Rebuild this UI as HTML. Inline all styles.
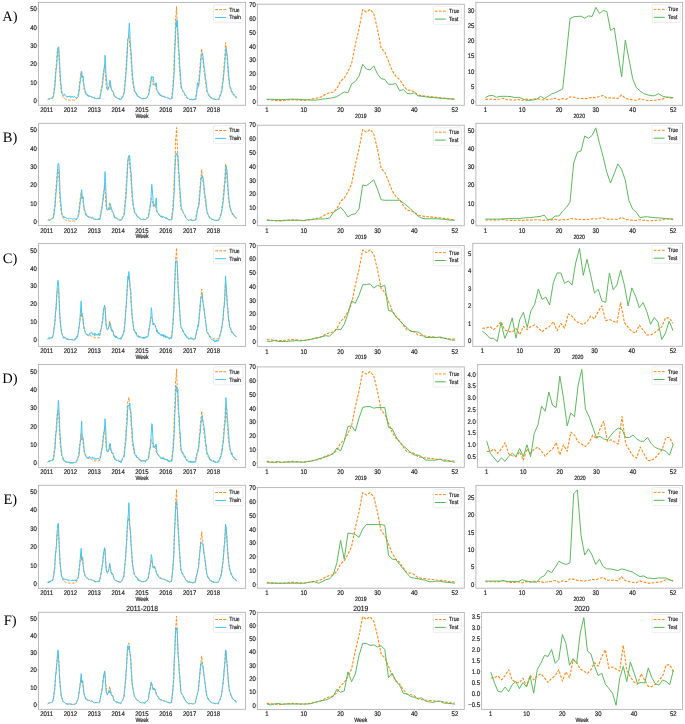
<!DOCTYPE html>
<html><head><meta charset="utf-8"><style>
html,body{margin:0;padding:0;background:#fff;}
svg{display:block;will-change:transform;}
text{text-rendering:geometricPrecision;font-family:"Liberation Sans",sans-serif;fill:#1a1a1a;stroke:#1a1a1a;stroke-width:0.18px;}
text.ser{font-family:"Liberation Serif",serif;fill:#000;stroke:none;}
</style></head><body>
<svg width="685" height="724" viewBox="0 0 685 724">
<rect width="685" height="724" fill="#fff"/>
<clipPath id="c0"><rect x="38.5" y="2.4" width="207.1" height="102.9"/></clipPath>
<polyline clip-path="url(#c0)" points="47.79,99.52 48.25,99.27 48.71,99.07 49.17,98.92 49.62,98.72 50.08,98.59 50.54,98.43 51,98.28 51.46,98.23 51.91,98.03 52.37,97.69 52.83,96.67 53.29,94.89 53.75,92.24 54.2,87.79 54.66,85.34 55.12,77.7 55.58,70.95 56.04,67.88 56.5,60.58 56.95,54.47 57.41,50.64 57.87,48.22 58.33,48.22 58.79,54.51 59.24,62.74 59.7,72.65 60.16,81.12 60.62,85.33 61.08,89.66 61.53,93.07 61.99,94.28 62.45,95.5 62.91,96.66 63.37,97.76 63.82,98.12 64.28,98.32 64.74,98.68 65.2,99 65.66,99.36 66.12,99.64 66.57,99.71 67.03,99.8 67.49,99.84 67.95,99.88 68.41,99.93 68.86,99.98 69.32,100.05 69.78,100.09 70.24,100.15 70.7,100.21 71.15,100.22 71.61,100.2 72.07,100.18 72.53,100.17 72.99,100.15 73.44,100.15 73.9,100.12 74.36,100.09 74.82,100.08 75.28,100.07 75.74,99.92 76.19,98.93 76.65,97.96 77.11,97.05 77.57,96.08 78.03,95.1 78.48,92.62 78.94,88.44 79.4,84.26 79.86,81.12 80.32,77.67 80.77,74.56 81.23,71.19 81.69,77.62 82.15,76.77 82.61,75.79 83.06,80.76 83.52,84.72 83.98,88.75 84.44,90.37 84.9,91.75 85.35,92.85 85.81,94.35 86.27,94.75 86.73,94.88 87.19,95.29 87.65,95.61 88.1,95.95 88.56,96.03 89.02,95.99 89.48,96.32 89.94,96.18 90.39,96.25 90.85,96.37 91.31,96.66 91.77,96.89 92.23,97.21 92.68,97.45 93.14,97.72 93.6,98.03 94.06,98.16 94.52,98.45 94.97,98.61 95.43,98.55 95.89,98.54 96.35,98.53 96.81,98.52 97.27,98.48 97.72,98.45 98.18,98.43 98.64,98.43 99.1,98.47 99.56,98.16 100.01,95.81 100.47,93.27 100.93,90.7 101.39,88.29 101.85,85.84 102.3,81.78 102.76,78.34 103.22,73.03 103.68,70.67 104.14,69.19 104.59,64.94 105.05,69.5 105.51,76.15 105.97,82.79 106.43,88.13 106.89,88.59 107.34,89.63 107.8,89.2 108.26,88.45 108.72,86.85 109.18,84.72 109.63,81.3 110.09,83.06 110.55,85.97 111.01,88.71 111.47,89.9 111.92,90.68 112.38,90.96 112.84,91.45 113.3,93.23 113.76,94.94 114.21,96.41 114.67,96.9 115.13,97.16 115.59,97.27 116.05,97.43 116.51,97.76 116.96,97.95 117.42,98.15 117.88,98.29 118.34,98.58 118.8,98.73 119.25,98.96 119.71,99.2 120.17,99.44 120.63,99.61 121.09,98.92 121.54,98.05 122,97.21 122.46,96.22 122.92,95.39 123.38,94.43 123.83,93.42 124.29,88.3 124.75,83.9 125.21,78.77 125.67,73.03 126.13,65.55 126.58,59.3 127.04,50.24 127.5,41.78 127.96,38.6 128.42,37.09 128.87,34.98 129.33,39.4 129.79,45.85 130.25,48.75 130.71,52.81 131.16,62.63 131.62,67.52 132.08,76.75 132.54,81.3 133,84.17 133.45,86.57 133.91,89.25 134.37,91.51 134.83,92.23 135.29,92.89 135.75,93.6 136.2,94.06 136.66,94.8 137.12,95.53 137.58,96.08 138.04,96.31 138.49,96.78 138.95,97.12 139.41,97.53 139.87,97.82 140.33,98.2 140.78,98.48 141.24,98.49 141.7,98.51 142.16,98.47 142.62,98.53 143.07,98.62 143.53,98.68 143.99,98.66 144.45,98.68 144.91,98.71 145.36,98.45 145.82,97.94 146.28,97.53 146.74,97.13 147.2,96.58 147.66,96.33 148.11,95.76 148.57,93.1 149.03,90.19 149.49,86.72 149.95,85.16 150.4,81.94 150.86,79.93 151.32,77.26 151.78,78.5 152.24,80.38 152.69,82.07 153.15,85.16 153.61,84.83 154.07,84.06 154.53,84.06 154.98,85.24 155.44,85.73 155.9,87.69 156.36,89.41 156.82,91.05 157.28,91.48 157.73,92.13 158.19,92.72 158.65,93.54 159.11,94.02 159.57,94.56 160.02,95.3 160.48,95.39 160.94,95.65 161.4,95.84 161.86,95.93 162.31,95.9 162.77,96.14 163.23,96.2 163.69,96.47 164.15,96.66 164.6,96.69 165.06,96.89 165.52,97.27 165.98,97.34 166.44,97.65 166.9,97.85 167.35,97.93 167.81,98.26 168.27,98.43 168.73,98.54 169.19,98.76 169.64,98.76 170.1,98.72 170.56,98.68 171.02,98.58 171.48,98.57 171.93,94.3 172.39,90.46 172.85,85.92 173.31,77.66 173.77,72.48 174.22,55.2 174.68,45.9 175.14,36.27 175.6,17.34 176.06,15.24 176.52,6.49 176.97,18.81 177.43,27.15 177.89,40.68 178.35,49.86 178.81,55.2 179.26,65.31 179.72,71.71 180.18,78.36 180.64,85.06 181.1,88.12 181.55,89.15 182.01,89.97 182.47,90.57 182.93,91.63 183.39,92.37 183.84,93.2 184.3,94.18 184.76,94.89 185.22,95.77 185.68,96.59 186.14,97.31 186.59,97.69 187.05,98 187.51,98.51 187.97,98.91 188.43,99.3 188.88,99.28 189.34,99.32 189.8,99.33 190.26,99.33 190.72,99.33 191.17,99.36 191.63,99.43 192.09,99.55 192.55,99.63 193.01,99.65 193.46,99.51 193.92,99.36 194.38,99.25 194.84,99.13 195.3,98.97 195.75,96.59 196.21,93.99 196.67,91.77 197.13,90.05 197.59,88 198.05,86.62 198.5,85.16 198.96,78.64 199.42,72.74 199.88,68.62 200.34,62.24 200.79,56.67 201.25,53.97 201.71,48.77 202.17,54.26 202.63,57.43 203.08,61.27 203.54,65.69 204,70.45 204.46,73.03 204.92,77.3 205.37,80.32 205.83,84.52 206.29,87.51 206.75,91.45 207.21,92.02 207.67,93.4 208.12,94.24 208.58,95.01 209.04,96.03 209.5,96.99 209.96,97.39 210.41,97.61 210.87,97.82 211.33,98.1 211.79,98.27 212.25,98.5 212.7,98.64 213.16,98.85 213.62,99.09 214.08,99.3 214.54,99.44 214.99,99.48 215.45,99.49 215.91,99.49 216.37,99.47 216.83,99.5 217.29,99.5 217.74,99.51 218.2,99.46 218.66,98.49 219.12,97.39 219.58,96.43 220.03,95.19 220.49,93.92 220.95,92.34 221.41,90.45 221.87,87.12 222.32,83.64 222.78,80.57 223.24,75.34 223.7,70.77 224.16,63.84 224.61,60.15 225.07,52.75 225.53,42.52 225.99,45.96 226.45,50.24 226.91,56.4 227.36,62.88 227.82,68.62 228.28,75.05 228.74,79.48 229.2,83.69 229.65,85.98 230.11,87.61 230.57,89.31 231.03,90.93 231.49,91.69 231.94,92.72 232.4,93.26 232.86,94.21 233.32,94.89 233.78,95.25 234.23,95.61 234.69,96.27 235.15,96.58 235.61,97.02 236.07,97.6 236.53,98" fill="none" stroke="#fa8a1c" stroke-width="0.95" stroke-dasharray="2.7,1.4" stroke-linejoin="round"/>
<polyline clip-path="url(#c0)" points="47.79,99.59 48.25,99.44 48.71,98.68 49.17,99.12 49.62,98.91 50.08,98.59 50.54,99.04 51,98.41 51.46,98.09 51.91,97.8 52.37,98.64 52.83,97.99 53.29,97.33 53.75,94.35 54.2,91.86 54.66,88.84 55.12,84.14 55.58,76.25 56.04,70.39 56.5,67.43 56.95,62.02 57.41,56.31 57.87,48.49 58.33,47.22 58.79,46.74 59.24,54.38 59.7,64.45 60.16,72.74 60.62,81.28 61.08,84.48 61.53,89.62 61.99,92.8 62.45,93.78 62.91,94.08 63.37,94.96 63.82,95.73 64.28,94.21 64.74,94.15 65.2,94.8 65.66,95.34 66.12,96.36 66.57,96.77 67.03,96.75 67.49,97.19 67.95,96.11 68.41,96.73 68.86,96.07 69.32,96.85 69.78,96.01 70.24,96.23 70.7,97.63 71.15,97.36 71.61,96.26 72.07,96.94 72.53,96.11 72.99,97.02 73.44,97.52 73.9,96.63 74.36,96.37 74.82,97.15 75.28,97.54 75.74,97.77 76.19,97.3 76.65,97.25 77.11,97.9 77.57,97.44 78.03,96.74 78.48,95.86 78.94,92.05 79.4,89.17 79.86,84.1 80.32,81.21 80.77,78.38 81.23,73.1 81.69,71.65 82.15,76.7 82.61,77.82 83.06,76.01 83.52,81.59 83.98,85.31 84.44,87.69 84.9,89.74 85.35,92.14 85.81,92.11 86.27,94.87 86.73,94.93 87.19,94.27 87.65,95.05 88.1,96.29 88.56,95.14 89.02,96.51 89.48,96.39 89.94,95.87 90.39,96.46 90.85,96.58 91.31,97.06 91.77,97.31 92.23,96.76 92.68,97.61 93.14,97.29 93.6,97.92 94.06,98.1 94.52,97.48 94.97,98.47 95.43,98.5 95.89,98.02 96.35,99 96.81,99.04 97.27,97.92 97.72,98.01 98.18,98.81 98.64,98.88 99.1,98.08 99.56,97.83 100.01,98.61 100.47,95.06 100.93,92.56 101.39,90.48 101.85,88.47 102.3,86.82 102.76,83.06 103.22,76.9 103.68,73.72 104.14,68.51 104.59,65.82 105.05,55.2 105.51,62.65 105.97,74.19 106.43,78.37 106.89,82.7 107.34,89.39 107.8,90.22 108.26,89.07 108.72,87.65 109.18,86.58 109.63,85.28 110.09,80.12 110.55,83.86 111.01,87.16 111.47,89.23 111.92,90.02 112.38,91.6 112.84,91.63 113.3,91.71 113.76,93.1 114.21,95.58 114.67,96.63 115.13,96.29 115.59,96.41 116.05,97.03 116.51,97.13 116.96,97.63 117.42,98.49 117.88,98.84 118.34,99 118.8,97.98 119.25,98.45 119.71,98.3 120.17,99.87 120.63,99.25 121.09,99.64 121.54,98.59 122,98.32 122.46,96.43 122.92,96.91 123.38,95.31 123.83,94.01 124.29,92.67 124.75,87.76 125.21,83.37 125.67,77.88 126.13,71.58 126.58,66.15 127.04,58.44 127.5,48.09 127.96,39.28 128.42,37.48 128.87,29.85 129.33,23.03 129.79,30.79 130.25,41.39 130.71,48.41 131.16,52.25 131.62,62.15 132.08,69.17 132.54,76.31 133,79.9 133.45,83.19 133.91,86.02 134.37,89.49 134.83,91.04 135.29,92.07 135.75,93.01 136.2,92.98 136.66,94.81 137.12,94.37 137.58,96.32 138.04,95.92 138.49,96.34 138.95,97.21 139.41,96.81 139.87,97.53 140.33,97.64 140.78,97.58 141.24,98.84 141.7,99.21 142.16,98.8 142.62,98.21 143.07,98.96 143.53,99.1 143.99,98.09 144.45,98.43 144.91,98.76 145.36,98.14 145.82,98.71 146.28,97.69 146.74,97.99 147.2,97.24 147.66,96.09 148.11,95.65 148.57,95.12 149.03,93.32 149.49,90.02 149.95,87.16 150.4,86.08 150.86,81.95 151.32,78.94 151.78,76.16 152.24,77.83 152.69,77.98 153.15,76.69 153.61,80.59 154.07,84.16 154.53,84.63 154.98,84.8 155.44,85.41 155.9,82.89 156.36,82.99 156.82,89.48 157.28,90.35 157.73,90.51 158.19,92.22 158.65,93.53 159.11,94.4 159.57,93.34 160.02,95.37 160.48,94.94 160.94,95.27 161.4,95.97 161.86,95.35 162.31,96.73 162.77,96.51 163.23,96.22 163.69,96.98 164.15,95.94 164.6,97.08 165.06,97.27 165.52,97.61 165.98,97.07 166.44,97.42 166.9,97.46 167.35,97.62 167.81,97.47 168.27,97.58 168.73,98.16 169.19,98.98 169.64,98.8 170.1,99.22 170.56,99.42 171.02,98.72 171.48,98.27 171.93,99.03 172.39,94.71 172.85,90.79 173.31,85.44 173.77,77.6 174.22,72.07 174.68,53.94 175.14,46.51 175.6,34.39 176.06,21.63 176.52,27.18 176.97,19.54 177.43,23.39 177.89,31.16 178.35,40.96 178.81,49.19 179.26,53.18 179.72,65.82 180.18,71.46 180.64,77.2 181.1,84.31 181.55,87.1 182.01,89.23 182.47,89.64 182.93,91.18 183.39,91.19 183.84,91.75 184.3,92.94 184.76,93.79 185.22,95.39 185.68,95.1 186.14,95.81 186.59,96.57 187.05,97.63 187.51,97.57 187.97,98.77 188.43,98.33 188.88,98.81 189.34,99.49 189.8,99.9 190.26,99.41 190.72,99.26 191.17,98.96 191.63,99.37 192.09,100.08 192.55,99.13 193.01,100.22 193.46,99.24 193.92,99.96 194.38,99.59 194.84,98.85 195.3,99.64 195.75,99.47 196.21,96.55 196.67,93.05 197.13,86.21 197.59,82.83 198.05,85.43 198.5,86.58 198.96,84.03 199.42,79.9 199.88,73.72 200.34,68.52 200.79,63.15 201.25,55.77 201.71,54.39 202.17,52.89 202.63,53.54 203.08,57.21 203.54,62.1 204,66.17 204.46,69.17 204.92,71.63 205.37,78.22 205.83,79.3 206.29,83.32 206.75,87.46 207.21,91.3 207.67,92.61 208.12,93.34 208.58,94.23 209.04,94.82 209.5,96.81 209.96,96.26 210.41,97.36 210.87,97.76 211.33,97.37 211.79,98.01 212.25,98.28 212.7,98.23 213.16,99.26 213.62,98.79 214.08,99.21 214.54,98.67 214.99,98.85 215.45,99.79 215.91,99.53 216.37,100.01 216.83,99.57 217.29,99.07 217.74,98.95 218.2,99.54 218.66,99.71 219.12,98.94 219.58,97.21 220.03,95.74 220.49,95.83 220.95,93.41 221.41,93.27 221.87,91.09 222.32,87.77 222.78,83.15 223.24,81.08 223.7,75.82 224.16,70.33 224.61,65.51 225.07,59.11 225.53,54.85 225.99,48.18 226.45,50.57 226.91,52.77 227.36,56.25 227.82,63.16 228.28,69.1 228.74,75.34 229.2,79.39 229.65,84.59 230.11,86.7 230.57,87.3 231.03,89.01 231.49,90.87 231.94,90.99 232.4,92.51 232.86,92.59 233.32,94.69 233.78,94.47 234.23,94.72 234.69,94.93 235.15,96.57 235.61,96.88 236.07,96.36 236.53,98.03" fill="none" stroke="#3ec3f2" stroke-width="0.95" stroke-linejoin="round"/>
<rect x="38.5" y="2.4" width="207.1" height="102.9" fill="none" stroke="#b3b3b3" stroke-width="0.9"/>
<line x1="37.2" y1="100.6" x2="38.5" y2="100.6" stroke="#b3b3b3" stroke-width="0.6"/>
<text transform="matrix(0.89,0,0,1,36.9,103.05)" text-anchor="end" font-size="6.7">0</text>
<line x1="37.2" y1="82.22" x2="38.5" y2="82.22" stroke="#b3b3b3" stroke-width="0.6"/>
<text transform="matrix(0.89,0,0,1,36.9,84.67)" text-anchor="end" font-size="6.7">10</text>
<line x1="37.2" y1="63.84" x2="38.5" y2="63.84" stroke="#b3b3b3" stroke-width="0.6"/>
<text transform="matrix(0.89,0,0,1,36.9,66.29)" text-anchor="end" font-size="6.7">20</text>
<line x1="37.2" y1="45.46" x2="38.5" y2="45.46" stroke="#b3b3b3" stroke-width="0.6"/>
<text transform="matrix(0.89,0,0,1,36.9,47.91)" text-anchor="end" font-size="6.7">30</text>
<line x1="37.2" y1="27.08" x2="38.5" y2="27.08" stroke="#b3b3b3" stroke-width="0.6"/>
<text transform="matrix(0.89,0,0,1,36.9,29.53)" text-anchor="end" font-size="6.7">40</text>
<line x1="37.2" y1="8.7" x2="38.5" y2="8.7" stroke="#b3b3b3" stroke-width="0.6"/>
<text transform="matrix(0.89,0,0,1,36.9,11.15)" text-anchor="end" font-size="6.7">50</text>
<line x1="46.6" y1="105.3" x2="46.6" y2="106.6" stroke="#b3b3b3" stroke-width="0.6"/>
<text transform="matrix(0.89,0,0,1,46.6,112.35)" text-anchor="middle" font-size="6.7">2011</text>
<line x1="70.43" y1="105.3" x2="70.43" y2="106.6" stroke="#b3b3b3" stroke-width="0.6"/>
<text transform="matrix(0.89,0,0,1,70.43,112.35)" text-anchor="middle" font-size="6.7">2012</text>
<line x1="94.26" y1="105.3" x2="94.26" y2="106.6" stroke="#b3b3b3" stroke-width="0.6"/>
<text transform="matrix(0.89,0,0,1,94.26,112.35)" text-anchor="middle" font-size="6.7">2013</text>
<line x1="118.09" y1="105.3" x2="118.09" y2="106.6" stroke="#b3b3b3" stroke-width="0.6"/>
<text transform="matrix(0.89,0,0,1,118.09,112.35)" text-anchor="middle" font-size="6.7">2014</text>
<line x1="141.92" y1="105.3" x2="141.92" y2="106.6" stroke="#b3b3b3" stroke-width="0.6"/>
<text transform="matrix(0.89,0,0,1,141.92,112.35)" text-anchor="middle" font-size="6.7">2015</text>
<line x1="165.75" y1="105.3" x2="165.75" y2="106.6" stroke="#b3b3b3" stroke-width="0.6"/>
<text transform="matrix(0.89,0,0,1,165.75,112.35)" text-anchor="middle" font-size="6.7">2016</text>
<line x1="189.58" y1="105.3" x2="189.58" y2="106.6" stroke="#b3b3b3" stroke-width="0.6"/>
<text transform="matrix(0.89,0,0,1,189.58,112.35)" text-anchor="middle" font-size="6.7">2017</text>
<line x1="213.41" y1="105.3" x2="213.41" y2="106.6" stroke="#b3b3b3" stroke-width="0.6"/>
<text transform="matrix(0.89,0,0,1,213.41,112.35)" text-anchor="middle" font-size="6.7">2018</text>
<text transform="matrix(0.84,0,0,1,142.05,118.1)" text-anchor="middle" font-size="6.2">Week</text>
<rect x="213.6" y="4.7" width="29.5" height="18.0" rx="1" fill="#fff" fill-opacity="0.85" stroke="#e2e2e2" stroke-width="0.6"/>
<line x1="215.2" y1="9.6" x2="226.1" y2="9.6" stroke="#fa8a1c" stroke-width="1" stroke-dasharray="2.7,1.4"/>
<text transform="matrix(0.86,0,0,1,229.3,11.5)" font-size="6.0">True</text>
<line x1="215.2" y1="17.5" x2="226.1" y2="17.5" stroke="#3ec3f2" stroke-width="1"/>
<text transform="matrix(0.86,0,0,1,229.3,19.4)" font-size="6.0">Train</text>
<clipPath id="c1"><rect x="257.4" y="4.2" width="206.9" height="101.1"/></clipPath>
<polyline clip-path="url(#c1)" points="266.8,99.56 270.49,99.84 274.18,100.25 277.87,100.67 281.56,100.67 285.24,100.25 288.93,99.84 292.62,99.56 296.31,99.84 300,100.25 303.69,100.53 307.37,99.84 311.06,99.28 314.75,98.31 318.44,97.9 322.13,96.51 325.81,94.02 329.5,92.77 333.19,91.94 336.88,88.47 340.57,81.13 344.25,77.94 347.94,71.57 351.63,63.53 355.32,44.69 359.01,28.89 362.69,9.35 366.38,11.98 370.07,9.35 373.76,13.65 377.45,28.89 381.13,48.15 384.82,52.17 388.51,61.04 392.2,70.6 395.89,76.28 399.57,79.47 403.26,85.15 406.95,89.86 410.64,90.41 414.33,91.8 418.01,94.99 421.7,95.68 425.39,96.1 429.08,96.51 432.77,96.79 436.46,97.34 440.14,97.62 443.83,98.04 447.52,98.59 451.21,99.14 454.9,99.14" fill="none" stroke="#fa8a1c" stroke-width="1.1" stroke-dasharray="2.7,1.4" stroke-linejoin="round"/>
<polyline clip-path="url(#c1)" points="266.8,99.28 270.49,99.28 274.18,99.42 277.87,99.56 281.56,99.56 285.24,99.42 288.93,99.28 292.62,99.14 296.31,99.28 300,99.42 303.69,99.56 307.37,99.84 311.06,100.11 314.75,100.11 318.44,99.84 322.13,99.14 325.81,98.73 329.5,98.31 333.19,97.62 336.88,96.65 340.57,94.29 344.25,91.94 347.94,92.77 351.63,83.9 355.32,81.41 359.01,76.28 362.69,64.22 366.38,69.07 370.07,69.91 373.76,65.89 377.45,73.92 381.13,78.64 384.82,79.47 388.51,84.32 392.2,84.32 395.89,83.49 399.57,90.69 403.26,89.58 406.95,93.19 410.64,93.88 414.33,92.77 418.01,95.96 421.7,96.23 425.39,96.79 429.08,97.34 432.77,97.62 436.46,97.9 440.14,98.17 443.83,98.45 447.52,98.73 451.21,98.87 454.9,99.01" fill="none" stroke="#55b355" stroke-width="0.95" stroke-linejoin="round"/>
<rect x="257.4" y="4.2" width="206.9" height="101.1" fill="none" stroke="#b3b3b3" stroke-width="0.9"/>
<line x1="256.1" y1="101.5" x2="257.4" y2="101.5" stroke="#b3b3b3" stroke-width="0.6"/>
<text transform="matrix(0.89,0,0,1,255.8,103.95)" text-anchor="end" font-size="6.7">0</text>
<line x1="256.1" y1="87.64" x2="257.4" y2="87.64" stroke="#b3b3b3" stroke-width="0.6"/>
<text transform="matrix(0.89,0,0,1,255.8,90.09)" text-anchor="end" font-size="6.7">10</text>
<line x1="256.1" y1="73.79" x2="257.4" y2="73.79" stroke="#b3b3b3" stroke-width="0.6"/>
<text transform="matrix(0.89,0,0,1,255.8,76.24)" text-anchor="end" font-size="6.7">20</text>
<line x1="256.1" y1="59.93" x2="257.4" y2="59.93" stroke="#b3b3b3" stroke-width="0.6"/>
<text transform="matrix(0.89,0,0,1,255.8,62.38)" text-anchor="end" font-size="6.7">30</text>
<line x1="256.1" y1="46.07" x2="257.4" y2="46.07" stroke="#b3b3b3" stroke-width="0.6"/>
<text transform="matrix(0.89,0,0,1,255.8,48.52)" text-anchor="end" font-size="6.7">40</text>
<line x1="256.1" y1="32.21" x2="257.4" y2="32.21" stroke="#b3b3b3" stroke-width="0.6"/>
<text transform="matrix(0.89,0,0,1,255.8,34.66)" text-anchor="end" font-size="6.7">50</text>
<line x1="256.1" y1="18.36" x2="257.4" y2="18.36" stroke="#b3b3b3" stroke-width="0.6"/>
<text transform="matrix(0.89,0,0,1,255.8,20.81)" text-anchor="end" font-size="6.7">60</text>
<line x1="256.1" y1="4.5" x2="257.4" y2="4.5" stroke="#b3b3b3" stroke-width="0.6"/>
<text transform="matrix(0.89,0,0,1,255.8,6.95)" text-anchor="end" font-size="6.7">70</text>
<line x1="266.8" y1="105.3" x2="266.8" y2="106.6" stroke="#b3b3b3" stroke-width="0.6"/>
<text transform="matrix(0.89,0,0,1,266.8,112.35)" text-anchor="middle" font-size="6.7">1</text>
<line x1="303.69" y1="105.3" x2="303.69" y2="106.6" stroke="#b3b3b3" stroke-width="0.6"/>
<text transform="matrix(0.89,0,0,1,303.69,112.35)" text-anchor="middle" font-size="6.7">10</text>
<line x1="340.57" y1="105.3" x2="340.57" y2="106.6" stroke="#b3b3b3" stroke-width="0.6"/>
<text transform="matrix(0.89,0,0,1,340.57,112.35)" text-anchor="middle" font-size="6.7">20</text>
<line x1="377.45" y1="105.3" x2="377.45" y2="106.6" stroke="#b3b3b3" stroke-width="0.6"/>
<text transform="matrix(0.89,0,0,1,377.45,112.35)" text-anchor="middle" font-size="6.7">30</text>
<line x1="414.33" y1="105.3" x2="414.33" y2="106.6" stroke="#b3b3b3" stroke-width="0.6"/>
<text transform="matrix(0.89,0,0,1,414.33,112.35)" text-anchor="middle" font-size="6.7">40</text>
<line x1="454.9" y1="105.3" x2="454.9" y2="106.6" stroke="#b3b3b3" stroke-width="0.6"/>
<text transform="matrix(0.89,0,0,1,454.9,112.35)" text-anchor="middle" font-size="6.7">52</text>
<text transform="matrix(0.84,0,0,1,360.85,118.1)" text-anchor="middle" font-size="6.2">2019</text>
<rect x="433.3" y="6.3" width="28" height="18.0" rx="1" fill="#fff" fill-opacity="0.85" stroke="#e2e2e2" stroke-width="0.6"/>
<line x1="434.9" y1="11.2" x2="445.8" y2="11.2" stroke="#fa8a1c" stroke-width="1" stroke-dasharray="2.7,1.4"/>
<text transform="matrix(0.86,0,0,1,449,13.1)" font-size="6.0">True</text>
<line x1="434.9" y1="19.1" x2="445.8" y2="19.1" stroke="#55b355" stroke-width="1"/>
<text transform="matrix(0.86,0,0,1,449,21)" font-size="6.0">Test</text>
<clipPath id="c2"><rect x="475.9" y="2.4" width="206.7" height="102.9"/></clipPath>
<polyline clip-path="url(#c2)" points="485.3,99.37 488.98,99.34 492.66,99.07 496.35,99.62 500.03,99.04 503.72,98.22 507.4,99.68 511.09,99.92 514.77,100.04 518.46,99.4 522.14,100.5 525.82,99.04 529.51,99.62 533.19,99.04 536.88,98.8 540.56,99.34 544.25,99.98 547.93,99.4 551.62,99.07 555.3,98.22 558.99,99.8 562.67,98.52 566.35,99.34 570.04,96.85 573.72,97.25 577.41,98.13 581.09,98.43 584.78,98.74 588.46,98.22 592.15,97.25 595.83,97.73 599.51,96.43 603.2,95.46 606.88,98.04 610.57,97.86 614.25,98.13 617.94,98.4 621.62,94.85 625.31,98.34 628.99,99.22 632.68,99.92 636.36,100.22 640.04,98.8 643.73,99.68 647.41,100.53 651.1,100.56 654.78,100.22 658.47,99.68 662.15,99.13 665.84,97.55 669.52,97.55 673.2,98.49" fill="none" stroke="#fa8a1c" stroke-width="1.1" stroke-dasharray="2.7,1.4" stroke-linejoin="round"/>
<polyline clip-path="url(#c2)" points="485.3,97.55 488.98,95.73 492.66,95.43 496.35,97.25 500.03,96.34 503.72,96.34 507.4,96.34 511.09,96.64 514.77,97.55 518.46,97.25 522.14,98.46 525.82,100.29 529.51,100.29 533.19,99.98 536.88,99.07 540.56,96.34 544.25,98.77 547.93,96.34 551.62,93.91 555.3,92.69 558.99,90.87 562.67,89.05 566.35,54.74 570.04,18.6 573.72,16.78 577.41,16.47 581.09,16.17 584.78,18.3 588.46,15.87 592.15,16.47 595.83,7.36 599.51,13.44 603.2,10.4 606.88,11.61 610.57,30.44 614.25,28.01 617.94,52.91 621.62,76.9 625.31,40.16 628.99,59.29 632.68,78.72 636.36,87.53 640.04,90.87 643.73,93.6 647.41,94.82 651.1,95.73 654.78,95.73 658.47,93.6 662.15,96.03 665.84,96.95 669.52,97.25 673.2,97.55" fill="none" stroke="#55b355" stroke-width="0.95" stroke-linejoin="round"/>
<rect x="475.9" y="2.4" width="206.7" height="102.9" fill="none" stroke="#b3b3b3" stroke-width="0.9"/>
<line x1="474.6" y1="101.5" x2="475.9" y2="101.5" stroke="#b3b3b3" stroke-width="0.6"/>
<text transform="matrix(0.89,0,0,1,474.3,103.95)" text-anchor="end" font-size="6.7">0</text>
<line x1="474.6" y1="86.32" x2="475.9" y2="86.32" stroke="#b3b3b3" stroke-width="0.6"/>
<text transform="matrix(0.89,0,0,1,474.3,88.77)" text-anchor="end" font-size="6.7">5</text>
<line x1="474.6" y1="71.13" x2="475.9" y2="71.13" stroke="#b3b3b3" stroke-width="0.6"/>
<text transform="matrix(0.89,0,0,1,474.3,73.58)" text-anchor="end" font-size="6.7">10</text>
<line x1="474.6" y1="55.95" x2="475.9" y2="55.95" stroke="#b3b3b3" stroke-width="0.6"/>
<text transform="matrix(0.89,0,0,1,474.3,58.4)" text-anchor="end" font-size="6.7">15</text>
<line x1="474.6" y1="40.77" x2="475.9" y2="40.77" stroke="#b3b3b3" stroke-width="0.6"/>
<text transform="matrix(0.89,0,0,1,474.3,43.22)" text-anchor="end" font-size="6.7">20</text>
<line x1="474.6" y1="25.58" x2="475.9" y2="25.58" stroke="#b3b3b3" stroke-width="0.6"/>
<text transform="matrix(0.89,0,0,1,474.3,28.03)" text-anchor="end" font-size="6.7">25</text>
<line x1="474.6" y1="10.4" x2="475.9" y2="10.4" stroke="#b3b3b3" stroke-width="0.6"/>
<text transform="matrix(0.89,0,0,1,474.3,12.85)" text-anchor="end" font-size="6.7">30</text>
<line x1="485.3" y1="105.3" x2="485.3" y2="106.6" stroke="#b3b3b3" stroke-width="0.6"/>
<text transform="matrix(0.89,0,0,1,485.3,112.35)" text-anchor="middle" font-size="6.7">1</text>
<line x1="522.14" y1="105.3" x2="522.14" y2="106.6" stroke="#b3b3b3" stroke-width="0.6"/>
<text transform="matrix(0.89,0,0,1,522.14,112.35)" text-anchor="middle" font-size="6.7">10</text>
<line x1="558.99" y1="105.3" x2="558.99" y2="106.6" stroke="#b3b3b3" stroke-width="0.6"/>
<text transform="matrix(0.89,0,0,1,558.99,112.35)" text-anchor="middle" font-size="6.7">20</text>
<line x1="595.83" y1="105.3" x2="595.83" y2="106.6" stroke="#b3b3b3" stroke-width="0.6"/>
<text transform="matrix(0.89,0,0,1,595.83,112.35)" text-anchor="middle" font-size="6.7">30</text>
<line x1="632.68" y1="105.3" x2="632.68" y2="106.6" stroke="#b3b3b3" stroke-width="0.6"/>
<text transform="matrix(0.89,0,0,1,632.68,112.35)" text-anchor="middle" font-size="6.7">40</text>
<line x1="673.2" y1="105.3" x2="673.2" y2="106.6" stroke="#b3b3b3" stroke-width="0.6"/>
<text transform="matrix(0.89,0,0,1,673.2,112.35)" text-anchor="middle" font-size="6.7">52</text>
<text transform="matrix(0.84,0,0,1,579.25,118.1)" text-anchor="middle" font-size="6.2">2020</text>
<rect x="652.2" y="4.5" width="28" height="18.0" rx="1" fill="#fff" fill-opacity="0.85" stroke="#e2e2e2" stroke-width="0.6"/>
<line x1="653.8" y1="9.4" x2="664.7" y2="9.4" stroke="#fa8a1c" stroke-width="1" stroke-dasharray="2.7,1.4"/>
<text transform="matrix(0.86,0,0,1,667.9,11.3)" font-size="6.0">True</text>
<line x1="653.8" y1="17.3" x2="664.7" y2="17.3" stroke="#55b355" stroke-width="1"/>
<text transform="matrix(0.86,0,0,1,667.9,19.2)" font-size="6.0">Test</text>
<clipPath id="c3"><rect x="38.5" y="123.3" width="207.1" height="102.3"/></clipPath>
<polyline clip-path="url(#c3)" points="47.79,220.42 48.25,220.17 48.71,219.97 49.17,219.82 49.62,219.62 50.08,219.49 50.54,219.33 51,219.18 51.46,219.13 51.91,218.94 52.37,218.59 52.83,217.58 53.29,215.8 53.75,213.16 54.2,208.71 54.66,206.28 55.12,198.65 55.58,191.92 56.04,188.85 56.5,181.56 56.95,175.47 57.41,171.65 57.87,169.23 58.33,169.23 58.79,175.51 59.24,183.72 59.7,193.61 60.16,202.06 60.62,206.27 61.08,210.58 61.53,213.98 61.99,215.2 62.45,216.42 62.91,217.57 63.37,218.66 63.82,219.02 64.28,219.23 64.74,219.59 65.2,219.91 65.66,220.27 66.12,220.54 66.57,220.61 67.03,220.7 67.49,220.75 67.95,220.78 68.41,220.84 68.86,220.88 69.32,220.95 69.78,220.99 70.24,221.05 70.7,221.11 71.15,221.12 71.61,221.1 72.07,221.08 72.53,221.07 72.99,221.05 73.44,221.05 73.9,221.03 74.36,220.99 74.82,220.99 75.28,220.98 75.74,220.82 76.19,219.84 76.65,218.87 77.11,217.96 77.57,216.99 78.03,216.01 78.48,213.54 78.94,209.37 79.4,205.2 79.86,202.06 80.32,198.62 80.77,195.52 81.23,192.16 81.69,198.57 82.15,197.72 82.61,196.74 83.06,201.71 83.52,205.65 83.98,209.67 84.44,211.3 84.9,212.67 85.35,213.76 85.81,215.26 86.27,215.66 86.73,215.8 87.19,216.2 87.65,216.52 88.1,216.86 88.56,216.94 89.02,216.9 89.48,217.23 89.94,217.09 90.39,217.15 90.85,217.28 91.31,217.57 91.77,217.8 92.23,218.12 92.68,218.36 93.14,218.63 93.6,218.94 94.06,219.06 94.52,219.35 94.97,219.51 95.43,219.46 95.89,219.44 96.35,219.44 96.81,219.42 97.27,219.38 97.72,219.35 98.18,219.34 98.64,219.34 99.1,219.38 99.56,219.06 100.01,216.72 100.47,214.19 100.93,211.62 101.39,209.22 101.85,206.78 102.3,202.72 102.76,199.29 103.22,193.99 103.68,191.63 104.14,190.16 104.59,185.92 105.05,190.46 105.51,197.11 105.97,203.73 106.43,209.06 106.89,209.52 107.34,210.56 107.8,210.13 108.26,209.37 108.72,207.78 109.18,205.66 109.63,202.24 110.09,204 110.55,206.9 111.01,209.64 111.47,210.83 111.92,211.61 112.38,211.88 112.84,212.37 113.3,214.15 113.76,215.85 114.21,217.32 114.67,217.81 115.13,218.07 115.59,218.18 116.05,218.33 116.51,218.67 116.96,218.86 117.42,219.05 117.88,219.19 118.34,219.48 118.8,219.64 119.25,219.86 119.71,220.1 120.17,220.34 120.63,220.52 121.09,219.82 121.54,218.95 122,218.12 122.46,217.13 122.92,216.3 123.38,215.35 123.83,214.33 124.29,209.23 124.75,204.84 125.21,199.72 125.67,193.99 126.13,186.52 126.58,180.29 127.04,171.25 127.5,162.81 127.96,159.63 128.42,158.13 128.87,156.03 129.33,160.43 129.79,166.87 130.25,169.76 130.71,173.82 131.16,183.61 131.62,188.49 132.08,197.7 132.54,202.24 133,205.11 133.45,207.5 133.91,210.17 134.37,212.43 134.83,213.15 135.29,213.81 135.75,214.52 136.2,214.97 136.66,215.72 137.12,216.44 137.58,216.99 138.04,217.22 138.49,217.69 138.95,218.02 139.41,218.44 139.87,218.72 140.33,219.11 140.78,219.39 141.24,219.4 141.7,219.42 142.16,219.37 142.62,219.44 143.07,219.53 143.53,219.58 143.99,219.56 144.45,219.58 144.91,219.61 145.36,219.36 145.82,218.84 146.28,218.44 146.74,218.04 147.2,217.49 147.66,217.24 148.11,216.67 148.57,214.02 149.03,211.11 149.49,207.65 149.95,206.09 150.4,202.88 150.86,200.87 151.32,198.21 151.78,199.45 152.24,201.33 152.69,203.01 153.15,206.09 153.61,205.76 154.07,205 154.53,204.99 154.98,206.17 155.44,206.67 155.9,208.62 156.36,210.33 156.82,211.97 157.28,212.4 157.73,213.05 158.19,213.63 158.65,214.45 159.11,214.93 159.57,215.48 160.02,216.21 160.48,216.31 160.94,216.56 161.4,216.75 161.86,216.84 162.31,216.81 162.77,217.05 163.23,217.11 163.69,217.38 164.15,217.57 164.6,217.6 165.06,217.8 165.52,218.18 165.98,218.25 166.44,218.56 166.9,218.75 167.35,218.83 167.81,219.16 168.27,219.34 168.73,219.45 169.19,219.67 169.64,219.67 170.1,219.63 170.56,219.58 171.02,219.49 171.48,219.47 171.93,215.22 172.39,211.39 172.85,206.86 173.31,198.61 173.77,193.44 174.22,176.2 174.68,166.92 175.14,157.31 175.6,138.42 176.06,136.32 176.52,127.6 176.97,139.89 177.43,148.21 177.89,161.71 178.35,170.87 178.81,176.2 179.26,186.29 179.72,192.67 180.18,199.31 180.64,206 181.1,209.05 181.55,210.08 182.01,210.89 182.47,211.49 182.93,212.55 183.39,213.29 183.84,214.12 184.3,215.1 184.76,215.8 185.22,216.68 185.68,217.5 186.14,218.22 186.59,218.6 187.05,218.91 187.51,219.41 187.97,219.81 188.43,220.21 188.88,220.18 189.34,220.22 189.8,220.23 190.26,220.23 190.72,220.23 191.17,220.26 191.63,220.34 192.09,220.45 192.55,220.53 193.01,220.55 193.46,220.41 193.92,220.27 194.38,220.15 194.84,220.03 195.3,219.88 195.75,217.5 196.21,214.91 196.67,212.69 197.13,210.97 197.59,208.93 198.05,207.55 198.5,206.09 198.96,199.59 199.42,193.7 199.88,189.59 200.34,183.22 200.79,177.67 201.25,174.97 201.71,169.78 202.17,175.26 202.63,178.43 203.08,182.25 203.54,186.66 204,191.41 204.46,193.99 204.92,198.25 205.37,201.27 205.83,205.46 206.29,208.44 206.75,212.37 207.21,212.93 207.67,214.32 208.12,215.15 208.58,215.92 209.04,216.94 209.5,217.9 209.96,218.29 210.41,218.51 210.87,218.73 211.33,219.01 211.79,219.17 212.25,219.41 212.7,219.54 213.16,219.75 213.62,219.99 214.08,220.2 214.54,220.34 214.99,220.38 215.45,220.4 215.91,220.4 216.37,220.38 216.83,220.4 217.29,220.41 217.74,220.41 218.2,220.36 218.66,219.4 219.12,218.3 219.58,217.34 220.03,216.1 220.49,214.83 220.95,213.26 221.41,211.37 221.87,208.05 222.32,204.58 222.78,201.51 223.24,196.29 223.7,191.73 224.16,184.82 224.61,181.14 225.07,173.76 225.53,163.55 225.99,166.98 226.45,171.25 226.91,177.39 227.36,183.87 227.82,189.59 228.28,196.01 228.74,200.42 229.2,204.63 229.65,206.91 230.11,208.54 230.57,210.24 231.03,211.85 231.49,212.61 231.94,213.64 232.4,214.17 232.86,215.12 233.32,215.8 233.78,216.16 234.23,216.52 234.69,217.18 235.15,217.49 235.61,217.93 236.07,218.51 236.53,218.9" fill="none" stroke="#fa8a1c" stroke-width="0.95" stroke-dasharray="2.7,1.4" stroke-linejoin="round"/>
<polyline clip-path="url(#c3)" points="47.79,220.46 48.25,220.21 48.71,219.94 49.17,220.48 49.62,220.51 50.08,219.8 50.54,219.82 51,218.88 51.46,218.9 51.91,218.98 52.37,218.85 52.83,218.35 53.29,218.15 53.75,215.91 54.2,213.82 54.66,207.78 55.12,207.38 55.58,197.66 56.04,193.47 56.5,188.11 56.95,182.06 57.41,174.43 57.87,164.63 58.33,163.23 58.79,163.63 59.24,169.65 59.7,182.84 60.16,194.96 60.62,200.67 61.08,205.15 61.53,211.42 61.99,214.13 62.45,215.53 62.91,215.99 63.37,216.19 63.82,217.61 64.28,216.67 64.74,217.76 65.2,217.92 65.66,217.2 66.12,218.22 66.57,218.46 67.03,218.27 67.49,218.54 67.95,218.72 68.41,219.29 68.86,218.29 69.32,217.98 69.78,218.04 70.24,218.55 70.7,219.07 71.15,219.12 71.61,218.64 72.07,218.64 72.53,219.46 72.99,219.27 73.44,219.05 73.9,218.83 74.36,218.36 74.82,218.79 75.28,219.56 75.74,218.8 76.19,219.64 76.65,218.95 77.11,218.86 77.57,218.06 78.03,217.17 78.48,215.54 78.94,214.3 79.4,209.25 79.86,206.01 80.32,201.32 80.77,199.21 81.23,194.06 81.69,189.67 82.15,196.52 82.61,198.57 83.06,196.75 83.52,202.53 83.98,206.21 84.44,209.73 84.9,210.33 85.35,212.71 85.81,212.9 86.27,215.86 86.73,214.92 87.19,216.03 87.65,216.73 88.1,216.1 88.56,216.18 89.02,217.76 89.48,217.29 89.94,216.79 90.39,217.35 90.85,217.58 91.31,218.07 91.77,218.3 92.23,217.61 92.68,217.36 93.14,217.59 93.6,218.62 94.06,219.64 94.52,219.32 94.97,218.94 95.43,219.03 95.89,219.25 96.35,219.83 96.81,219.4 97.27,219.46 97.72,219.2 98.18,219.7 98.64,218.68 99.1,218.76 99.56,219.87 100.01,219.37 100.47,216.1 100.93,214.6 101.39,210.7 101.85,209.18 102.3,206.29 102.76,202.15 103.22,200.13 103.68,194.37 104.14,190.32 104.59,182.24 105.05,171.59 105.51,181.69 105.97,191.68 106.43,203.16 106.89,209.57 107.34,209.66 107.8,209.52 108.26,210 108.72,209.14 109.18,208.11 109.63,209.86 110.09,204.86 110.55,204.55 111.01,206.69 111.47,208.74 111.92,210.21 112.38,211.44 112.84,212.2 113.3,212.63 113.76,213.71 114.21,215.74 114.67,218.1 115.13,217.48 115.59,217.44 116.05,217.72 116.51,217.72 116.96,218.05 117.42,218.81 117.88,218.63 118.34,219.37 118.8,220.06 119.25,219.85 119.71,220.13 120.17,219.49 120.63,220.08 121.09,220.46 121.54,219.65 122,219.51 122.46,218.06 122.92,216.8 123.38,216.48 123.83,215.8 124.29,214.51 124.75,209.62 125.21,204.35 125.67,200.8 126.13,195.42 126.58,187.29 127.04,179.39 127.5,169.86 127.96,161.73 128.42,156.15 128.87,156.63 129.33,155.04 129.79,156.84 130.25,165.52 130.71,171.07 131.16,172.9 131.62,184.29 132.08,189.51 132.54,198.25 133,200.99 133.45,206.39 133.91,207.84 134.37,210.66 134.83,213.03 135.29,213.28 135.75,214.34 136.2,213.74 136.66,214.97 137.12,215.37 137.58,217.01 138.04,217.05 138.49,217.05 138.95,217.15 139.41,218.41 139.87,218.5 140.33,218.19 140.78,218.62 141.24,219.78 141.7,219.34 142.16,219.04 142.62,219.53 143.07,219.19 143.53,219.29 143.99,218.9 144.45,219.49 144.91,219.32 145.36,219.82 145.82,219.02 146.28,219.11 146.74,218.44 147.2,218.26 147.66,217.8 148.11,217.83 148.57,217.13 149.03,213.93 149.49,211.64 149.95,208.7 150.4,204.97 150.86,201.24 151.32,191.94 151.78,184.37 152.24,188.72 152.69,195.18 153.15,200.69 153.61,206.4 154.07,206.7 154.53,204.63 154.98,204.1 155.44,205.78 155.9,199.98 156.36,197.92 156.82,209.29 157.28,212.45 157.73,212.58 158.19,213.28 158.65,213.85 159.11,214.64 159.57,214.38 160.02,216.06 160.48,216.71 160.94,216.72 161.4,215.77 161.86,216.71 162.31,217.58 162.77,216.26 163.23,216.44 163.69,216.58 164.15,217.61 164.6,217.19 165.06,217.91 165.52,218.37 165.98,217.61 166.44,217.73 166.9,219 167.35,218.18 167.81,219.55 168.27,219.45 168.73,220.05 169.19,219.92 169.64,220.15 170.1,219.36 170.56,219.92 171.02,220.03 171.48,219.94 171.93,219.74 172.39,214.57 172.85,211.16 173.31,207.83 173.77,198.03 174.22,193.31 174.68,176.45 175.14,166.77 175.6,158.38 176.06,153.15 176.52,154.96 176.97,153.74 177.43,155.47 177.89,155.51 178.35,162.72 178.81,171.32 179.26,176.12 179.72,185.41 180.18,193.46 180.64,198.01 181.1,206.02 181.55,208.24 182.01,209.66 182.47,209.92 182.93,211.11 183.39,212.7 183.84,213.47 184.3,213.92 184.76,214.64 185.22,215.21 185.68,217.3 186.14,218.2 186.59,218.83 187.05,219.23 187.51,219.57 187.97,220.12 188.43,220.17 188.88,220.74 189.34,219.92 189.8,220.06 190.26,219.59 190.72,219.59 191.17,219.89 191.63,219.64 192.09,220.99 192.55,220.83 193.01,219.95 193.46,220.59 193.92,220.81 194.38,219.91 194.84,220.26 195.3,219.97 195.75,220.14 196.21,217.91 196.67,215.65 197.13,212.48 197.59,210.01 198.05,207.82 198.5,206.91 198.96,205 199.42,200 199.88,194.41 200.34,187.96 200.79,182.78 201.25,177.05 201.71,178.47 202.17,175.39 202.63,176.32 203.08,177.4 203.54,180.81 204,185.62 204.46,192 204.92,194.4 205.37,197.11 205.83,199.85 206.29,205.49 206.75,209.15 207.21,212.12 207.67,212.86 208.12,214.57 208.58,215.63 209.04,216.12 209.5,216.75 209.96,218.49 210.41,218.23 210.87,217.83 211.33,218.36 211.79,219.38 212.25,219.29 212.7,219.98 213.16,219.2 213.62,219.56 214.08,220.45 214.54,220.14 214.99,220.21 215.45,220.27 215.91,220.56 216.37,220.66 216.83,220.58 217.29,219.72 217.74,220.64 218.2,220.41 218.66,220.42 219.12,219.87 219.58,218.46 220.03,217.82 220.49,216.41 220.95,215.08 221.41,213.55 221.87,210.46 222.32,208.53 222.78,205.02 223.24,201.06 223.7,196.63 224.16,191.68 224.61,184.2 225.07,183.06 225.53,172.88 225.99,165.91 226.45,168.39 226.91,169.61 227.36,175.04 227.82,183.12 228.28,190.85 228.74,196.21 229.2,201.07 229.65,203.73 230.11,207.56 230.57,209.24 231.03,209.93 231.49,211.57 231.94,212.43 232.4,213.68 232.86,213.31 233.32,215.19 233.78,215.04 234.23,216.35 234.69,216.58 235.15,217.41 235.61,217.14 236.07,217.54 236.53,218.9" fill="none" stroke="#3ec3f2" stroke-width="0.95" stroke-linejoin="round"/>
<rect x="38.5" y="123.3" width="207.1" height="102.3" fill="none" stroke="#b3b3b3" stroke-width="0.9"/>
<line x1="37.2" y1="221.5" x2="38.5" y2="221.5" stroke="#b3b3b3" stroke-width="0.6"/>
<text transform="matrix(0.89,0,0,1,36.9,223.95)" text-anchor="end" font-size="6.7">0</text>
<line x1="37.2" y1="203.16" x2="38.5" y2="203.16" stroke="#b3b3b3" stroke-width="0.6"/>
<text transform="matrix(0.89,0,0,1,36.9,205.61)" text-anchor="end" font-size="6.7">10</text>
<line x1="37.2" y1="184.82" x2="38.5" y2="184.82" stroke="#b3b3b3" stroke-width="0.6"/>
<text transform="matrix(0.89,0,0,1,36.9,187.27)" text-anchor="end" font-size="6.7">20</text>
<line x1="37.2" y1="166.48" x2="38.5" y2="166.48" stroke="#b3b3b3" stroke-width="0.6"/>
<text transform="matrix(0.89,0,0,1,36.9,168.93)" text-anchor="end" font-size="6.7">30</text>
<line x1="37.2" y1="148.14" x2="38.5" y2="148.14" stroke="#b3b3b3" stroke-width="0.6"/>
<text transform="matrix(0.89,0,0,1,36.9,150.59)" text-anchor="end" font-size="6.7">40</text>
<line x1="37.2" y1="129.8" x2="38.5" y2="129.8" stroke="#b3b3b3" stroke-width="0.6"/>
<text transform="matrix(0.89,0,0,1,36.9,132.25)" text-anchor="end" font-size="6.7">50</text>
<line x1="46.6" y1="225.6" x2="46.6" y2="226.9" stroke="#b3b3b3" stroke-width="0.6"/>
<text transform="matrix(0.89,0,0,1,46.6,232.65)" text-anchor="middle" font-size="6.7">2011</text>
<line x1="70.43" y1="225.6" x2="70.43" y2="226.9" stroke="#b3b3b3" stroke-width="0.6"/>
<text transform="matrix(0.89,0,0,1,70.43,232.65)" text-anchor="middle" font-size="6.7">2012</text>
<line x1="94.26" y1="225.6" x2="94.26" y2="226.9" stroke="#b3b3b3" stroke-width="0.6"/>
<text transform="matrix(0.89,0,0,1,94.26,232.65)" text-anchor="middle" font-size="6.7">2013</text>
<line x1="118.09" y1="225.6" x2="118.09" y2="226.9" stroke="#b3b3b3" stroke-width="0.6"/>
<text transform="matrix(0.89,0,0,1,118.09,232.65)" text-anchor="middle" font-size="6.7">2014</text>
<line x1="141.92" y1="225.6" x2="141.92" y2="226.9" stroke="#b3b3b3" stroke-width="0.6"/>
<text transform="matrix(0.89,0,0,1,141.92,232.65)" text-anchor="middle" font-size="6.7">2015</text>
<line x1="165.75" y1="225.6" x2="165.75" y2="226.9" stroke="#b3b3b3" stroke-width="0.6"/>
<text transform="matrix(0.89,0,0,1,165.75,232.65)" text-anchor="middle" font-size="6.7">2016</text>
<line x1="189.58" y1="225.6" x2="189.58" y2="226.9" stroke="#b3b3b3" stroke-width="0.6"/>
<text transform="matrix(0.89,0,0,1,189.58,232.65)" text-anchor="middle" font-size="6.7">2017</text>
<line x1="213.41" y1="225.6" x2="213.41" y2="226.9" stroke="#b3b3b3" stroke-width="0.6"/>
<text transform="matrix(0.89,0,0,1,213.41,232.65)" text-anchor="middle" font-size="6.7">2018</text>
<text transform="matrix(0.84,0,0,1,142.05,238.4)" text-anchor="middle" font-size="6.2">Week</text>
<rect x="213.6" y="125.6" width="29.5" height="18.0" rx="1" fill="#fff" fill-opacity="0.85" stroke="#e2e2e2" stroke-width="0.6"/>
<line x1="215.2" y1="130.5" x2="226.1" y2="130.5" stroke="#fa8a1c" stroke-width="1" stroke-dasharray="2.7,1.4"/>
<text transform="matrix(0.86,0,0,1,229.3,132.4)" font-size="6.0">True</text>
<line x1="215.2" y1="138.4" x2="226.1" y2="138.4" stroke="#3ec3f2" stroke-width="1"/>
<text transform="matrix(0.86,0,0,1,229.3,140.3)" font-size="6.0">Train</text>
<clipPath id="c4"><rect x="257.4" y="125.2" width="206.9" height="100.6"/></clipPath>
<polyline clip-path="url(#c4)" points="266.8,219.86 270.49,220.13 274.18,220.55 277.87,220.97 281.56,220.97 285.24,220.55 288.93,220.13 292.62,219.86 296.31,220.13 300,220.55 303.69,220.83 307.37,220.13 311.06,219.58 314.75,218.61 318.44,218.19 322.13,216.8 325.81,214.3 329.5,213.05 333.19,212.22 336.88,208.75 340.57,201.39 344.25,198.19 347.94,191.81 351.63,183.75 355.32,164.87 359.01,149.04 362.69,129.46 366.38,132.1 370.07,129.46 373.76,133.76 377.45,149.04 381.13,168.34 384.82,172.37 388.51,181.25 392.2,190.83 395.89,196.53 399.57,199.72 403.26,205.41 406.95,210.14 410.64,210.69 414.33,212.08 418.01,215.27 421.7,215.97 425.39,216.38 429.08,216.8 432.77,217.08 436.46,217.63 440.14,217.91 443.83,218.33 447.52,218.88 451.21,219.44 454.9,219.44" fill="none" stroke="#fa8a1c" stroke-width="1.1" stroke-dasharray="2.7,1.4" stroke-linejoin="round"/>
<polyline clip-path="url(#c4)" points="266.8,220.27 270.49,220.55 274.18,220.55 277.87,220.55 281.56,220.55 285.24,220.27 288.93,220.27 292.62,220.27 296.31,220.27 300,220.27 303.69,220.55 307.37,219.72 311.06,219.72 314.75,219.3 318.44,219.02 322.13,219.02 325.81,218.75 329.5,218.19 333.19,212.64 336.88,209.86 340.57,207.36 344.25,211.39 347.94,216.94 351.63,214.44 355.32,213.89 359.01,208.89 362.69,185 366.38,185.7 370.07,182.92 373.76,179.87 377.45,189.03 381.13,199.72 384.82,200.28 388.51,200.28 392.2,200.28 395.89,200.28 399.57,200.28 403.26,202.78 406.95,205.83 410.64,208.89 414.33,212.64 418.01,215.97 421.7,218.19 425.39,218.75 429.08,218.75 432.77,218.75 436.46,218.75 440.14,219.02 443.83,219.3 447.52,219.72 451.21,220.27 454.9,220.27" fill="none" stroke="#55b355" stroke-width="0.95" stroke-linejoin="round"/>
<rect x="257.4" y="125.2" width="206.9" height="100.6" fill="none" stroke="#b3b3b3" stroke-width="0.9"/>
<line x1="256.1" y1="221.8" x2="257.4" y2="221.8" stroke="#b3b3b3" stroke-width="0.6"/>
<text transform="matrix(0.89,0,0,1,255.8,224.25)" text-anchor="end" font-size="6.7">0</text>
<line x1="256.1" y1="207.91" x2="257.4" y2="207.91" stroke="#b3b3b3" stroke-width="0.6"/>
<text transform="matrix(0.89,0,0,1,255.8,210.36)" text-anchor="end" font-size="6.7">10</text>
<line x1="256.1" y1="194.03" x2="257.4" y2="194.03" stroke="#b3b3b3" stroke-width="0.6"/>
<text transform="matrix(0.89,0,0,1,255.8,196.48)" text-anchor="end" font-size="6.7">20</text>
<line x1="256.1" y1="180.14" x2="257.4" y2="180.14" stroke="#b3b3b3" stroke-width="0.6"/>
<text transform="matrix(0.89,0,0,1,255.8,182.59)" text-anchor="end" font-size="6.7">30</text>
<line x1="256.1" y1="166.26" x2="257.4" y2="166.26" stroke="#b3b3b3" stroke-width="0.6"/>
<text transform="matrix(0.89,0,0,1,255.8,168.71)" text-anchor="end" font-size="6.7">40</text>
<line x1="256.1" y1="152.37" x2="257.4" y2="152.37" stroke="#b3b3b3" stroke-width="0.6"/>
<text transform="matrix(0.89,0,0,1,255.8,154.82)" text-anchor="end" font-size="6.7">50</text>
<line x1="256.1" y1="138.49" x2="257.4" y2="138.49" stroke="#b3b3b3" stroke-width="0.6"/>
<text transform="matrix(0.89,0,0,1,255.8,140.94)" text-anchor="end" font-size="6.7">60</text>
<line x1="256.1" y1="124.6" x2="257.4" y2="124.6" stroke="#b3b3b3" stroke-width="0.6"/>
<text transform="matrix(0.89,0,0,1,255.8,127.05)" text-anchor="end" font-size="6.7">70</text>
<line x1="266.8" y1="225.8" x2="266.8" y2="227.1" stroke="#b3b3b3" stroke-width="0.6"/>
<text transform="matrix(0.89,0,0,1,266.8,232.85)" text-anchor="middle" font-size="6.7">1</text>
<line x1="303.69" y1="225.8" x2="303.69" y2="227.1" stroke="#b3b3b3" stroke-width="0.6"/>
<text transform="matrix(0.89,0,0,1,303.69,232.85)" text-anchor="middle" font-size="6.7">10</text>
<line x1="340.57" y1="225.8" x2="340.57" y2="227.1" stroke="#b3b3b3" stroke-width="0.6"/>
<text transform="matrix(0.89,0,0,1,340.57,232.85)" text-anchor="middle" font-size="6.7">20</text>
<line x1="377.45" y1="225.8" x2="377.45" y2="227.1" stroke="#b3b3b3" stroke-width="0.6"/>
<text transform="matrix(0.89,0,0,1,377.45,232.85)" text-anchor="middle" font-size="6.7">30</text>
<line x1="414.33" y1="225.8" x2="414.33" y2="227.1" stroke="#b3b3b3" stroke-width="0.6"/>
<text transform="matrix(0.89,0,0,1,414.33,232.85)" text-anchor="middle" font-size="6.7">40</text>
<line x1="454.9" y1="225.8" x2="454.9" y2="227.1" stroke="#b3b3b3" stroke-width="0.6"/>
<text transform="matrix(0.89,0,0,1,454.9,232.85)" text-anchor="middle" font-size="6.7">52</text>
<text transform="matrix(0.84,0,0,1,360.85,238.6)" text-anchor="middle" font-size="6.2">2019</text>
<rect x="433.3" y="127.3" width="28" height="18.0" rx="1" fill="#fff" fill-opacity="0.85" stroke="#e2e2e2" stroke-width="0.6"/>
<line x1="434.9" y1="132.2" x2="445.8" y2="132.2" stroke="#fa8a1c" stroke-width="1" stroke-dasharray="2.7,1.4"/>
<text transform="matrix(0.86,0,0,1,449,134.1)" font-size="6.0">True</text>
<line x1="434.9" y1="140.1" x2="445.8" y2="140.1" stroke="#55b355" stroke-width="1"/>
<text transform="matrix(0.86,0,0,1,449,142)" font-size="6.0">Test</text>
<clipPath id="c5"><rect x="475.9" y="123.3" width="206.6" height="102.5"/></clipPath>
<polyline clip-path="url(#c5)" points="485.29,220.02 488.97,220.01 492.66,219.84 496.34,220.17 500.02,219.82 503.7,219.33 507.39,220.21 511.07,220.35 514.75,220.43 518.44,220.04 522.12,220.7 525.8,219.82 529.48,220.17 533.17,219.82 536.85,219.68 540.53,220.01 544.21,220.39 547.9,220.04 551.58,219.84 555.26,219.33 558.95,220.28 562.63,219.51 566.31,220.01 569.99,218.51 573.68,218.75 577.36,219.28 581.04,219.46 584.72,219.64 588.41,219.33 592.09,218.75 595.77,219.04 599.45,218.26 603.14,217.67 606.82,219.22 610.5,219.11 614.19,219.28 617.87,219.44 621.55,217.31 625.23,219.41 628.92,219.93 632.6,220.35 636.28,220.53 639.96,219.68 643.65,220.21 647.33,220.72 651.01,220.74 654.7,220.53 658.38,220.21 662.06,219.88 665.74,218.93 669.43,218.93 673.11,219.5" fill="none" stroke="#fa8a1c" stroke-width="1.1" stroke-dasharray="2.7,1.4" stroke-linejoin="round"/>
<polyline clip-path="url(#c5)" points="485.29,219.11 488.97,219.11 492.66,219.11 496.34,219.11 500.02,219.11 503.7,218.93 507.39,218.57 511.07,218.57 514.75,218.57 518.44,218.57 522.12,218.2 525.8,217.66 529.48,217.66 533.17,217.29 536.85,216.75 540.53,216.38 544.21,215.11 547.9,219.84 551.58,218.93 555.26,216.02 558.95,216.02 562.63,211.1 566.31,207.45 569.99,202.35 573.68,163 577.36,152.25 581.04,150.79 584.72,136.03 588.41,138.4 592.09,135.48 595.77,127.83 599.45,143.14 603.14,156.8 606.82,172.29 610.5,183.04 614.19,173.75 617.87,163.91 621.55,169.19 625.23,179.94 628.92,200.53 632.6,209.09 636.28,212.19 639.96,217.66 643.65,216.93 647.33,216.75 651.01,217.29 654.7,217.66 658.38,217.84 662.06,218.2 665.74,218.57 669.43,218.93 673.11,219.11" fill="none" stroke="#55b355" stroke-width="0.95" stroke-linejoin="round"/>
<rect x="475.9" y="123.3" width="206.6" height="102.5" fill="none" stroke="#b3b3b3" stroke-width="0.9"/>
<line x1="474.6" y1="221.3" x2="475.9" y2="221.3" stroke="#b3b3b3" stroke-width="0.6"/>
<text transform="matrix(0.89,0,0,1,474.3,223.75)" text-anchor="end" font-size="6.7">0</text>
<line x1="474.6" y1="203.08" x2="475.9" y2="203.08" stroke="#b3b3b3" stroke-width="0.6"/>
<text transform="matrix(0.89,0,0,1,474.3,205.53)" text-anchor="end" font-size="6.7">10</text>
<line x1="474.6" y1="184.86" x2="475.9" y2="184.86" stroke="#b3b3b3" stroke-width="0.6"/>
<text transform="matrix(0.89,0,0,1,474.3,187.31)" text-anchor="end" font-size="6.7">20</text>
<line x1="474.6" y1="166.64" x2="475.9" y2="166.64" stroke="#b3b3b3" stroke-width="0.6"/>
<text transform="matrix(0.89,0,0,1,474.3,169.09)" text-anchor="end" font-size="6.7">30</text>
<line x1="474.6" y1="148.42" x2="475.9" y2="148.42" stroke="#b3b3b3" stroke-width="0.6"/>
<text transform="matrix(0.89,0,0,1,474.3,150.87)" text-anchor="end" font-size="6.7">40</text>
<line x1="474.6" y1="130.2" x2="475.9" y2="130.2" stroke="#b3b3b3" stroke-width="0.6"/>
<text transform="matrix(0.89,0,0,1,474.3,132.65)" text-anchor="end" font-size="6.7">50</text>
<line x1="485.29" y1="225.8" x2="485.29" y2="227.1" stroke="#b3b3b3" stroke-width="0.6"/>
<text transform="matrix(0.89,0,0,1,485.29,232.85)" text-anchor="middle" font-size="6.7">1</text>
<line x1="522.12" y1="225.8" x2="522.12" y2="227.1" stroke="#b3b3b3" stroke-width="0.6"/>
<text transform="matrix(0.89,0,0,1,522.12,232.85)" text-anchor="middle" font-size="6.7">10</text>
<line x1="558.95" y1="225.8" x2="558.95" y2="227.1" stroke="#b3b3b3" stroke-width="0.6"/>
<text transform="matrix(0.89,0,0,1,558.95,232.85)" text-anchor="middle" font-size="6.7">20</text>
<line x1="595.77" y1="225.8" x2="595.77" y2="227.1" stroke="#b3b3b3" stroke-width="0.6"/>
<text transform="matrix(0.89,0,0,1,595.77,232.85)" text-anchor="middle" font-size="6.7">30</text>
<line x1="632.6" y1="225.8" x2="632.6" y2="227.1" stroke="#b3b3b3" stroke-width="0.6"/>
<text transform="matrix(0.89,0,0,1,632.6,232.85)" text-anchor="middle" font-size="6.7">40</text>
<line x1="673.11" y1="225.8" x2="673.11" y2="227.1" stroke="#b3b3b3" stroke-width="0.6"/>
<text transform="matrix(0.89,0,0,1,673.11,232.85)" text-anchor="middle" font-size="6.7">52</text>
<text transform="matrix(0.84,0,0,1,579.2,238.6)" text-anchor="middle" font-size="6.2">2020</text>
<rect x="652.1" y="125.4" width="28" height="18.0" rx="1" fill="#fff" fill-opacity="0.85" stroke="#e2e2e2" stroke-width="0.6"/>
<line x1="653.7" y1="130.3" x2="664.6" y2="130.3" stroke="#fa8a1c" stroke-width="1" stroke-dasharray="2.7,1.4"/>
<text transform="matrix(0.86,0,0,1,667.8,132.2)" font-size="6.0">True</text>
<line x1="653.7" y1="138.2" x2="664.6" y2="138.2" stroke="#55b355" stroke-width="1"/>
<text transform="matrix(0.86,0,0,1,667.8,140.1)" font-size="6.0">Test</text>
<clipPath id="c6"><rect x="38.5" y="243.6" width="207.1" height="102.8"/></clipPath>
<polyline clip-path="url(#c6)" points="47.79,338.85 48.25,338.6 48.71,338.4 49.17,338.26 49.62,338.06 50.08,337.93 50.54,337.78 51,337.63 51.46,337.58 51.91,337.39 52.37,337.05 52.83,336.06 53.29,334.32 53.75,331.73 54.2,327.38 54.66,324.99 55.12,317.52 55.58,310.93 56.04,307.93 56.5,300.79 56.95,294.82 57.41,291.08 57.87,288.71 58.33,288.71 58.79,294.87 59.24,302.9 59.7,312.59 60.16,320.86 60.62,324.98 61.08,329.21 61.53,332.54 61.99,333.73 62.45,334.92 62.91,336.05 63.37,337.12 63.82,337.47 64.28,337.67 64.74,338.03 65.2,338.34 65.66,338.69 66.12,338.96 66.57,339.03 67.03,339.12 67.49,339.16 67.95,339.2 68.41,339.25 68.86,339.29 69.32,339.36 69.78,339.4 70.24,339.46 70.7,339.52 71.15,339.53 71.61,339.51 72.07,339.49 72.53,339.48 72.99,339.46 73.44,339.46 73.9,339.44 74.36,339.4 74.82,339.4 75.28,339.39 75.74,339.23 76.19,338.27 76.65,337.32 77.11,336.43 77.57,335.48 78.03,334.52 78.48,332.11 78.94,328.02 79.4,323.94 79.86,320.86 80.32,317.5 80.77,314.45 81.23,311.16 81.69,317.45 82.15,316.62 82.61,315.65 83.06,320.52 83.52,324.38 83.98,328.32 84.44,329.91 84.9,331.26 85.35,332.32 85.81,333.79 86.27,334.18 86.73,334.31 87.19,334.71 87.65,335.03 88.1,335.35 88.56,335.44 89.02,335.4 89.48,335.72 89.94,335.58 90.39,335.64 90.85,335.76 91.31,336.05 91.77,336.28 92.23,336.59 92.68,336.82 93.14,337.09 93.6,337.39 94.06,337.51 94.52,337.8 94.97,337.95 95.43,337.9 95.89,337.88 96.35,337.88 96.81,337.87 97.27,337.82 97.72,337.8 98.18,337.78 98.64,337.78 99.1,337.82 99.56,337.51 100.01,335.22 100.47,332.74 100.93,330.22 101.39,327.87 101.85,325.48 102.3,321.51 102.76,318.15 103.22,312.96 103.68,310.65 104.14,309.21 104.59,305.06 105.05,309.51 105.51,316.01 105.97,322.5 106.43,327.72 106.89,328.17 107.34,329.18 107.8,328.76 108.26,328.03 108.72,326.46 109.18,324.38 109.63,321.04 110.09,322.76 110.55,325.61 111.01,328.28 111.47,329.45 111.92,330.21 112.38,330.48 112.84,330.96 113.3,332.7 113.76,334.37 114.21,335.8 114.67,336.29 115.13,336.54 115.59,336.65 116.05,336.8 116.51,337.13 116.96,337.31 117.42,337.5 117.88,337.64 118.34,337.92 118.8,338.08 119.25,338.3 119.71,338.53 120.17,338.77 120.63,338.94 121.09,338.26 121.54,337.41 122,336.59 122.46,335.62 122.92,334.81 123.38,333.88 123.83,332.88 124.29,327.88 124.75,323.58 125.21,318.57 125.67,312.96 126.13,305.65 126.58,299.54 127.04,290.69 127.5,282.43 127.96,279.31 128.42,277.85 128.87,275.78 129.33,280.1 129.79,286.4 130.25,289.23 130.71,293.2 131.16,302.79 131.62,307.57 132.08,316.6 132.54,321.04 133,323.85 133.45,326.19 133.91,328.81 134.37,331.02 134.83,331.72 135.29,332.37 135.75,333.06 136.2,333.51 136.66,334.24 137.12,334.94 137.58,335.49 138.04,335.71 138.49,336.17 138.95,336.5 139.41,336.9 139.87,337.18 140.33,337.56 140.78,337.83 141.24,337.84 141.7,337.86 142.16,337.82 142.62,337.88 143.07,337.97 143.53,338.02 143.99,338 144.45,338.02 144.91,338.05 145.36,337.8 145.82,337.3 146.28,336.9 146.74,336.51 147.2,335.97 147.66,335.73 148.11,335.17 148.57,332.57 149.03,329.73 149.49,326.34 149.95,324.81 150.4,321.66 150.86,319.7 151.32,317.09 151.78,318.31 152.24,320.14 152.69,321.79 153.15,324.81 153.61,324.49 154.07,323.74 154.53,323.74 154.98,324.89 155.44,325.37 155.9,327.29 156.36,328.96 156.82,330.56 157.28,330.99 157.73,331.62 158.19,332.2 158.65,333 159.11,333.47 159.57,334 160.02,334.72 160.48,334.81 160.94,335.06 161.4,335.25 161.86,335.34 162.31,335.31 162.77,335.54 163.23,335.6 163.69,335.86 164.15,336.05 164.6,336.08 165.06,336.28 165.52,336.65 165.98,336.72 166.44,337.02 166.9,337.21 167.35,337.29 167.81,337.61 168.27,337.78 168.73,337.89 169.19,338.11 169.64,338.1 170.1,338.06 170.56,338.02 171.02,337.93 171.48,337.91 171.93,333.75 172.39,330 172.85,325.56 173.31,317.48 173.77,312.42 174.22,295.54 174.68,286.45 175.14,277.04 175.6,258.54 176.06,256.49 176.52,247.94 176.97,259.98 177.43,268.13 177.89,281.35 178.35,290.32 178.81,295.54 179.26,305.42 179.72,311.67 180.18,318.17 180.64,324.72 181.1,327.7 181.55,328.71 182.01,329.51 182.47,330.1 182.93,331.14 183.39,331.86 183.84,332.67 184.3,333.63 184.76,334.32 185.22,335.18 185.68,335.98 186.14,336.69 186.59,337.06 187.05,337.36 187.51,337.85 187.97,338.25 188.43,338.63 188.88,338.61 189.34,338.65 189.8,338.66 190.26,338.66 190.72,338.66 191.17,338.69 191.63,338.76 192.09,338.88 192.55,338.95 193.01,338.97 193.46,338.83 193.92,338.69 194.38,338.58 194.84,338.46 195.3,338.31 195.75,335.98 196.21,333.44 196.67,331.27 197.13,329.59 197.59,327.59 198.05,326.24 198.5,324.81 198.96,318.44 199.42,312.67 199.88,308.65 200.34,302.41 200.79,296.98 201.25,294.34 201.71,289.25 202.17,294.62 202.63,297.72 203.08,301.47 203.54,305.79 204,310.44 204.46,312.96 204.92,317.14 205.37,320.09 205.83,324.19 206.29,327.11 206.75,330.96 207.21,331.51 207.67,332.87 208.12,333.68 208.58,334.43 209.04,335.43 209.5,336.38 209.96,336.76 210.41,336.98 210.87,337.19 211.33,337.46 211.79,337.62 212.25,337.85 212.7,337.98 213.16,338.19 213.62,338.42 214.08,338.63 214.54,338.76 214.99,338.8 215.45,338.82 215.91,338.82 216.37,338.8 216.83,338.83 217.29,338.83 217.74,338.83 218.2,338.78 218.66,337.84 219.12,336.77 219.58,335.83 220.03,334.61 220.49,333.37 220.95,331.83 221.41,329.98 221.87,326.73 222.32,323.33 222.78,320.32 223.24,315.22 223.7,310.75 224.16,303.98 224.61,300.37 225.07,293.15 225.53,283.15 225.99,286.51 226.45,290.69 226.91,296.71 227.36,303.05 227.82,308.65 228.28,314.93 228.74,319.26 229.2,323.38 229.65,325.61 230.11,327.21 230.57,328.87 231.03,330.45 231.49,331.19 231.94,332.2 232.4,332.73 232.86,333.65 233.32,334.32 233.78,334.67 234.23,335.02 234.69,335.67 235.15,335.97 235.61,336.4 236.07,336.97 236.53,337.36" fill="none" stroke="#fa8a1c" stroke-width="0.95" stroke-dasharray="2.7,1.4" stroke-linejoin="round"/>
<polyline clip-path="url(#c6)" points="47.79,339.4 48.25,338.17 48.71,337.97 49.17,337.43 49.62,338.8 50.08,338.58 50.54,338.63 51,338.3 51.46,337.01 51.91,338.3 52.37,336.98 52.83,336.81 53.29,334.9 53.75,331.95 54.2,326.14 54.66,324.57 55.12,319.87 55.58,312.19 56.04,310.04 56.5,298.1 56.95,291.51 57.41,285.4 57.87,280.27 58.33,281.44 58.79,289.08 59.24,300.43 59.7,313.86 60.16,319.31 60.62,325.04 61.08,328.33 61.53,332.34 61.99,333.93 62.45,335.29 62.91,336.24 63.37,337.58 63.82,338.41 64.28,336.9 64.74,337.32 65.2,337.2 65.66,338.25 66.12,338.83 66.57,338.47 67.03,339.94 67.49,338.77 67.95,339.32 68.41,339.97 68.86,339.96 69.32,339.31 69.78,339.95 70.24,339.55 70.7,339.29 71.15,339.76 71.61,340.32 72.07,339.51 72.53,340.06 72.99,340.04 73.44,340.13 73.9,339.73 74.36,340.35 74.82,339.06 75.28,338.38 75.74,339.48 76.19,337.76 76.65,336.26 77.11,337.61 77.57,336.44 78.03,333.66 78.48,331.06 78.94,327.52 79.4,325.27 79.86,320.76 80.32,313.26 80.77,306.22 81.23,300.98 81.69,314.78 82.15,313.18 82.61,315.96 83.06,319.52 83.52,325.84 83.98,326.65 84.44,329.56 84.9,330.54 85.35,333.21 85.81,333.45 86.27,333.95 86.73,334.06 87.19,335.1 87.65,334.4 88.1,335.78 88.56,335.61 89.02,335.26 89.48,333.42 89.94,334.27 90.39,333.33 90.85,333.5 91.31,332.02 91.77,332.52 92.23,332.86 92.68,334.59 93.14,333.67 93.6,334.25 94.06,335.09 94.52,335.62 94.97,332.95 95.43,335.38 95.89,334.85 96.35,334.94 96.81,334 97.27,335.43 97.72,334.29 98.18,334.57 98.64,333.24 99.1,335.73 99.56,335.18 100.01,333.12 100.47,329.83 100.93,329.45 101.39,327.93 101.85,324.82 102.3,322.39 102.76,320.38 103.22,312.92 103.68,308.14 104.14,307.24 104.59,305.58 105.05,307.6 105.51,313.93 105.97,323.46 106.43,327.39 106.89,328.68 107.34,330.06 107.8,329.51 108.26,329.09 108.72,327.04 109.18,326.64 109.63,323.17 110.09,325.52 110.55,324.72 111.01,327.93 111.47,331.14 111.92,329.3 112.38,331.5 112.84,331.02 113.3,332.54 113.76,334.84 114.21,336.36 114.67,336.46 115.13,337.47 115.59,335.72 116.05,337.78 116.51,336.32 116.96,338.01 117.42,337.98 117.88,337.91 118.34,339.04 118.8,338.96 119.25,338.62 119.71,338.66 120.17,337.9 120.63,337.82 121.09,339.33 121.54,337.32 122,337.53 122.46,334.81 122.92,335.3 123.38,332.74 123.83,332.75 124.29,329.23 124.75,325.62 125.21,319.75 125.67,310.98 126.13,307.84 126.58,299.69 127.04,291.72 127.5,283.77 127.96,276.09 128.42,279.47 128.87,271.52 129.33,276.71 129.79,281.8 130.25,288.85 130.71,289.91 131.16,303.18 131.62,307.13 132.08,316 132.54,319.54 133,322.23 133.45,327.65 133.91,330.07 134.37,330.91 134.83,330.74 135.29,332.27 135.75,333.66 136.2,332.16 136.66,334.81 137.12,336.08 137.58,336.69 138.04,336.96 138.49,335.58 138.95,337.5 139.41,336.36 139.87,336.27 140.33,336.34 140.78,337.09 141.24,338.02 141.7,337.57 142.16,337.02 142.62,337.36 143.07,338.47 143.53,337.4 143.99,338.93 144.45,338.48 144.91,336.87 145.36,337.87 145.82,337.87 146.28,336.18 146.74,336.64 147.2,337.27 147.66,336.98 148.11,335.83 148.57,333.08 149.03,328.25 149.49,327.28 149.95,323.24 150.4,318.96 150.86,316.46 151.32,307.63 151.78,311.35 152.24,317.78 152.69,322.25 153.15,324.9 153.61,322.87 154.07,323.59 154.53,324.99 154.98,325.38 155.44,325.47 155.9,328.42 156.36,328.71 156.82,332.09 157.28,329.95 157.73,332.63 158.19,333.42 158.65,332.73 159.11,334.03 159.57,332.9 160.02,334.73 160.48,334.75 160.94,334.15 161.4,336.02 161.86,334.67 162.31,334.91 162.77,335.74 163.23,334.37 163.69,337.12 164.15,335.1 164.6,337.02 165.06,335.4 165.52,337.53 165.98,337.85 166.44,337.02 166.9,336.16 167.35,337.89 167.81,337.65 168.27,337.52 168.73,338.5 169.19,338.03 169.64,339.27 170.1,338.19 170.56,337.4 171.02,338.31 171.48,338.58 171.93,335.05 172.39,329.33 172.85,325.84 173.31,315.48 173.77,311.11 174.22,298.53 174.68,282.9 175.14,272.85 175.6,261.27 176.06,260.54 176.52,260.73 176.97,262.79 177.43,267.3 177.89,280.52 178.35,292.28 178.81,298.28 179.26,303.99 179.72,311.13 180.18,320.28 180.64,324.15 181.1,327.31 181.55,328.67 182.01,328.57 182.47,328.84 182.93,331.52 183.39,330.88 183.84,332.67 184.3,333.42 184.76,334.56 185.22,334 185.68,336.12 186.14,335.54 186.59,337.46 187.05,336.94 187.51,336.86 187.97,337.81 188.43,338.92 188.88,339.59 189.34,338.7 189.8,338.85 190.26,337.93 190.72,338 191.17,337.57 191.63,338.88 192.09,339.08 192.55,338.8 193.01,338.41 193.46,339.79 193.92,339.35 194.38,339.4 194.84,338.87 195.3,338.78 195.75,334.75 196.21,334.3 196.67,329.89 197.13,330.28 197.59,328.67 198.05,324.44 198.5,326.44 198.96,320.27 199.42,314.69 199.88,311.21 200.34,303.17 200.79,299.13 201.25,297.65 201.71,296.59 202.17,293.77 202.63,300.97 203.08,303.28 203.54,305.38 204,308.25 204.46,312.1 204.92,316.11 205.37,319.18 205.83,322.99 206.29,325.81 206.75,332.07 207.21,332.92 207.67,332.5 208.12,333.63 208.58,334.37 209.04,334.67 209.5,337.22 209.96,336.35 210.41,337.68 210.87,338.31 211.33,339.4 211.79,339.87 212.25,339.84 212.7,340.02 213.16,339.49 213.62,341.03 214.08,340.34 214.54,341.74 214.99,340.65 215.45,341.66 215.91,340.25 216.37,340.01 216.83,341.48 217.29,340.36 217.74,341.56 218.2,341.31 218.66,340.43 219.12,338.21 219.58,337.72 220.03,334.53 220.49,333.21 220.95,332.08 221.41,329.28 221.87,327.72 222.32,324.03 222.78,320.94 223.24,317.76 223.7,308.55 224.16,306.49 224.61,302.34 225.07,288.23 225.53,275.82 225.99,283.86 226.45,290.12 226.91,299.12 227.36,306.3 227.82,308.53 228.28,316.25 228.74,320.88 229.2,321.7 229.65,327.47 230.11,327.71 230.57,327.99 231.03,329.64 231.49,332.45 231.94,331.46 232.4,332.53 232.86,333.27 233.32,333.06 233.78,333.84 234.23,334.75 234.69,334.95 235.15,335.99 235.61,336.27 236.07,336.17 236.53,337.06" fill="none" stroke="#3ec3f2" stroke-width="0.95" stroke-linejoin="round"/>
<rect x="38.5" y="243.6" width="207.1" height="102.8" fill="none" stroke="#b3b3b3" stroke-width="0.9"/>
<line x1="37.2" y1="339.9" x2="38.5" y2="339.9" stroke="#b3b3b3" stroke-width="0.6"/>
<text transform="matrix(0.89,0,0,1,36.9,342.35)" text-anchor="end" font-size="6.7">0</text>
<line x1="37.2" y1="321.94" x2="38.5" y2="321.94" stroke="#b3b3b3" stroke-width="0.6"/>
<text transform="matrix(0.89,0,0,1,36.9,324.39)" text-anchor="end" font-size="6.7">10</text>
<line x1="37.2" y1="303.98" x2="38.5" y2="303.98" stroke="#b3b3b3" stroke-width="0.6"/>
<text transform="matrix(0.89,0,0,1,36.9,306.43)" text-anchor="end" font-size="6.7">20</text>
<line x1="37.2" y1="286.02" x2="38.5" y2="286.02" stroke="#b3b3b3" stroke-width="0.6"/>
<text transform="matrix(0.89,0,0,1,36.9,288.47)" text-anchor="end" font-size="6.7">30</text>
<line x1="37.2" y1="268.06" x2="38.5" y2="268.06" stroke="#b3b3b3" stroke-width="0.6"/>
<text transform="matrix(0.89,0,0,1,36.9,270.51)" text-anchor="end" font-size="6.7">40</text>
<line x1="37.2" y1="250.1" x2="38.5" y2="250.1" stroke="#b3b3b3" stroke-width="0.6"/>
<text transform="matrix(0.89,0,0,1,36.9,252.55)" text-anchor="end" font-size="6.7">50</text>
<line x1="46.6" y1="346.4" x2="46.6" y2="347.7" stroke="#b3b3b3" stroke-width="0.6"/>
<text transform="matrix(0.89,0,0,1,46.6,353.45)" text-anchor="middle" font-size="6.7">2011</text>
<line x1="70.43" y1="346.4" x2="70.43" y2="347.7" stroke="#b3b3b3" stroke-width="0.6"/>
<text transform="matrix(0.89,0,0,1,70.43,353.45)" text-anchor="middle" font-size="6.7">2012</text>
<line x1="94.26" y1="346.4" x2="94.26" y2="347.7" stroke="#b3b3b3" stroke-width="0.6"/>
<text transform="matrix(0.89,0,0,1,94.26,353.45)" text-anchor="middle" font-size="6.7">2013</text>
<line x1="118.09" y1="346.4" x2="118.09" y2="347.7" stroke="#b3b3b3" stroke-width="0.6"/>
<text transform="matrix(0.89,0,0,1,118.09,353.45)" text-anchor="middle" font-size="6.7">2014</text>
<line x1="141.92" y1="346.4" x2="141.92" y2="347.7" stroke="#b3b3b3" stroke-width="0.6"/>
<text transform="matrix(0.89,0,0,1,141.92,353.45)" text-anchor="middle" font-size="6.7">2015</text>
<line x1="165.75" y1="346.4" x2="165.75" y2="347.7" stroke="#b3b3b3" stroke-width="0.6"/>
<text transform="matrix(0.89,0,0,1,165.75,353.45)" text-anchor="middle" font-size="6.7">2016</text>
<line x1="189.58" y1="346.4" x2="189.58" y2="347.7" stroke="#b3b3b3" stroke-width="0.6"/>
<text transform="matrix(0.89,0,0,1,189.58,353.45)" text-anchor="middle" font-size="6.7">2017</text>
<line x1="213.41" y1="346.4" x2="213.41" y2="347.7" stroke="#b3b3b3" stroke-width="0.6"/>
<text transform="matrix(0.89,0,0,1,213.41,353.45)" text-anchor="middle" font-size="6.7">2018</text>
<text transform="matrix(0.84,0,0,1,142.05,359.2)" text-anchor="middle" font-size="6.2">Week</text>
<rect x="213.6" y="245.9" width="29.5" height="18.0" rx="1" fill="#fff" fill-opacity="0.85" stroke="#e2e2e2" stroke-width="0.6"/>
<line x1="215.2" y1="250.8" x2="226.1" y2="250.8" stroke="#fa8a1c" stroke-width="1" stroke-dasharray="2.7,1.4"/>
<text transform="matrix(0.86,0,0,1,229.3,252.7)" font-size="6.0">True</text>
<line x1="215.2" y1="258.7" x2="226.1" y2="258.7" stroke="#3ec3f2" stroke-width="1"/>
<text transform="matrix(0.86,0,0,1,229.3,260.6)" font-size="6.0">Train</text>
<clipPath id="c7"><rect x="257.4" y="245.6" width="206.9" height="101"/></clipPath>
<polyline clip-path="url(#c7)" points="266.8,339.57 270.49,339.85 274.18,340.26 277.87,340.67 281.56,340.67 285.24,340.26 288.93,339.85 292.62,339.57 296.31,339.85 300,340.26 303.69,340.54 307.37,339.85 311.06,339.3 314.75,338.34 318.44,337.92 322.13,336.55 325.81,334.07 329.5,332.83 333.19,332.01 336.88,328.57 340.57,321.28 344.25,318.11 347.94,311.78 351.63,303.81 355.32,285.1 359.01,269.41 362.69,250.01 366.38,252.63 370.07,250.01 373.76,254.28 377.45,269.41 381.13,288.53 384.82,292.52 388.51,301.33 392.2,310.82 395.89,316.46 399.57,319.63 403.26,325.27 406.95,329.94 410.64,330.49 414.33,331.87 418.01,335.03 421.7,335.72 425.39,336.13 429.08,336.55 432.77,336.82 436.46,337.37 440.14,337.65 443.83,338.06 447.52,338.61 451.21,339.16 454.9,339.16" fill="none" stroke="#fa8a1c" stroke-width="1.1" stroke-dasharray="2.7,1.4" stroke-linejoin="round"/>
<polyline clip-path="url(#c7)" points="266.8,341.22 270.49,341.5 274.18,340.54 277.87,341.22 281.56,341.5 285.24,341.5 288.93,341.22 292.62,340.95 296.31,340.54 300,340.95 303.69,340.54 307.37,339.99 311.06,339.3 314.75,338.2 318.44,337.51 322.13,336.55 325.81,335.72 329.5,336.27 333.19,332.56 336.88,328.98 340.57,329.81 344.25,324.3 347.94,313.57 351.63,300.78 355.32,303.26 359.01,295.28 362.69,284.82 366.38,284.55 370.07,283.86 373.76,288.12 377.45,285.37 381.13,286.61 384.82,285.37 388.51,310.55 392.2,311.23 395.89,316.74 399.57,320.31 403.26,324.3 406.95,327.47 410.64,331.46 414.33,331.46 418.01,332.01 421.7,334.48 425.39,337.51 429.08,337.51 432.77,337.51 436.46,337.51 440.14,336.96 443.83,338.2 447.52,339.02 451.21,339.99 454.9,340.26" fill="none" stroke="#55b355" stroke-width="0.95" stroke-linejoin="round"/>
<rect x="257.4" y="245.6" width="206.9" height="101" fill="none" stroke="#b3b3b3" stroke-width="0.9"/>
<line x1="256.1" y1="341.5" x2="257.4" y2="341.5" stroke="#b3b3b3" stroke-width="0.6"/>
<text transform="matrix(0.89,0,0,1,255.8,343.95)" text-anchor="end" font-size="6.7">0</text>
<line x1="256.1" y1="327.74" x2="257.4" y2="327.74" stroke="#b3b3b3" stroke-width="0.6"/>
<text transform="matrix(0.89,0,0,1,255.8,330.19)" text-anchor="end" font-size="6.7">10</text>
<line x1="256.1" y1="313.99" x2="257.4" y2="313.99" stroke="#b3b3b3" stroke-width="0.6"/>
<text transform="matrix(0.89,0,0,1,255.8,316.44)" text-anchor="end" font-size="6.7">20</text>
<line x1="256.1" y1="300.23" x2="257.4" y2="300.23" stroke="#b3b3b3" stroke-width="0.6"/>
<text transform="matrix(0.89,0,0,1,255.8,302.68)" text-anchor="end" font-size="6.7">30</text>
<line x1="256.1" y1="286.47" x2="257.4" y2="286.47" stroke="#b3b3b3" stroke-width="0.6"/>
<text transform="matrix(0.89,0,0,1,255.8,288.92)" text-anchor="end" font-size="6.7">40</text>
<line x1="256.1" y1="272.71" x2="257.4" y2="272.71" stroke="#b3b3b3" stroke-width="0.6"/>
<text transform="matrix(0.89,0,0,1,255.8,275.16)" text-anchor="end" font-size="6.7">50</text>
<line x1="256.1" y1="258.96" x2="257.4" y2="258.96" stroke="#b3b3b3" stroke-width="0.6"/>
<text transform="matrix(0.89,0,0,1,255.8,261.41)" text-anchor="end" font-size="6.7">60</text>
<line x1="256.1" y1="245.2" x2="257.4" y2="245.2" stroke="#b3b3b3" stroke-width="0.6"/>
<text transform="matrix(0.89,0,0,1,255.8,247.65)" text-anchor="end" font-size="6.7">70</text>
<line x1="266.8" y1="346.6" x2="266.8" y2="347.9" stroke="#b3b3b3" stroke-width="0.6"/>
<text transform="matrix(0.89,0,0,1,266.8,353.65)" text-anchor="middle" font-size="6.7">1</text>
<line x1="303.69" y1="346.6" x2="303.69" y2="347.9" stroke="#b3b3b3" stroke-width="0.6"/>
<text transform="matrix(0.89,0,0,1,303.69,353.65)" text-anchor="middle" font-size="6.7">10</text>
<line x1="340.57" y1="346.6" x2="340.57" y2="347.9" stroke="#b3b3b3" stroke-width="0.6"/>
<text transform="matrix(0.89,0,0,1,340.57,353.65)" text-anchor="middle" font-size="6.7">20</text>
<line x1="377.45" y1="346.6" x2="377.45" y2="347.9" stroke="#b3b3b3" stroke-width="0.6"/>
<text transform="matrix(0.89,0,0,1,377.45,353.65)" text-anchor="middle" font-size="6.7">30</text>
<line x1="414.33" y1="346.6" x2="414.33" y2="347.9" stroke="#b3b3b3" stroke-width="0.6"/>
<text transform="matrix(0.89,0,0,1,414.33,353.65)" text-anchor="middle" font-size="6.7">40</text>
<line x1="454.9" y1="346.6" x2="454.9" y2="347.9" stroke="#b3b3b3" stroke-width="0.6"/>
<text transform="matrix(0.89,0,0,1,454.9,353.65)" text-anchor="middle" font-size="6.7">52</text>
<text transform="matrix(0.84,0,0,1,360.85,359.4)" text-anchor="middle" font-size="6.2">2019</text>
<rect x="433.3" y="247.7" width="28" height="18.0" rx="1" fill="#fff" fill-opacity="0.85" stroke="#e2e2e2" stroke-width="0.6"/>
<line x1="434.9" y1="252.6" x2="445.8" y2="252.6" stroke="#fa8a1c" stroke-width="1" stroke-dasharray="2.7,1.4"/>
<text transform="matrix(0.86,0,0,1,449,254.5)" font-size="6.0">True</text>
<line x1="434.9" y1="260.5" x2="445.8" y2="260.5" stroke="#55b355" stroke-width="1"/>
<text transform="matrix(0.86,0,0,1,449,262.4)" font-size="6.0">Test</text>
<clipPath id="c8"><rect x="472.8" y="243.3" width="209.7" height="103"/></clipPath>
<polyline clip-path="url(#c8)" points="482.33,328.26 486.07,328.09 489.81,326.53 493.55,329.65 497.28,326.35 501.02,321.67 504.76,330 508.5,331.38 512.24,332.08 515.97,328.44 519.71,334.68 523.45,326.35 527.19,329.65 530.93,326.35 534.66,324.97 538.4,328.09 542.14,331.73 545.88,328.44 549.62,326.53 553.35,321.67 557.09,330.69 560.83,323.41 564.57,328.09 568.31,313.87 572.04,316.12 575.78,321.15 579.52,322.89 583.26,324.62 586.99,321.67 590.73,316.12 594.47,318.9 598.21,311.44 601.95,305.89 605.68,320.63 609.42,319.59 613.16,321.15 616.9,322.71 620.64,302.43 624.37,322.37 628.11,327.39 631.85,331.38 635.59,333.12 639.33,324.97 643.06,330 646.8,334.85 650.54,335.02 654.28,333.12 658.02,330 661.75,326.87 665.49,317.86 669.23,317.86 672.97,323.23" fill="none" stroke="#fa8a1c" stroke-width="1.1" stroke-dasharray="2.7,1.4" stroke-linejoin="round"/>
<polyline clip-path="url(#c8)" points="482.33,331.21 486.07,333.98 489.81,338.32 493.55,338.32 497.28,341.44 501.02,322.71 504.76,338.32 508.5,330 512.24,317.86 515.97,338.32 519.71,319.59 523.45,312.31 527.19,327.57 530.93,310.75 534.66,304.33 538.4,289.07 542.14,299.48 545.88,297.05 549.62,305.03 553.35,282.66 557.09,272.95 560.83,272.95 564.57,283.35 568.31,280.92 572.04,285.09 575.78,262.37 579.52,248.5 583.26,275.38 586.99,259.25 590.73,275.38 594.47,293.06 598.21,289.42 601.95,301.04 605.68,302.43 609.42,272.95 613.16,289.77 616.9,285.09 620.64,270.17 624.37,285.09 628.11,305.89 631.85,287.86 635.59,296.18 639.33,307.8 643.06,302.6 646.8,311.44 650.54,324.27 654.28,317.51 658.02,322.02 661.75,339.53 665.49,333.12 669.23,321.15 672.97,330.69" fill="none" stroke="#55b355" stroke-width="0.95" stroke-linejoin="round"/>
<rect x="472.8" y="243.3" width="209.7" height="103" fill="none" stroke="#b3b3b3" stroke-width="0.9"/>
<line x1="471.5" y1="340.4" x2="472.8" y2="340.4" stroke="#b3b3b3" stroke-width="0.6"/>
<text transform="matrix(0.89,0,0,1,471.2,342.85)" text-anchor="end" font-size="6.7">0</text>
<line x1="471.5" y1="323.06" x2="472.8" y2="323.06" stroke="#b3b3b3" stroke-width="0.6"/>
<text transform="matrix(0.89,0,0,1,471.2,325.51)" text-anchor="end" font-size="6.7">1</text>
<line x1="471.5" y1="305.72" x2="472.8" y2="305.72" stroke="#b3b3b3" stroke-width="0.6"/>
<text transform="matrix(0.89,0,0,1,471.2,308.17)" text-anchor="end" font-size="6.7">2</text>
<line x1="471.5" y1="288.38" x2="472.8" y2="288.38" stroke="#b3b3b3" stroke-width="0.6"/>
<text transform="matrix(0.89,0,0,1,471.2,290.83)" text-anchor="end" font-size="6.7">3</text>
<line x1="471.5" y1="271.04" x2="472.8" y2="271.04" stroke="#b3b3b3" stroke-width="0.6"/>
<text transform="matrix(0.89,0,0,1,471.2,273.49)" text-anchor="end" font-size="6.7">4</text>
<line x1="471.5" y1="253.7" x2="472.8" y2="253.7" stroke="#b3b3b3" stroke-width="0.6"/>
<text transform="matrix(0.89,0,0,1,471.2,256.15)" text-anchor="end" font-size="6.7">5</text>
<line x1="482.33" y1="346.3" x2="482.33" y2="347.6" stroke="#b3b3b3" stroke-width="0.6"/>
<text transform="matrix(0.89,0,0,1,482.33,353.35)" text-anchor="middle" font-size="6.7">1</text>
<line x1="519.71" y1="346.3" x2="519.71" y2="347.6" stroke="#b3b3b3" stroke-width="0.6"/>
<text transform="matrix(0.89,0,0,1,519.71,353.35)" text-anchor="middle" font-size="6.7">10</text>
<line x1="557.09" y1="346.3" x2="557.09" y2="347.6" stroke="#b3b3b3" stroke-width="0.6"/>
<text transform="matrix(0.89,0,0,1,557.09,353.35)" text-anchor="middle" font-size="6.7">20</text>
<line x1="594.47" y1="346.3" x2="594.47" y2="347.6" stroke="#b3b3b3" stroke-width="0.6"/>
<text transform="matrix(0.89,0,0,1,594.47,353.35)" text-anchor="middle" font-size="6.7">30</text>
<line x1="631.85" y1="346.3" x2="631.85" y2="347.6" stroke="#b3b3b3" stroke-width="0.6"/>
<text transform="matrix(0.89,0,0,1,631.85,353.35)" text-anchor="middle" font-size="6.7">40</text>
<line x1="672.97" y1="346.3" x2="672.97" y2="347.6" stroke="#b3b3b3" stroke-width="0.6"/>
<text transform="matrix(0.89,0,0,1,672.97,353.35)" text-anchor="middle" font-size="6.7">52</text>
<text transform="matrix(0.84,0,0,1,577.65,359.1)" text-anchor="middle" font-size="6.2">2020</text>
<rect x="652.1" y="245.4" width="28" height="18.0" rx="1" fill="#fff" fill-opacity="0.85" stroke="#e2e2e2" stroke-width="0.6"/>
<line x1="653.7" y1="250.3" x2="664.6" y2="250.3" stroke="#fa8a1c" stroke-width="1" stroke-dasharray="2.7,1.4"/>
<text transform="matrix(0.86,0,0,1,667.8,252.2)" font-size="6.0">True</text>
<line x1="653.7" y1="258.2" x2="664.6" y2="258.2" stroke="#55b355" stroke-width="1"/>
<text transform="matrix(0.86,0,0,1,667.8,260.1)" font-size="6.0">Test</text>
<clipPath id="c9"><rect x="38.5" y="364.5" width="207.1" height="102.9"/></clipPath>
<polyline clip-path="url(#c9)" points="47.79,461.92 48.25,461.67 48.71,461.47 49.17,461.32 49.62,461.12 50.08,460.99 50.54,460.83 51,460.68 51.46,460.63 51.91,460.43 52.37,460.09 52.83,459.07 53.29,457.29 53.75,454.64 54.2,450.19 54.66,447.74 55.12,440.1 55.58,433.35 56.04,430.28 56.5,422.98 56.95,416.87 57.41,413.04 57.87,410.62 58.33,410.62 58.79,416.91 59.24,425.14 59.7,435.05 60.16,443.52 60.62,447.73 61.08,452.06 61.53,455.47 61.99,456.68 62.45,457.9 62.91,459.06 63.37,460.16 63.82,460.52 64.28,460.72 64.74,461.08 65.2,461.4 65.66,461.76 66.12,462.04 66.57,462.11 67.03,462.2 67.49,462.24 67.95,462.28 68.41,462.33 68.86,462.38 69.32,462.45 69.78,462.49 70.24,462.55 70.7,462.61 71.15,462.62 71.61,462.6 72.07,462.58 72.53,462.57 72.99,462.55 73.44,462.55 73.9,462.52 74.36,462.49 74.82,462.48 75.28,462.47 75.74,462.32 76.19,461.33 76.65,460.36 77.11,459.45 77.57,458.48 78.03,457.5 78.48,455.02 78.94,450.84 79.4,446.66 79.86,443.52 80.32,440.07 80.77,436.96 81.23,433.59 81.69,440.02 82.15,439.17 82.61,438.19 83.06,443.16 83.52,447.12 83.98,451.15 84.44,452.77 84.9,454.15 85.35,455.25 85.81,456.75 86.27,457.15 86.73,457.28 87.19,457.69 87.65,458.01 88.1,458.35 88.56,458.43 89.02,458.39 89.48,458.72 89.94,458.58 90.39,458.65 90.85,458.77 91.31,459.06 91.77,459.29 92.23,459.61 92.68,459.85 93.14,460.12 93.6,460.43 94.06,460.56 94.52,460.85 94.97,461.01 95.43,460.95 95.89,460.94 96.35,460.93 96.81,460.92 97.27,460.88 97.72,460.85 98.18,460.83 98.64,460.83 99.1,460.87 99.56,460.56 100.01,458.21 100.47,455.67 100.93,453.1 101.39,450.69 101.85,448.24 102.3,444.18 102.76,440.74 103.22,435.43 103.68,433.07 104.14,431.59 104.59,427.34 105.05,431.9 105.51,438.55 105.97,445.19 106.43,450.53 106.89,450.99 107.34,452.03 107.8,451.6 108.26,450.85 108.72,449.25 109.18,447.12 109.63,443.7 110.09,445.46 110.55,448.37 111.01,451.11 111.47,452.3 111.92,453.08 112.38,453.36 112.84,453.85 113.3,455.63 113.76,457.34 114.21,458.81 114.67,459.3 115.13,459.56 115.59,459.67 116.05,459.83 116.51,460.16 116.96,460.35 117.42,460.55 117.88,460.69 118.34,460.98 118.8,461.13 119.25,461.36 119.71,461.6 120.17,461.84 120.63,462.01 121.09,461.32 121.54,460.45 122,459.61 122.46,458.62 122.92,457.79 123.38,456.83 123.83,455.82 124.29,450.7 124.75,446.3 125.21,441.17 125.67,435.43 126.13,427.95 126.58,421.7 127.04,412.64 127.5,404.18 127.96,401 128.42,399.49 128.87,397.38 129.33,401.8 129.79,408.25 130.25,411.15 130.71,415.21 131.16,425.03 131.62,429.92 132.08,439.15 132.54,443.7 133,446.57 133.45,448.97 133.91,451.65 134.37,453.91 134.83,454.63 135.29,455.29 135.75,456 136.2,456.46 136.66,457.2 137.12,457.93 137.58,458.48 138.04,458.71 138.49,459.18 138.95,459.52 139.41,459.93 139.87,460.22 140.33,460.6 140.78,460.88 141.24,460.89 141.7,460.91 142.16,460.87 142.62,460.93 143.07,461.02 143.53,461.08 143.99,461.06 144.45,461.08 144.91,461.11 145.36,460.85 145.82,460.34 146.28,459.93 146.74,459.53 147.2,458.98 147.66,458.73 148.11,458.16 148.57,455.5 149.03,452.59 149.49,449.12 149.95,447.56 150.4,444.34 150.86,442.33 151.32,439.66 151.78,440.9 152.24,442.78 152.69,444.47 153.15,447.56 153.61,447.23 154.07,446.46 154.53,446.46 154.98,447.64 155.44,448.13 155.9,450.09 156.36,451.81 156.82,453.45 157.28,453.88 157.73,454.53 158.19,455.12 158.65,455.94 159.11,456.42 159.57,456.96 160.02,457.7 160.48,457.79 160.94,458.05 161.4,458.24 161.86,458.33 162.31,458.3 162.77,458.54 163.23,458.6 163.69,458.87 164.15,459.06 164.6,459.09 165.06,459.29 165.52,459.67 165.98,459.74 166.44,460.05 166.9,460.25 167.35,460.33 167.81,460.66 168.27,460.83 168.73,460.94 169.19,461.16 169.64,461.16 170.1,461.12 170.56,461.08 171.02,460.98 171.48,460.97 171.93,456.7 172.39,452.86 172.85,448.32 173.31,440.06 173.77,434.88 174.22,417.6 174.68,408.3 175.14,398.67 175.6,379.74 176.06,377.64 176.52,368.89 176.97,381.21 177.43,389.55 177.89,403.08 178.35,412.26 178.81,417.6 179.26,427.71 179.72,434.11 180.18,440.76 180.64,447.46 181.1,450.52 181.55,451.55 182.01,452.37 182.47,452.97 182.93,454.03 183.39,454.77 183.84,455.6 184.3,456.58 184.76,457.29 185.22,458.17 185.68,458.99 186.14,459.71 186.59,460.09 187.05,460.4 187.51,460.91 187.97,461.31 188.43,461.7 188.88,461.68 189.34,461.72 189.8,461.73 190.26,461.73 190.72,461.73 191.17,461.76 191.63,461.83 192.09,461.95 192.55,462.03 193.01,462.05 193.46,461.91 193.92,461.76 194.38,461.65 194.84,461.53 195.3,461.37 195.75,458.99 196.21,456.39 196.67,454.17 197.13,452.45 197.59,450.4 198.05,449.02 198.5,447.56 198.96,441.04 199.42,435.14 199.88,431.02 200.34,424.64 200.79,419.07 201.25,416.37 201.71,411.17 202.17,416.66 202.63,419.83 203.08,423.67 203.54,428.09 204,432.85 204.46,435.43 204.92,439.7 205.37,442.72 205.83,446.92 206.29,449.91 206.75,453.85 207.21,454.42 207.67,455.8 208.12,456.64 208.58,457.41 209.04,458.43 209.5,459.39 209.96,459.79 210.41,460.01 210.87,460.22 211.33,460.5 211.79,460.67 212.25,460.9 212.7,461.04 213.16,461.25 213.62,461.49 214.08,461.7 214.54,461.84 214.99,461.88 215.45,461.89 215.91,461.89 216.37,461.87 216.83,461.9 217.29,461.9 217.74,461.91 218.2,461.86 218.66,460.89 219.12,459.79 219.58,458.83 220.03,457.59 220.49,456.32 220.95,454.74 221.41,452.85 221.87,449.52 222.32,446.04 222.78,442.97 223.24,437.74 223.7,433.17 224.16,426.24 224.61,422.55 225.07,415.15 225.53,404.92 225.99,408.36 226.45,412.64 226.91,418.8 227.36,425.28 227.82,431.02 228.28,437.45 228.74,441.88 229.2,446.09 229.65,448.38 230.11,450.01 230.57,451.71 231.03,453.33 231.49,454.09 231.94,455.12 232.4,455.66 232.86,456.61 233.32,457.29 233.78,457.65 234.23,458.01 234.69,458.67 235.15,458.98 235.61,459.42 236.07,460 236.53,460.4" fill="none" stroke="#fa8a1c" stroke-width="0.95" stroke-dasharray="2.7,1.4" stroke-linejoin="round"/>
<polyline clip-path="url(#c9)" points="47.79,462.68 48.25,461.53 48.71,461.37 49.17,460.61 49.62,461.77 50.08,461.6 50.54,460.52 51,460.51 51.46,461.08 51.91,460.25 52.37,460.64 52.83,459.51 53.29,459.9 53.75,457.93 54.2,453.63 54.66,450.59 55.12,448.48 55.58,438.98 56.04,432.8 56.5,431.83 56.95,422.48 57.41,414.39 57.87,409.95 58.33,400.42 58.79,404.67 59.24,414.1 59.7,426.34 60.16,436.16 60.62,441.89 61.08,448.03 61.53,450.73 61.99,455.62 62.45,456.43 62.91,457.07 63.37,458.66 63.82,460.96 64.28,460.34 64.74,460.45 65.2,461.72 65.66,462.2 66.12,461.04 66.57,462.01 67.03,462.7 67.49,462.29 67.95,462.78 68.41,461.72 68.86,462.33 69.32,463.13 69.78,461.85 70.24,463.26 70.7,462.96 71.15,463.49 71.61,462.17 72.07,463.32 72.53,462.53 72.99,463.33 73.44,462.59 73.9,462.2 74.36,462.46 74.82,462.57 75.28,462.51 75.74,462.59 76.19,462.13 76.65,462.13 77.11,460.41 77.57,460.01 78.03,457.68 78.48,456.5 78.94,456.1 79.4,451.84 79.86,445.95 80.32,442.65 80.77,438.97 81.23,428.48 81.69,420.98 82.15,434.94 82.61,437.73 83.06,437.5 83.52,441.62 83.98,447.85 84.44,451.7 84.9,453.6 85.35,453.83 85.81,455.32 86.27,457.32 86.73,457.41 87.19,458.35 87.65,458.12 88.1,456.93 88.56,457.96 89.02,458.37 89.48,456.49 89.94,457.78 90.39,457.55 90.85,457.89 91.31,457.75 91.77,457.91 92.23,458.07 92.68,456.93 93.14,458.54 93.6,458.84 94.06,458.36 94.52,457.81 94.97,459.46 95.43,458.61 95.89,459.39 96.35,458.97 96.81,458.89 97.27,458.13 97.72,458.48 98.18,458.99 98.64,458.26 99.1,459.34 99.56,459.69 100.01,458.5 100.47,457.38 100.93,454.63 101.39,453.57 101.85,449.52 102.3,447.9 102.76,445.02 103.22,439.14 103.68,435.25 104.14,431.93 104.59,426.93 105.05,418.69 105.51,424.86 105.97,434.47 106.43,445.74 106.89,451.15 107.34,451.13 107.8,451.91 108.26,451.93 108.72,450.05 109.18,449.83 109.63,445.89 110.09,443.22 110.55,446.65 111.01,449.21 111.47,452.1 111.92,451.7 112.38,454.01 112.84,452.93 113.3,454.56 113.76,455.28 114.21,456.98 114.67,459.13 115.13,458.38 115.59,459.23 116.05,459.55 116.51,460.77 116.96,460.35 117.42,460.83 117.88,460.61 118.34,459.81 118.8,460.25 119.25,462.01 119.71,461.01 120.17,460.75 120.63,461.76 121.09,462.79 121.54,460.59 122,460.6 122.46,458.6 122.92,457.8 123.38,457.05 123.83,455.83 124.29,456.86 124.75,449.87 125.21,446.92 125.67,442.48 126.13,435.92 126.58,427.53 127.04,424.24 127.5,412.94 127.96,405.12 128.42,405.85 128.87,405.25 129.33,406.29 129.79,403.05 130.25,410.57 130.71,410.13 131.16,414.39 131.62,427.46 132.08,427.69 132.54,440.14 133,442.05 133.45,445.22 133.91,447.78 134.37,450.67 134.83,454.18 135.29,454.77 135.75,455.67 136.2,454.96 136.66,457.57 137.12,458.04 137.58,456.9 138.04,457.81 138.49,458.26 138.95,458.18 139.41,459.47 139.87,459.23 140.33,460.33 140.78,459.79 141.24,461.75 141.7,461.02 142.16,460.76 142.62,460.28 143.07,461.09 143.53,460.66 143.99,460.14 144.45,461.22 144.91,461.68 145.36,462.04 145.82,460.13 146.28,460.39 146.74,460.16 147.2,459.49 147.66,459.8 148.11,459.33 148.57,458.75 149.03,456.1 149.49,451.63 149.95,449.82 150.4,448.35 150.86,439.9 151.32,431.9 151.78,423.64 152.24,424.68 152.69,435.27 153.15,442.32 153.61,446.52 154.07,447.45 154.53,447.33 154.98,445.69 155.44,447.19 155.9,444.11 156.36,444.87 156.82,451.72 157.28,452.95 157.73,454.17 158.19,454.27 158.65,455.18 159.11,455.32 159.57,456.78 160.02,456.97 160.48,456.96 160.94,458.22 161.4,458.77 161.86,457.93 162.31,459.14 162.77,457.51 163.23,459.04 163.69,457.71 164.15,458.79 164.6,459.8 165.06,459.05 165.52,458.9 165.98,459.7 166.44,459.46 166.9,460.32 167.35,459.3 167.81,461 168.27,460.06 168.73,461.79 169.19,460.93 169.64,462.02 170.1,461.89 170.56,460.95 171.02,460.27 171.48,461.37 171.93,461.16 172.39,456.76 172.85,452.59 173.31,448.78 173.77,440.61 174.22,433.43 174.68,417.3 175.14,409.22 175.6,396.45 176.06,385.57 176.52,389.59 176.97,391.9 177.43,391.22 177.89,389.4 178.35,405.26 178.81,414.03 179.26,416 179.72,429.51 180.18,432.66 180.64,441.75 181.1,447.81 181.55,450.25 182.01,452.62 182.47,451.63 182.93,453.13 183.39,453.34 183.84,454.11 184.3,456.63 184.76,455.82 185.22,456.55 185.68,458.74 186.14,458.79 186.59,460.33 187.05,460.01 187.51,459.89 187.97,461.15 188.43,461.24 188.88,462.42 189.34,460.97 189.8,461.48 190.26,461.09 190.72,462.54 191.17,461.25 191.63,462.55 192.09,461.72 192.55,462.47 193.01,461.26 193.46,462.8 193.92,461.96 194.38,461.82 194.84,461.87 195.3,462.38 195.75,461.05 196.21,457.97 196.67,456.72 197.13,453.16 197.59,452.88 198.05,451.05 198.5,449.15 198.96,446.11 199.42,440.03 199.88,434.6 200.34,433.04 200.79,424.87 201.25,421.72 201.71,419.54 202.17,415.51 202.63,418.72 203.08,421.93 203.54,423.61 204,426.78 204.46,431.04 204.92,433.75 205.37,439.98 205.83,443.84 206.29,445.47 206.75,450.14 207.21,454.26 207.67,453.6 208.12,455.66 208.58,455.57 209.04,456.95 209.5,457.44 209.96,460.13 210.41,458.86 210.87,459.92 211.33,459.82 211.79,460.91 212.25,461.18 212.7,461.31 213.16,461.69 213.62,460.33 214.08,462.23 214.54,462.2 214.99,461.58 215.45,462.45 215.91,462.45 216.37,462.37 216.83,462.39 217.29,462.84 217.74,461.44 218.2,461.6 218.66,462.22 219.12,460.09 219.58,459.67 220.03,459.44 220.49,456.53 220.95,456.96 221.41,453.97 221.87,452.01 222.32,450.97 222.78,444.93 223.24,443.24 223.7,437.73 224.16,431.27 224.61,426.3 225.07,422.97 225.53,415.02 225.99,397.5 226.45,405.19 226.91,410.03 227.36,417.77 227.82,422.92 228.28,429.1 228.74,435.76 229.2,441.86 229.65,444.78 230.11,448.96 230.57,451.09 231.03,451.33 231.49,454.56 231.94,452.89 232.4,455.55 232.86,455.84 233.32,457.1 233.78,457.69 234.23,457.57 234.69,457.33 235.15,459.73 235.61,459.32 236.07,459.96 236.53,459.05" fill="none" stroke="#3ec3f2" stroke-width="0.95" stroke-linejoin="round"/>
<rect x="38.5" y="364.5" width="207.1" height="102.9" fill="none" stroke="#b3b3b3" stroke-width="0.9"/>
<line x1="37.2" y1="463" x2="38.5" y2="463" stroke="#b3b3b3" stroke-width="0.6"/>
<text transform="matrix(0.89,0,0,1,36.9,465.45)" text-anchor="end" font-size="6.7">0</text>
<line x1="37.2" y1="444.62" x2="38.5" y2="444.62" stroke="#b3b3b3" stroke-width="0.6"/>
<text transform="matrix(0.89,0,0,1,36.9,447.07)" text-anchor="end" font-size="6.7">10</text>
<line x1="37.2" y1="426.24" x2="38.5" y2="426.24" stroke="#b3b3b3" stroke-width="0.6"/>
<text transform="matrix(0.89,0,0,1,36.9,428.69)" text-anchor="end" font-size="6.7">20</text>
<line x1="37.2" y1="407.86" x2="38.5" y2="407.86" stroke="#b3b3b3" stroke-width="0.6"/>
<text transform="matrix(0.89,0,0,1,36.9,410.31)" text-anchor="end" font-size="6.7">30</text>
<line x1="37.2" y1="389.48" x2="38.5" y2="389.48" stroke="#b3b3b3" stroke-width="0.6"/>
<text transform="matrix(0.89,0,0,1,36.9,391.93)" text-anchor="end" font-size="6.7">40</text>
<line x1="37.2" y1="371.1" x2="38.5" y2="371.1" stroke="#b3b3b3" stroke-width="0.6"/>
<text transform="matrix(0.89,0,0,1,36.9,373.55)" text-anchor="end" font-size="6.7">50</text>
<line x1="46.6" y1="467.4" x2="46.6" y2="468.7" stroke="#b3b3b3" stroke-width="0.6"/>
<text transform="matrix(0.89,0,0,1,46.6,474.45)" text-anchor="middle" font-size="6.7">2011</text>
<line x1="70.43" y1="467.4" x2="70.43" y2="468.7" stroke="#b3b3b3" stroke-width="0.6"/>
<text transform="matrix(0.89,0,0,1,70.43,474.45)" text-anchor="middle" font-size="6.7">2012</text>
<line x1="94.26" y1="467.4" x2="94.26" y2="468.7" stroke="#b3b3b3" stroke-width="0.6"/>
<text transform="matrix(0.89,0,0,1,94.26,474.45)" text-anchor="middle" font-size="6.7">2013</text>
<line x1="118.09" y1="467.4" x2="118.09" y2="468.7" stroke="#b3b3b3" stroke-width="0.6"/>
<text transform="matrix(0.89,0,0,1,118.09,474.45)" text-anchor="middle" font-size="6.7">2014</text>
<line x1="141.92" y1="467.4" x2="141.92" y2="468.7" stroke="#b3b3b3" stroke-width="0.6"/>
<text transform="matrix(0.89,0,0,1,141.92,474.45)" text-anchor="middle" font-size="6.7">2015</text>
<line x1="165.75" y1="467.4" x2="165.75" y2="468.7" stroke="#b3b3b3" stroke-width="0.6"/>
<text transform="matrix(0.89,0,0,1,165.75,474.45)" text-anchor="middle" font-size="6.7">2016</text>
<line x1="189.58" y1="467.4" x2="189.58" y2="468.7" stroke="#b3b3b3" stroke-width="0.6"/>
<text transform="matrix(0.89,0,0,1,189.58,474.45)" text-anchor="middle" font-size="6.7">2017</text>
<line x1="213.41" y1="467.4" x2="213.41" y2="468.7" stroke="#b3b3b3" stroke-width="0.6"/>
<text transform="matrix(0.89,0,0,1,213.41,474.45)" text-anchor="middle" font-size="6.7">2018</text>
<text transform="matrix(0.84,0,0,1,142.05,480.2)" text-anchor="middle" font-size="6.2">Week</text>
<rect x="213.6" y="366.8" width="29.5" height="18.0" rx="1" fill="#fff" fill-opacity="0.85" stroke="#e2e2e2" stroke-width="0.6"/>
<line x1="215.2" y1="371.7" x2="226.1" y2="371.7" stroke="#fa8a1c" stroke-width="1" stroke-dasharray="2.7,1.4"/>
<text transform="matrix(0.86,0,0,1,229.3,373.6)" font-size="6.0">True</text>
<line x1="215.2" y1="379.6" x2="226.1" y2="379.6" stroke="#3ec3f2" stroke-width="1"/>
<text transform="matrix(0.86,0,0,1,229.3,381.5)" font-size="6.0">Train</text>
<clipPath id="c10"><rect x="257.4" y="366.9" width="206.9" height="100.4"/></clipPath>
<polyline clip-path="url(#c10)" points="266.8,461.37 270.49,461.64 274.18,462.06 277.87,462.47 281.56,462.47 285.24,462.06 288.93,461.64 292.62,461.37 296.31,461.64 300,462.06 303.69,462.33 307.37,461.64 311.06,461.09 314.75,460.13 318.44,459.71 322.13,458.33 325.81,455.85 329.5,454.61 333.19,453.78 336.88,450.33 340.57,443.01 344.25,439.84 347.94,433.49 351.63,425.49 355.32,406.72 359.01,390.99 362.69,371.53 366.38,374.15 370.07,371.53 373.76,375.81 377.45,390.99 381.13,410.17 384.82,414.17 388.51,423 392.2,432.53 395.89,438.18 399.57,441.36 403.26,447.02 406.95,451.71 410.64,452.26 414.33,453.64 418.01,456.81 421.7,457.5 425.39,457.92 429.08,458.33 432.77,458.61 436.46,459.16 440.14,459.44 443.83,459.85 447.52,460.4 451.21,460.95 454.9,460.95" fill="none" stroke="#fa8a1c" stroke-width="1.1" stroke-dasharray="2.7,1.4" stroke-linejoin="round"/>
<polyline clip-path="url(#c10)" points="266.8,462.06 270.49,462.33 274.18,462.33 277.87,461.51 281.56,462.33 285.24,462.06 288.93,462.06 292.62,462.06 296.31,462.06 300,462.06 303.69,462.06 307.37,461.51 311.06,461.09 314.75,460.26 318.44,458.75 322.13,458.06 325.81,456.81 329.5,455.57 333.19,453.5 336.88,447.98 340.57,451.02 344.25,441.22 347.94,426.45 351.63,425.9 355.32,431.15 359.01,418.17 362.69,407.55 366.38,406.58 370.07,406.58 373.76,408.1 377.45,407.55 381.13,407.55 384.82,407.55 388.51,427.42 392.2,428.66 395.89,436.67 399.57,442.19 403.26,445.77 406.95,448.95 410.64,452.54 414.33,455.02 418.01,455.02 421.7,456.81 425.39,459.99 429.08,460.26 432.77,460.26 436.46,459.99 440.14,459.02 443.83,461.09 447.52,461.09 451.21,461.51 454.9,462.33" fill="none" stroke="#55b355" stroke-width="0.95" stroke-linejoin="round"/>
<rect x="257.4" y="366.9" width="206.9" height="100.4" fill="none" stroke="#b3b3b3" stroke-width="0.9"/>
<line x1="256.1" y1="463.3" x2="257.4" y2="463.3" stroke="#b3b3b3" stroke-width="0.6"/>
<text transform="matrix(0.89,0,0,1,255.8,465.75)" text-anchor="end" font-size="6.7">0</text>
<line x1="256.1" y1="449.5" x2="257.4" y2="449.5" stroke="#b3b3b3" stroke-width="0.6"/>
<text transform="matrix(0.89,0,0,1,255.8,451.95)" text-anchor="end" font-size="6.7">10</text>
<line x1="256.1" y1="435.7" x2="257.4" y2="435.7" stroke="#b3b3b3" stroke-width="0.6"/>
<text transform="matrix(0.89,0,0,1,255.8,438.15)" text-anchor="end" font-size="6.7">20</text>
<line x1="256.1" y1="421.9" x2="257.4" y2="421.9" stroke="#b3b3b3" stroke-width="0.6"/>
<text transform="matrix(0.89,0,0,1,255.8,424.35)" text-anchor="end" font-size="6.7">30</text>
<line x1="256.1" y1="408.1" x2="257.4" y2="408.1" stroke="#b3b3b3" stroke-width="0.6"/>
<text transform="matrix(0.89,0,0,1,255.8,410.55)" text-anchor="end" font-size="6.7">40</text>
<line x1="256.1" y1="394.3" x2="257.4" y2="394.3" stroke="#b3b3b3" stroke-width="0.6"/>
<text transform="matrix(0.89,0,0,1,255.8,396.75)" text-anchor="end" font-size="6.7">50</text>
<line x1="256.1" y1="380.5" x2="257.4" y2="380.5" stroke="#b3b3b3" stroke-width="0.6"/>
<text transform="matrix(0.89,0,0,1,255.8,382.95)" text-anchor="end" font-size="6.7">60</text>
<line x1="256.1" y1="366.7" x2="257.4" y2="366.7" stroke="#b3b3b3" stroke-width="0.6"/>
<text transform="matrix(0.89,0,0,1,255.8,369.15)" text-anchor="end" font-size="6.7">70</text>
<line x1="266.8" y1="467.3" x2="266.8" y2="468.6" stroke="#b3b3b3" stroke-width="0.6"/>
<text transform="matrix(0.89,0,0,1,266.8,474.35)" text-anchor="middle" font-size="6.7">1</text>
<line x1="303.69" y1="467.3" x2="303.69" y2="468.6" stroke="#b3b3b3" stroke-width="0.6"/>
<text transform="matrix(0.89,0,0,1,303.69,474.35)" text-anchor="middle" font-size="6.7">10</text>
<line x1="340.57" y1="467.3" x2="340.57" y2="468.6" stroke="#b3b3b3" stroke-width="0.6"/>
<text transform="matrix(0.89,0,0,1,340.57,474.35)" text-anchor="middle" font-size="6.7">20</text>
<line x1="377.45" y1="467.3" x2="377.45" y2="468.6" stroke="#b3b3b3" stroke-width="0.6"/>
<text transform="matrix(0.89,0,0,1,377.45,474.35)" text-anchor="middle" font-size="6.7">30</text>
<line x1="414.33" y1="467.3" x2="414.33" y2="468.6" stroke="#b3b3b3" stroke-width="0.6"/>
<text transform="matrix(0.89,0,0,1,414.33,474.35)" text-anchor="middle" font-size="6.7">40</text>
<line x1="454.9" y1="467.3" x2="454.9" y2="468.6" stroke="#b3b3b3" stroke-width="0.6"/>
<text transform="matrix(0.89,0,0,1,454.9,474.35)" text-anchor="middle" font-size="6.7">52</text>
<text transform="matrix(0.84,0,0,1,360.85,480.1)" text-anchor="middle" font-size="6.2">2019</text>
<rect x="433.3" y="369" width="28" height="18.0" rx="1" fill="#fff" fill-opacity="0.85" stroke="#e2e2e2" stroke-width="0.6"/>
<line x1="434.9" y1="373.9" x2="445.8" y2="373.9" stroke="#fa8a1c" stroke-width="1" stroke-dasharray="2.7,1.4"/>
<text transform="matrix(0.86,0,0,1,449,375.8)" font-size="6.0">True</text>
<line x1="434.9" y1="381.8" x2="445.8" y2="381.8" stroke="#55b355" stroke-width="1"/>
<text transform="matrix(0.86,0,0,1,449,383.7)" font-size="6.0">Test</text>
<clipPath id="c11"><rect x="477.4" y="364.6" width="205.1" height="102.7"/></clipPath>
<polyline clip-path="url(#c11)" points="486.72,451.51 490.38,451.28 494.03,449.17 497.69,453.39 501.35,448.94 505,442.61 508.66,453.86 512.31,455.73 515.97,456.67 519.63,451.75 523.28,460.18 526.94,448.94 530.59,453.39 534.25,448.94 537.91,447.06 541.56,451.28 545.22,456.2 548.87,451.75 552.53,449.17 556.19,442.61 559.84,454.79 563.5,444.95 567.15,451.28 570.81,432.07 574.47,435.11 578.12,441.91 581.78,444.25 585.43,446.59 589.09,442.61 592.75,435.11 596.4,438.86 600.06,428.79 603.71,421.29 607.37,441.21 611.03,439.8 614.68,441.91 618.34,444.02 621.99,416.61 625.65,443.55 629.31,450.34 632.96,455.73 636.62,458.07 640.27,447.06 643.93,453.86 647.59,460.42 651.24,460.65 654.9,458.07 658.55,453.86 662.21,449.64 665.87,437.46 669.52,437.46 673.18,444.72" fill="none" stroke="#fa8a1c" stroke-width="1.1" stroke-dasharray="2.7,1.4" stroke-linejoin="round"/>
<polyline clip-path="url(#c11)" points="486.72,441.21 490.38,453.39 494.03,457.84 497.69,462.29 501.35,457.84 505,461.35 508.66,456.43 512.31,453.15 515.97,456.43 519.63,448.47 523.28,456.67 526.94,444.72 530.59,456.67 534.25,433.47 537.91,425.04 541.56,406.3 545.22,411.22 548.87,392.01 552.53,405.13 556.19,407.47 559.84,376.07 563.5,398.1 567.15,425.98 570.81,412.86 574.47,416.84 578.12,385.21 581.78,369.51 585.43,409.11 589.09,416.61 592.75,427.38 596.4,437.46 600.06,436.52 603.71,438.86 607.37,440.03 611.03,435.11 614.68,430.9 618.34,428.09 621.99,429.49 625.65,437.46 629.31,437.46 632.96,435.11 636.62,438.86 640.27,441.21 643.93,441.21 647.59,437.46 651.24,443.55 654.9,447.3 658.55,448.94 662.21,449.64 665.87,451.28 669.52,455.26 673.18,444.49" fill="none" stroke="#55b355" stroke-width="0.95" stroke-linejoin="round"/>
<rect x="477.4" y="364.6" width="205.1" height="102.7" fill="none" stroke="#b3b3b3" stroke-width="0.9"/>
<line x1="476.1" y1="456.2" x2="477.4" y2="456.2" stroke="#b3b3b3" stroke-width="0.6"/>
<text transform="matrix(0.89,0,0,1,475.8,458.65)" text-anchor="end" font-size="6.7">0.5</text>
<line x1="476.1" y1="444.49" x2="477.4" y2="444.49" stroke="#b3b3b3" stroke-width="0.6"/>
<text transform="matrix(0.89,0,0,1,475.8,446.94)" text-anchor="end" font-size="6.7">1.0</text>
<line x1="476.1" y1="432.77" x2="477.4" y2="432.77" stroke="#b3b3b3" stroke-width="0.6"/>
<text transform="matrix(0.89,0,0,1,475.8,435.22)" text-anchor="end" font-size="6.7">1.5</text>
<line x1="476.1" y1="421.06" x2="477.4" y2="421.06" stroke="#b3b3b3" stroke-width="0.6"/>
<text transform="matrix(0.89,0,0,1,475.8,423.51)" text-anchor="end" font-size="6.7">2.0</text>
<line x1="476.1" y1="409.34" x2="477.4" y2="409.34" stroke="#b3b3b3" stroke-width="0.6"/>
<text transform="matrix(0.89,0,0,1,475.8,411.79)" text-anchor="end" font-size="6.7">2.5</text>
<line x1="476.1" y1="397.63" x2="477.4" y2="397.63" stroke="#b3b3b3" stroke-width="0.6"/>
<text transform="matrix(0.89,0,0,1,475.8,400.08)" text-anchor="end" font-size="6.7">3.0</text>
<line x1="476.1" y1="385.91" x2="477.4" y2="385.91" stroke="#b3b3b3" stroke-width="0.6"/>
<text transform="matrix(0.89,0,0,1,475.8,388.36)" text-anchor="end" font-size="6.7">3.5</text>
<line x1="476.1" y1="374.2" x2="477.4" y2="374.2" stroke="#b3b3b3" stroke-width="0.6"/>
<text transform="matrix(0.89,0,0,1,475.8,376.65)" text-anchor="end" font-size="6.7">4.0</text>
<line x1="486.72" y1="467.3" x2="486.72" y2="468.6" stroke="#b3b3b3" stroke-width="0.6"/>
<text transform="matrix(0.89,0,0,1,486.72,474.35)" text-anchor="middle" font-size="6.7">1</text>
<line x1="523.28" y1="467.3" x2="523.28" y2="468.6" stroke="#b3b3b3" stroke-width="0.6"/>
<text transform="matrix(0.89,0,0,1,523.28,474.35)" text-anchor="middle" font-size="6.7">10</text>
<line x1="559.84" y1="467.3" x2="559.84" y2="468.6" stroke="#b3b3b3" stroke-width="0.6"/>
<text transform="matrix(0.89,0,0,1,559.84,474.35)" text-anchor="middle" font-size="6.7">20</text>
<line x1="596.4" y1="467.3" x2="596.4" y2="468.6" stroke="#b3b3b3" stroke-width="0.6"/>
<text transform="matrix(0.89,0,0,1,596.4,474.35)" text-anchor="middle" font-size="6.7">30</text>
<line x1="632.96" y1="467.3" x2="632.96" y2="468.6" stroke="#b3b3b3" stroke-width="0.6"/>
<text transform="matrix(0.89,0,0,1,632.96,474.35)" text-anchor="middle" font-size="6.7">40</text>
<line x1="673.18" y1="467.3" x2="673.18" y2="468.6" stroke="#b3b3b3" stroke-width="0.6"/>
<text transform="matrix(0.89,0,0,1,673.18,474.35)" text-anchor="middle" font-size="6.7">52</text>
<text transform="matrix(0.84,0,0,1,579.95,480.1)" text-anchor="middle" font-size="6.2">2020</text>
<rect x="652.1" y="366.7" width="28" height="18.0" rx="1" fill="#fff" fill-opacity="0.85" stroke="#e2e2e2" stroke-width="0.6"/>
<line x1="653.7" y1="371.6" x2="664.6" y2="371.6" stroke="#fa8a1c" stroke-width="1" stroke-dasharray="2.7,1.4"/>
<text transform="matrix(0.86,0,0,1,667.8,373.5)" font-size="6.0">True</text>
<line x1="653.7" y1="379.5" x2="664.6" y2="379.5" stroke="#55b355" stroke-width="1"/>
<text transform="matrix(0.86,0,0,1,667.8,381.4)" font-size="6.0">Test</text>
<clipPath id="c12"><rect x="38.5" y="485.3" width="207.1" height="103"/></clipPath>
<polyline clip-path="url(#c12)" points="47.79,582.52 48.25,582.27 48.71,582.07 49.17,581.91 49.62,581.71 50.08,581.59 50.54,581.43 51,581.27 51.46,581.23 51.91,581.03 52.37,580.68 52.83,579.67 53.29,577.89 53.75,575.23 54.2,570.77 54.66,568.33 55.12,560.67 55.58,553.92 56.04,550.85 56.5,543.53 56.95,537.42 57.41,533.59 57.87,531.16 58.33,531.16 58.79,537.46 59.24,545.7 59.7,555.62 60.16,564.1 60.62,568.32 61.08,572.65 61.53,576.06 61.99,577.28 62.45,578.5 62.91,579.66 63.37,580.75 63.82,581.11 64.28,581.32 64.74,581.68 65.2,582 65.66,582.36 66.12,582.63 66.57,582.71 67.03,582.8 67.49,582.84 67.95,582.88 68.41,582.93 68.86,582.98 69.32,583.05 69.78,583.09 70.24,583.15 70.7,583.21 71.15,583.22 71.61,583.2 72.07,583.18 72.53,583.17 72.99,583.15 73.44,583.15 73.9,583.12 74.36,583.09 74.82,583.08 75.28,583.07 75.74,582.91 76.19,581.93 76.65,580.96 77.11,580.05 77.57,579.07 78.03,578.09 78.48,575.61 78.94,571.43 79.4,567.24 79.86,564.1 80.32,560.65 80.77,557.53 81.23,554.16 81.69,560.6 82.15,559.75 82.61,558.76 83.06,563.74 83.52,567.7 83.98,571.73 84.44,573.36 84.9,574.74 85.35,575.84 85.81,577.34 86.27,577.74 86.73,577.88 87.19,578.29 87.65,578.61 88.1,578.94 88.56,579.03 89.02,578.99 89.48,579.31 89.94,579.18 90.39,579.24 90.85,579.36 91.31,579.65 91.77,579.89 92.23,580.2 92.68,580.45 93.14,580.72 93.6,581.03 94.06,581.15 94.52,581.45 94.97,581.6 95.43,581.55 95.89,581.53 96.35,581.53 96.81,581.52 97.27,581.47 97.72,581.44 98.18,581.43 98.64,581.43 99.1,581.47 99.56,581.15 100.01,578.8 100.47,576.27 100.93,573.69 101.39,571.27 101.85,568.83 102.3,564.76 102.76,561.31 103.22,556 103.68,553.64 104.14,552.16 104.59,547.9 105.05,552.46 105.51,559.13 105.97,565.77 106.43,571.12 106.89,571.58 107.34,572.62 107.8,572.19 108.26,571.43 108.72,569.83 109.18,567.7 109.63,564.28 110.09,566.04 110.55,568.96 111.01,571.7 111.47,572.89 111.92,573.67 112.38,573.95 112.84,574.44 113.3,576.22 113.76,577.93 114.21,579.4 114.67,579.9 115.13,580.16 115.59,580.27 116.05,580.42 116.51,580.76 116.96,580.95 117.42,581.15 117.88,581.28 118.34,581.58 118.8,581.73 119.25,581.96 119.71,582.19 120.17,582.44 120.63,582.61 121.09,581.92 121.54,581.04 122,580.21 122.46,579.21 122.92,578.39 123.38,577.43 123.83,576.41 124.29,571.28 124.75,566.88 125.21,561.74 125.67,556 126.13,548.51 126.58,542.25 127.04,533.19 127.5,524.72 127.96,521.53 128.42,520.02 128.87,517.91 129.33,522.33 129.79,528.79 130.25,531.69 130.71,535.76 131.16,545.58 131.62,550.48 132.08,559.72 132.54,564.28 133,567.15 133.45,569.55 133.91,572.24 134.37,574.5 134.83,575.22 135.29,575.89 135.75,576.59 136.2,577.05 136.66,577.8 137.12,578.52 137.58,579.08 138.04,579.31 138.49,579.78 138.95,580.11 139.41,580.53 139.87,580.81 140.33,581.2 140.78,581.48 141.24,581.49 141.7,581.51 142.16,581.47 142.62,581.53 143.07,581.62 143.53,581.67 143.99,581.66 144.45,581.68 144.91,581.7 145.36,581.45 145.82,580.94 146.28,580.53 146.74,580.13 147.2,579.57 147.66,579.32 148.11,578.75 148.57,576.09 149.03,573.18 149.49,569.7 149.95,568.14 150.4,564.92 150.86,562.91 151.32,560.23 151.78,561.48 152.24,563.36 152.69,565.05 153.15,568.14 153.61,567.81 154.07,567.05 154.53,567.04 154.98,568.22 155.44,568.72 155.9,570.68 156.36,572.39 156.82,574.04 157.28,574.47 157.73,575.12 158.19,575.71 158.65,576.53 159.11,577.01 159.57,577.56 160.02,578.29 160.48,578.39 160.94,578.64 161.4,578.83 161.86,578.92 162.31,578.9 162.77,579.14 163.23,579.19 163.69,579.46 164.15,579.66 164.6,579.69 165.06,579.89 165.52,580.27 165.98,580.34 166.44,580.65 166.9,580.85 167.35,580.92 167.81,581.26 168.27,581.43 168.73,581.54 169.19,581.76 169.64,581.76 170.1,581.72 170.56,581.68 171.02,581.58 171.48,581.56 171.93,577.3 172.39,573.45 172.85,568.91 173.31,560.64 173.77,555.45 174.22,538.15 174.68,528.84 175.14,519.2 175.6,500.25 176.06,498.14 176.52,489.39 176.97,501.72 177.43,510.07 177.89,523.62 178.35,532.8 178.81,538.15 179.26,548.27 179.72,554.67 180.18,561.34 180.64,568.05 181.1,571.11 181.55,572.14 182.01,572.96 182.47,573.56 182.93,574.62 183.39,575.36 183.84,576.2 184.3,577.17 184.76,577.88 185.22,578.76 185.68,579.58 186.14,580.31 186.59,580.69 187.05,581 187.51,581.5 187.97,581.91 188.43,582.3 188.88,582.28 189.34,582.32 189.8,582.33 190.26,582.33 190.72,582.33 191.17,582.36 191.63,582.43 192.09,582.55 192.55,582.63 193.01,582.65 193.46,582.51 193.92,582.36 194.38,582.25 194.84,582.13 195.3,581.97 195.75,579.59 196.21,576.98 196.67,574.76 197.13,573.04 197.59,570.99 198.05,569.6 198.5,568.14 198.96,561.61 199.42,555.71 199.88,551.58 200.34,545.19 200.79,539.62 201.25,536.92 201.71,531.71 202.17,537.21 202.63,540.39 203.08,544.22 203.54,548.65 204,553.41 204.46,556 204.92,560.28 205.37,563.3 205.83,567.5 206.29,570.5 206.75,574.44 207.21,575.01 207.67,576.39 208.12,577.23 208.58,578 209.04,579.02 209.5,579.99 209.96,580.38 210.41,580.6 210.87,580.82 211.33,581.1 211.79,581.26 212.25,581.5 212.7,581.63 213.16,581.84 213.62,582.09 214.08,582.3 214.54,582.44 214.99,582.48 215.45,582.49 215.91,582.49 216.37,582.47 216.83,582.5 217.29,582.5 217.74,582.51 218.2,582.46 218.66,581.49 219.12,580.39 219.58,579.43 220.03,578.18 220.49,576.91 220.95,575.33 221.41,573.44 221.87,570.11 222.32,566.62 222.78,563.54 223.24,558.31 223.7,553.74 224.16,546.8 224.61,543.11 225.07,535.7 225.53,525.46 225.99,528.9 226.45,533.18 226.91,539.35 227.36,545.84 227.82,551.58 228.28,558.02 228.74,562.45 229.2,566.67 229.65,568.96 230.11,570.6 230.57,572.3 231.03,573.92 231.49,574.68 231.94,575.71 232.4,576.25 232.86,577.2 233.32,577.88 233.78,578.24 234.23,578.6 234.69,579.26 235.15,579.57 235.61,580.02 236.07,580.6 236.53,580.99" fill="none" stroke="#fa8a1c" stroke-width="0.95" stroke-dasharray="2.7,1.4" stroke-linejoin="round"/>
<polyline clip-path="url(#c12)" points="47.79,581.88 48.25,582.95 48.71,581.74 49.17,582.4 49.62,581.01 50.08,582.29 50.54,580.87 51,581.01 51.46,580.7 51.91,580.28 52.37,581.08 52.83,579.93 53.29,577.52 53.75,575.66 54.2,571.32 54.66,569.01 55.12,559.56 55.58,552.55 56.04,549.67 56.5,544.55 56.95,533.76 57.41,528.54 57.87,523.99 58.33,523.28 58.79,534.26 59.24,546.72 59.7,555.3 60.16,564.49 60.62,568.14 61.08,571.72 61.53,575.78 61.99,577.45 62.45,577.45 62.91,577.88 63.37,579.29 63.82,578.37 64.28,579.58 64.74,579.52 65.2,579.78 65.66,578.9 66.12,579.57 66.57,579.61 67.03,580.38 67.49,580.09 67.95,579.51 68.41,580.8 68.86,580.82 69.32,580.99 69.78,580.38 70.24,579.86 70.7,580.37 71.15,580.61 71.61,580.43 72.07,580.91 72.53,579.72 72.99,580.62 73.44,580.8 73.9,580.66 74.36,579.83 74.82,580.61 75.28,579.78 75.74,581.03 76.19,580.42 76.65,580.56 77.11,578.85 77.57,578.57 78.03,578.13 78.48,576.36 78.94,571.44 79.4,567.52 79.86,562.71 80.32,557.31 80.77,551.72 81.23,548.3 81.69,558.65 82.15,557.12 82.61,557.02 83.06,564.7 83.52,567.7 83.98,571.78 84.44,572.36 84.9,575.66 85.35,576.67 85.81,576.73 86.27,577.62 86.73,577.94 87.19,577.81 87.65,578.45 88.1,578.62 88.56,579.43 89.02,579.68 89.48,580.11 89.94,579.45 90.39,579 90.85,579.56 91.31,579.9 91.77,579.7 92.23,579.88 92.68,580.3 93.14,581.01 93.6,580.55 94.06,580.71 94.52,580.87 94.97,581.04 95.43,582.25 95.89,581.29 96.35,581.75 96.81,581.68 97.27,581.45 97.72,581.96 98.18,581.79 98.64,580.72 99.1,581.72 99.56,580.54 100.01,578.49 100.47,576.61 100.93,574.06 101.39,571.04 101.85,568.33 102.3,565.2 102.76,562.66 103.22,557.09 103.68,551.97 104.14,550.22 104.59,547.63 105.05,549.61 105.51,558.28 105.97,566.11 106.43,570.21 106.89,572.41 107.34,573.49 107.8,572.53 108.26,570.9 108.72,569.72 109.18,567.74 109.63,563.13 110.09,566.33 110.55,568.25 111.01,572.81 111.47,572.29 111.92,574.39 112.38,573.63 112.84,573.75 113.3,575.93 113.76,577.79 114.21,579.32 114.67,579.5 115.13,580.36 115.59,580.68 116.05,580.33 116.51,580.73 116.96,581.53 117.42,581.1 117.88,581.33 118.34,582.07 118.8,581.43 119.25,581.56 119.71,582.42 120.17,581.93 120.63,581.95 121.09,581.69 121.54,581.18 122,580.56 122.46,579.82 122.92,578.77 123.38,576.54 123.83,577.23 124.29,570.34 124.75,566.37 125.21,560.88 125.67,557.4 126.13,547.91 126.58,543.6 127.04,532.22 127.5,522.59 127.96,517.93 128.42,512.81 128.87,502.71 129.33,513.5 129.79,525.96 130.25,528.36 130.71,537.86 131.16,545.93 131.62,550.79 132.08,558.52 132.54,564.64 133,566.97 133.45,569.55 133.91,572.28 134.37,574.56 134.83,575.29 135.29,575.7 135.75,576.72 136.2,577.19 136.66,577.05 137.12,577.71 137.58,579.5 138.04,578.58 138.49,580.54 138.95,580.38 139.41,579.91 139.87,581.31 140.33,580.95 140.78,580.76 141.24,581.33 141.7,581.57 142.16,582.15 142.62,581.6 143.07,581.67 143.53,581.26 143.99,581.81 144.45,581.23 144.91,581.84 145.36,581.25 145.82,580.55 146.28,581.04 146.74,579.42 147.2,579.66 147.66,579.36 148.11,577.96 148.57,575.96 149.03,573.14 149.49,570.38 149.95,568.72 150.4,563.33 150.86,560.12 151.32,554.64 151.78,556.63 152.24,560.96 152.69,565.1 153.15,567.17 153.61,567.94 154.07,567.89 154.53,566.08 154.98,567.21 155.44,569.66 155.9,569.79 156.36,571.98 156.82,574.51 157.28,574.32 157.73,574.29 158.19,576.38 158.65,576.23 159.11,577.48 159.57,578.18 160.02,577.52 160.48,577.54 160.94,578.38 161.4,578.34 161.86,579.1 162.31,579.02 162.77,578.95 163.23,578.68 163.69,579.14 164.15,579.7 164.6,579.49 165.06,580.04 165.52,579.78 165.98,579.77 166.44,580.23 166.9,581.11 167.35,581.1 167.81,580.55 168.27,581.61 168.73,581.3 169.19,582.34 169.64,582.29 170.1,582.11 170.56,581.43 171.02,581.98 171.48,581.34 171.93,578.06 172.39,573.05 172.85,568.41 173.31,561.4 173.77,556.37 174.22,539.38 174.68,528.88 175.14,521.23 175.6,508.53 176.06,503.7 176.52,501.12 176.97,509.52 177.43,510.85 177.89,522.65 178.35,530.4 178.81,537.86 179.26,548.14 179.72,553.7 180.18,560.45 180.64,567.51 181.1,570.83 181.55,571.45 182.01,573.94 182.47,573 182.93,575.18 183.39,575.65 183.84,576.4 184.3,577.14 184.76,577.72 185.22,578.62 185.68,579.88 186.14,580.52 186.59,580.45 187.05,580.35 187.51,581.68 187.97,582.61 188.43,581.81 188.88,581.74 189.34,581.85 189.8,582.14 190.26,582.44 190.72,582.93 191.17,581.77 191.63,582.52 192.09,583.07 192.55,582.46 193.01,583.27 193.46,582.66 193.92,582.22 194.38,581.83 194.84,582.33 195.3,582.4 195.75,579.84 196.21,576.4 196.67,575.58 197.13,573.81 197.59,571.34 198.05,568.51 198.5,567.18 198.96,560.19 199.42,557.3 199.88,551.58 200.34,547.63 200.79,543.72 201.25,542.31 201.71,543.21 202.17,542.81 202.63,543.48 203.08,545.59 203.54,549.1 204,554.38 204.46,555.23 204.92,558.76 205.37,561.94 205.83,566.41 206.29,569.69 206.75,574.13 207.21,575.02 207.67,577.1 208.12,576.69 208.58,578.55 209.04,578.31 209.5,579.43 209.96,580.72 210.41,579.98 210.87,580.43 211.33,580.64 211.79,581.84 212.25,581.83 212.7,582.13 213.16,581.21 213.62,582.45 214.08,582.38 214.54,582.09 214.99,582.62 215.45,582.31 215.91,582.32 216.37,582.64 216.83,581.91 217.29,582.27 217.74,582.18 218.2,582.14 218.66,581.32 219.12,580.9 219.58,578.76 220.03,577.42 220.49,577.64 220.95,575.59 221.41,574.1 221.87,570.98 222.32,566.42 222.78,563.74 223.24,559.53 223.7,553.8 224.16,545.96 224.61,544.69 225.07,534.74 225.53,524.14 225.99,526.75 226.45,530.42 226.91,537.49 227.36,546.38 227.82,553.19 228.28,558.58 228.74,563.44 229.2,565.74 229.65,569.29 230.11,570.45 230.57,571.8 231.03,574 231.49,573.68 231.94,575.41 232.4,576.07 232.86,577.8 233.32,578.33 233.78,577.92 234.23,578.7 234.69,579.13 235.15,578.96 235.61,579.74 236.07,580.08 236.53,581.19" fill="none" stroke="#3ec3f2" stroke-width="0.95" stroke-linejoin="round"/>
<rect x="38.5" y="485.3" width="207.1" height="103" fill="none" stroke="#b3b3b3" stroke-width="0.9"/>
<line x1="37.2" y1="583.6" x2="38.5" y2="583.6" stroke="#b3b3b3" stroke-width="0.6"/>
<text transform="matrix(0.89,0,0,1,36.9,586.05)" text-anchor="end" font-size="6.7">0</text>
<line x1="37.2" y1="565.2" x2="38.5" y2="565.2" stroke="#b3b3b3" stroke-width="0.6"/>
<text transform="matrix(0.89,0,0,1,36.9,567.65)" text-anchor="end" font-size="6.7">10</text>
<line x1="37.2" y1="546.8" x2="38.5" y2="546.8" stroke="#b3b3b3" stroke-width="0.6"/>
<text transform="matrix(0.89,0,0,1,36.9,549.25)" text-anchor="end" font-size="6.7">20</text>
<line x1="37.2" y1="528.4" x2="38.5" y2="528.4" stroke="#b3b3b3" stroke-width="0.6"/>
<text transform="matrix(0.89,0,0,1,36.9,530.85)" text-anchor="end" font-size="6.7">30</text>
<line x1="37.2" y1="510" x2="38.5" y2="510" stroke="#b3b3b3" stroke-width="0.6"/>
<text transform="matrix(0.89,0,0,1,36.9,512.45)" text-anchor="end" font-size="6.7">40</text>
<line x1="37.2" y1="491.6" x2="38.5" y2="491.6" stroke="#b3b3b3" stroke-width="0.6"/>
<text transform="matrix(0.89,0,0,1,36.9,494.05)" text-anchor="end" font-size="6.7">50</text>
<line x1="46.6" y1="588.3" x2="46.6" y2="589.6" stroke="#b3b3b3" stroke-width="0.6"/>
<text transform="matrix(0.89,0,0,1,46.6,595.35)" text-anchor="middle" font-size="6.7">2011</text>
<line x1="70.43" y1="588.3" x2="70.43" y2="589.6" stroke="#b3b3b3" stroke-width="0.6"/>
<text transform="matrix(0.89,0,0,1,70.43,595.35)" text-anchor="middle" font-size="6.7">2012</text>
<line x1="94.26" y1="588.3" x2="94.26" y2="589.6" stroke="#b3b3b3" stroke-width="0.6"/>
<text transform="matrix(0.89,0,0,1,94.26,595.35)" text-anchor="middle" font-size="6.7">2013</text>
<line x1="118.09" y1="588.3" x2="118.09" y2="589.6" stroke="#b3b3b3" stroke-width="0.6"/>
<text transform="matrix(0.89,0,0,1,118.09,595.35)" text-anchor="middle" font-size="6.7">2014</text>
<line x1="141.92" y1="588.3" x2="141.92" y2="589.6" stroke="#b3b3b3" stroke-width="0.6"/>
<text transform="matrix(0.89,0,0,1,141.92,595.35)" text-anchor="middle" font-size="6.7">2015</text>
<line x1="165.75" y1="588.3" x2="165.75" y2="589.6" stroke="#b3b3b3" stroke-width="0.6"/>
<text transform="matrix(0.89,0,0,1,165.75,595.35)" text-anchor="middle" font-size="6.7">2016</text>
<line x1="189.58" y1="588.3" x2="189.58" y2="589.6" stroke="#b3b3b3" stroke-width="0.6"/>
<text transform="matrix(0.89,0,0,1,189.58,595.35)" text-anchor="middle" font-size="6.7">2017</text>
<line x1="213.41" y1="588.3" x2="213.41" y2="589.6" stroke="#b3b3b3" stroke-width="0.6"/>
<text transform="matrix(0.89,0,0,1,213.41,595.35)" text-anchor="middle" font-size="6.7">2018</text>
<text transform="matrix(0.84,0,0,1,142.05,601.1)" text-anchor="middle" font-size="6.2">Week</text>
<rect x="213.6" y="487.6" width="29.5" height="18.0" rx="1" fill="#fff" fill-opacity="0.85" stroke="#e2e2e2" stroke-width="0.6"/>
<line x1="215.2" y1="492.5" x2="226.1" y2="492.5" stroke="#fa8a1c" stroke-width="1" stroke-dasharray="2.7,1.4"/>
<text transform="matrix(0.86,0,0,1,229.3,494.4)" font-size="6.0">True</text>
<line x1="215.2" y1="500.4" x2="226.1" y2="500.4" stroke="#3ec3f2" stroke-width="1"/>
<text transform="matrix(0.86,0,0,1,229.3,502.3)" font-size="6.0">Train</text>
<clipPath id="c13"><rect x="257.4" y="487.6" width="206.9" height="100.6"/></clipPath>
<polyline clip-path="url(#c13)" points="266.8,582.27 270.49,582.55 274.18,582.96 277.87,583.37 281.56,583.37 285.24,582.96 288.93,582.55 292.62,582.27 296.31,582.55 300,582.96 303.69,583.24 307.37,582.55 311.06,581.99 314.75,581.03 318.44,580.62 322.13,579.24 325.81,576.76 329.5,575.51 333.19,574.69 336.88,571.24 340.57,563.94 344.25,560.76 347.94,554.42 351.63,546.43 355.32,527.68 359.01,511.96 362.69,492.52 366.38,495.14 370.07,492.52 373.76,496.8 377.45,511.96 381.13,531.12 384.82,535.12 388.51,543.95 392.2,553.46 395.89,559.11 399.57,562.28 403.26,567.93 406.95,572.62 410.64,573.17 414.33,574.55 418.01,577.72 421.7,578.41 425.39,578.82 429.08,579.24 432.77,579.51 436.46,580.06 440.14,580.34 443.83,580.75 447.52,581.31 451.21,581.86 454.9,581.86" fill="none" stroke="#fa8a1c" stroke-width="1.1" stroke-dasharray="2.7,1.4" stroke-linejoin="round"/>
<polyline clip-path="url(#c13)" points="266.8,583.24 270.49,583.24 274.18,583.24 277.87,583.24 281.56,583.24 285.24,583.24 288.93,583.24 292.62,583.24 296.31,583.24 300,583.24 303.69,583.24 307.37,582.68 311.06,581.99 314.75,581.72 318.44,583.24 322.13,581.72 325.81,579.65 329.5,578.96 333.19,574.96 336.88,562.69 340.57,540.36 344.25,559.11 347.94,533.06 351.63,533.61 355.32,534.57 359.01,537.33 362.69,529.06 366.38,524.51 370.07,524.51 373.76,524.51 377.45,524.51 381.13,524.51 384.82,525.34 388.51,555.11 392.2,559.11 395.89,559.66 399.57,564.35 403.26,568.9 406.95,573.45 410.64,577.45 414.33,578.13 418.01,578.69 421.7,579.65 425.39,580.2 429.08,581.72 432.77,581.72 436.46,581.17 440.14,581.17 443.83,581.99 447.52,582.41 451.21,582.68 454.9,583.24" fill="none" stroke="#55b355" stroke-width="0.95" stroke-linejoin="round"/>
<rect x="257.4" y="487.6" width="206.9" height="100.6" fill="none" stroke="#b3b3b3" stroke-width="0.9"/>
<line x1="256.1" y1="584.2" x2="257.4" y2="584.2" stroke="#b3b3b3" stroke-width="0.6"/>
<text transform="matrix(0.89,0,0,1,255.8,586.65)" text-anchor="end" font-size="6.7">0</text>
<line x1="256.1" y1="570.41" x2="257.4" y2="570.41" stroke="#b3b3b3" stroke-width="0.6"/>
<text transform="matrix(0.89,0,0,1,255.8,572.86)" text-anchor="end" font-size="6.7">10</text>
<line x1="256.1" y1="556.63" x2="257.4" y2="556.63" stroke="#b3b3b3" stroke-width="0.6"/>
<text transform="matrix(0.89,0,0,1,255.8,559.08)" text-anchor="end" font-size="6.7">20</text>
<line x1="256.1" y1="542.84" x2="257.4" y2="542.84" stroke="#b3b3b3" stroke-width="0.6"/>
<text transform="matrix(0.89,0,0,1,255.8,545.29)" text-anchor="end" font-size="6.7">30</text>
<line x1="256.1" y1="529.06" x2="257.4" y2="529.06" stroke="#b3b3b3" stroke-width="0.6"/>
<text transform="matrix(0.89,0,0,1,255.8,531.51)" text-anchor="end" font-size="6.7">40</text>
<line x1="256.1" y1="515.27" x2="257.4" y2="515.27" stroke="#b3b3b3" stroke-width="0.6"/>
<text transform="matrix(0.89,0,0,1,255.8,517.72)" text-anchor="end" font-size="6.7">50</text>
<line x1="256.1" y1="501.49" x2="257.4" y2="501.49" stroke="#b3b3b3" stroke-width="0.6"/>
<text transform="matrix(0.89,0,0,1,255.8,503.94)" text-anchor="end" font-size="6.7">60</text>
<line x1="256.1" y1="487.7" x2="257.4" y2="487.7" stroke="#b3b3b3" stroke-width="0.6"/>
<text transform="matrix(0.89,0,0,1,255.8,490.15)" text-anchor="end" font-size="6.7">70</text>
<line x1="266.8" y1="588.2" x2="266.8" y2="589.5" stroke="#b3b3b3" stroke-width="0.6"/>
<text transform="matrix(0.89,0,0,1,266.8,595.25)" text-anchor="middle" font-size="6.7">1</text>
<line x1="303.69" y1="588.2" x2="303.69" y2="589.5" stroke="#b3b3b3" stroke-width="0.6"/>
<text transform="matrix(0.89,0,0,1,303.69,595.25)" text-anchor="middle" font-size="6.7">10</text>
<line x1="340.57" y1="588.2" x2="340.57" y2="589.5" stroke="#b3b3b3" stroke-width="0.6"/>
<text transform="matrix(0.89,0,0,1,340.57,595.25)" text-anchor="middle" font-size="6.7">20</text>
<line x1="377.45" y1="588.2" x2="377.45" y2="589.5" stroke="#b3b3b3" stroke-width="0.6"/>
<text transform="matrix(0.89,0,0,1,377.45,595.25)" text-anchor="middle" font-size="6.7">30</text>
<line x1="414.33" y1="588.2" x2="414.33" y2="589.5" stroke="#b3b3b3" stroke-width="0.6"/>
<text transform="matrix(0.89,0,0,1,414.33,595.25)" text-anchor="middle" font-size="6.7">40</text>
<line x1="454.9" y1="588.2" x2="454.9" y2="589.5" stroke="#b3b3b3" stroke-width="0.6"/>
<text transform="matrix(0.89,0,0,1,454.9,595.25)" text-anchor="middle" font-size="6.7">52</text>
<text transform="matrix(0.84,0,0,1,360.85,601)" text-anchor="middle" font-size="6.2">2019</text>
<rect x="433.3" y="489.7" width="28" height="18.0" rx="1" fill="#fff" fill-opacity="0.85" stroke="#e2e2e2" stroke-width="0.6"/>
<line x1="434.9" y1="494.6" x2="445.8" y2="494.6" stroke="#fa8a1c" stroke-width="1" stroke-dasharray="2.7,1.4"/>
<text transform="matrix(0.86,0,0,1,449,496.5)" font-size="6.0">True</text>
<line x1="434.9" y1="502.5" x2="445.8" y2="502.5" stroke="#55b355" stroke-width="1"/>
<text transform="matrix(0.86,0,0,1,449,504.4)" font-size="6.0">Test</text>
<clipPath id="c14"><rect x="475.9" y="485.4" width="206.6" height="102.8"/></clipPath>
<polyline clip-path="url(#c14)" points="485.29,581.77 488.97,581.74 492.66,581.43 496.34,582.05 500.02,581.39 503.7,580.45 507.39,582.12 511.07,582.4 514.75,582.54 518.44,581.81 522.12,583.06 525.8,581.39 529.48,582.05 533.17,581.39 536.85,581.11 540.53,581.74 544.21,582.47 547.9,581.81 551.58,581.43 555.26,580.45 558.95,582.26 562.63,580.8 566.31,581.74 569.99,578.89 573.68,579.34 577.36,580.35 581.04,580.7 584.72,581.04 588.41,580.45 592.09,579.34 595.77,579.9 599.45,578.41 603.14,577.3 606.82,580.25 610.5,580.04 614.19,580.35 617.87,580.66 621.55,576.61 625.23,580.59 628.92,581.6 632.6,582.4 636.28,582.74 639.96,581.11 643.65,582.12 647.33,583.09 651.01,583.12 654.7,582.74 658.38,582.12 662.06,581.49 665.74,579.69 669.43,579.69 673.11,580.77" fill="none" stroke="#fa8a1c" stroke-width="1.1" stroke-dasharray="2.7,1.4" stroke-linejoin="round"/>
<polyline clip-path="url(#c14)" points="485.29,581.08 488.97,581.08 492.66,581.08 496.34,581.08 500.02,581.08 503.7,580.73 507.39,581.43 511.07,581.43 514.75,581.43 518.44,581.43 522.12,579.69 525.8,580.73 529.48,581.77 533.17,582.12 536.85,582.12 540.53,577.61 544.21,575.88 547.9,570.33 551.58,572.76 555.26,567.21 558.95,561.31 562.63,563.39 566.31,564.43 569.99,562.7 573.68,493.69 577.36,489.87 581.04,535.3 584.72,555.07 588.41,548.83 592.09,555.07 595.77,564.43 599.45,559.23 603.14,566.51 606.82,568.94 610.5,568.94 614.19,569.63 617.87,570.67 621.55,568.94 625.23,569.63 628.92,571.02 632.6,572.06 636.28,574.49 639.96,576.57 643.65,575.88 647.33,577.96 651.01,578.3 654.7,578.65 658.38,577.96 662.06,577.96 665.74,577.96 669.43,579.69 673.11,581.08" fill="none" stroke="#55b355" stroke-width="0.95" stroke-linejoin="round"/>
<rect x="475.9" y="485.4" width="206.6" height="102.8" fill="none" stroke="#b3b3b3" stroke-width="0.9"/>
<line x1="474.6" y1="584.2" x2="475.9" y2="584.2" stroke="#b3b3b3" stroke-width="0.6"/>
<text transform="matrix(0.89,0,0,1,474.3,586.65)" text-anchor="end" font-size="6.7">0</text>
<line x1="474.6" y1="566.86" x2="475.9" y2="566.86" stroke="#b3b3b3" stroke-width="0.6"/>
<text transform="matrix(0.89,0,0,1,474.3,569.31)" text-anchor="end" font-size="6.7">5</text>
<line x1="474.6" y1="549.52" x2="475.9" y2="549.52" stroke="#b3b3b3" stroke-width="0.6"/>
<text transform="matrix(0.89,0,0,1,474.3,551.97)" text-anchor="end" font-size="6.7">10</text>
<line x1="474.6" y1="532.18" x2="475.9" y2="532.18" stroke="#b3b3b3" stroke-width="0.6"/>
<text transform="matrix(0.89,0,0,1,474.3,534.63)" text-anchor="end" font-size="6.7">15</text>
<line x1="474.6" y1="514.84" x2="475.9" y2="514.84" stroke="#b3b3b3" stroke-width="0.6"/>
<text transform="matrix(0.89,0,0,1,474.3,517.29)" text-anchor="end" font-size="6.7">20</text>
<line x1="474.6" y1="497.5" x2="475.9" y2="497.5" stroke="#b3b3b3" stroke-width="0.6"/>
<text transform="matrix(0.89,0,0,1,474.3,499.95)" text-anchor="end" font-size="6.7">25</text>
<line x1="485.29" y1="588.2" x2="485.29" y2="589.5" stroke="#b3b3b3" stroke-width="0.6"/>
<text transform="matrix(0.89,0,0,1,485.29,595.25)" text-anchor="middle" font-size="6.7">1</text>
<line x1="522.12" y1="588.2" x2="522.12" y2="589.5" stroke="#b3b3b3" stroke-width="0.6"/>
<text transform="matrix(0.89,0,0,1,522.12,595.25)" text-anchor="middle" font-size="6.7">10</text>
<line x1="558.95" y1="588.2" x2="558.95" y2="589.5" stroke="#b3b3b3" stroke-width="0.6"/>
<text transform="matrix(0.89,0,0,1,558.95,595.25)" text-anchor="middle" font-size="6.7">20</text>
<line x1="595.77" y1="588.2" x2="595.77" y2="589.5" stroke="#b3b3b3" stroke-width="0.6"/>
<text transform="matrix(0.89,0,0,1,595.77,595.25)" text-anchor="middle" font-size="6.7">30</text>
<line x1="632.6" y1="588.2" x2="632.6" y2="589.5" stroke="#b3b3b3" stroke-width="0.6"/>
<text transform="matrix(0.89,0,0,1,632.6,595.25)" text-anchor="middle" font-size="6.7">40</text>
<line x1="673.11" y1="588.2" x2="673.11" y2="589.5" stroke="#b3b3b3" stroke-width="0.6"/>
<text transform="matrix(0.89,0,0,1,673.11,595.25)" text-anchor="middle" font-size="6.7">52</text>
<text transform="matrix(0.84,0,0,1,579.2,601)" text-anchor="middle" font-size="6.2">2020</text>
<rect x="652.1" y="487.5" width="28" height="18.0" rx="1" fill="#fff" fill-opacity="0.85" stroke="#e2e2e2" stroke-width="0.6"/>
<line x1="653.7" y1="492.4" x2="664.6" y2="492.4" stroke="#fa8a1c" stroke-width="1" stroke-dasharray="2.7,1.4"/>
<text transform="matrix(0.86,0,0,1,667.8,494.3)" font-size="6.0">True</text>
<line x1="653.7" y1="500.3" x2="664.6" y2="500.3" stroke="#55b355" stroke-width="1"/>
<text transform="matrix(0.86,0,0,1,667.8,502.2)" font-size="6.0">Test</text>
<clipPath id="c15"><rect x="38.5" y="612.3" width="207.1" height="97"/></clipPath>
<polyline clip-path="url(#c15)" points="47.79,703.59 48.25,703.35 48.71,703.16 49.17,703.02 49.62,702.83 50.08,702.71 50.54,702.56 51,702.42 51.46,702.37 51.91,702.19 52.37,701.86 52.83,700.91 53.29,699.23 53.75,696.74 54.2,692.55 54.66,690.26 55.12,683.07 55.58,676.73 56.04,673.84 56.5,666.97 56.95,661.23 57.41,657.63 57.87,655.35 58.33,655.35 58.79,661.27 59.24,669 59.7,678.32 60.16,686.28 60.62,690.25 61.08,694.32 61.53,697.52 61.99,698.66 62.45,699.81 62.91,700.9 63.37,701.93 63.82,702.27 64.28,702.46 64.74,702.8 65.2,703.1 65.66,703.44 66.12,703.69 66.57,703.77 67.03,703.85 67.49,703.89 67.95,703.92 68.41,703.97 68.86,704.02 69.32,704.08 69.78,704.12 70.24,704.18 70.7,704.24 71.15,704.24 71.61,704.22 72.07,704.2 72.53,704.2 72.99,704.18 73.44,704.17 73.9,704.15 74.36,704.12 74.82,704.12 75.28,704.11 75.74,703.96 76.19,703.03 76.65,702.12 77.11,701.27 77.57,700.35 78.03,699.43 78.48,697.1 78.94,693.17 79.4,689.24 79.86,686.28 80.32,683.04 80.77,680.12 81.23,676.95 81.69,683 82.15,682.2 82.61,681.27 83.06,685.95 83.52,689.67 83.98,693.46 84.44,694.99 84.9,696.28 85.35,697.31 85.81,698.72 86.27,699.1 86.73,699.23 87.19,699.61 87.65,699.91 88.1,700.23 88.56,700.31 89.02,700.27 89.48,700.57 89.94,700.45 90.39,700.51 90.85,700.62 91.31,700.89 91.77,701.12 92.23,701.41 92.68,701.64 93.14,701.9 93.6,702.18 94.06,702.3 94.52,702.58 94.97,702.72 95.43,702.67 95.89,702.66 96.35,702.66 96.81,702.64 97.27,702.6 97.72,702.58 98.18,702.56 98.64,702.56 99.1,702.6 99.56,702.3 100.01,700.09 100.47,697.71 100.93,695.29 101.39,693.03 101.85,690.73 102.3,686.9 102.76,683.67 103.22,678.68 103.68,676.46 104.14,675.07 104.59,671.08 105.05,675.36 105.51,681.62 105.97,687.86 106.43,692.88 106.89,693.31 107.34,694.29 107.8,693.89 108.26,693.18 108.72,691.67 109.18,689.67 109.63,686.46 110.09,688.11 110.55,690.85 111.01,693.42 111.47,694.55 111.92,695.28 112.38,695.54 112.84,695.99 113.3,697.67 113.76,699.27 114.21,700.66 114.67,701.13 115.13,701.37 115.59,701.47 116.05,701.62 116.51,701.93 116.96,702.11 117.42,702.29 117.88,702.42 118.34,702.7 118.8,702.85 119.25,703.06 119.71,703.28 120.17,703.51 120.63,703.67 121.09,703.02 121.54,702.2 122,701.41 122.46,700.48 122.92,699.7 123.38,698.8 123.83,697.85 124.29,693.03 124.75,688.9 125.21,684.07 125.67,678.68 126.13,671.64 126.58,665.77 127.04,657.26 127.5,649.3 127.96,646.31 128.42,644.89 128.87,642.91 129.33,647.06 129.79,653.13 130.25,655.85 130.71,659.67 131.16,668.9 131.62,673.5 132.08,682.18 132.54,686.46 133,689.16 133.45,691.41 133.91,693.93 134.37,696.06 134.83,696.73 135.29,697.36 135.75,698.02 136.2,698.45 136.66,699.15 137.12,699.83 137.58,700.35 138.04,700.57 138.49,701.01 138.95,701.32 139.41,701.71 139.87,701.98 140.33,702.35 140.78,702.61 141.24,702.62 141.7,702.64 142.16,702.6 142.62,702.66 143.07,702.74 143.53,702.79 143.99,702.77 144.45,702.79 144.91,702.82 145.36,702.58 145.82,702.1 146.28,701.71 146.74,701.34 147.2,700.82 147.66,700.58 148.11,700.05 148.57,697.55 149.03,694.81 149.49,691.55 149.95,690.08 150.4,687.05 150.86,685.17 151.32,682.65 151.78,683.83 152.24,685.59 152.69,687.18 153.15,690.08 153.61,689.77 154.07,689.05 154.53,689.05 154.98,690.16 155.44,690.62 155.9,692.47 156.36,694.08 156.82,695.62 157.28,696.02 157.73,696.63 158.19,697.19 158.65,697.96 159.11,698.41 159.57,698.92 160.02,699.62 160.48,699.71 160.94,699.94 161.4,700.12 161.86,700.21 162.31,700.18 162.77,700.41 163.23,700.46 163.69,700.72 164.15,700.9 164.6,700.93 165.06,701.12 165.52,701.47 165.98,701.54 166.44,701.83 166.9,702.01 167.35,702.09 167.81,702.4 168.27,702.56 168.73,702.67 169.19,702.87 169.64,702.87 170.1,702.83 170.56,702.79 171.02,702.7 171.48,702.69 171.93,698.68 172.39,695.07 172.85,690.8 173.31,683.03 173.77,678.16 174.22,661.92 174.68,653.18 175.14,644.12 175.6,626.32 176.06,624.35 176.52,616.13 176.97,627.7 177.43,635.55 177.89,648.27 178.35,656.89 178.81,661.92 179.26,671.42 179.72,677.44 180.18,683.69 180.64,689.99 181.1,692.87 181.55,693.84 182.01,694.6 182.47,695.17 182.93,696.17 183.39,696.86 183.84,697.65 184.3,698.57 184.76,699.23 185.22,700.06 185.68,700.83 186.14,701.51 186.59,701.86 187.05,702.16 187.51,702.63 187.97,703.01 188.43,703.38 188.88,703.36 189.34,703.4 189.8,703.4 190.26,703.4 190.72,703.4 191.17,703.43 191.63,703.5 192.09,703.61 192.55,703.69 193.01,703.71 193.46,703.57 193.92,703.44 194.38,703.33 194.84,703.22 195.3,703.07 195.75,700.83 196.21,698.39 196.67,696.3 197.13,694.68 197.59,692.76 198.05,691.45 198.5,690.08 198.96,683.95 199.42,678.4 199.88,674.53 200.34,668.53 200.79,663.3 201.25,660.76 201.71,655.87 202.17,661.03 202.63,664.02 203.08,667.62 203.54,671.78 204,676.25 204.46,678.68 204.92,682.7 205.37,685.54 205.83,689.48 206.29,692.3 206.75,696 207.21,696.53 207.67,697.83 208.12,698.62 208.58,699.34 209.04,700.3 209.5,701.21 209.96,701.58 210.41,701.79 210.87,701.99 211.33,702.25 211.79,702.41 212.25,702.63 212.7,702.75 213.16,702.95 213.62,703.18 214.08,703.38 214.54,703.51 214.99,703.54 215.45,703.56 215.91,703.56 216.37,703.54 216.83,703.57 217.29,703.57 217.74,703.57 218.2,703.53 218.66,702.62 219.12,701.59 219.58,700.68 220.03,699.51 220.49,698.32 220.95,696.83 221.41,695.06 221.87,691.93 222.32,688.66 222.78,685.76 223.24,680.85 223.7,676.55 224.16,670.04 224.61,666.57 225.07,659.62 225.53,650 225.99,653.23 226.45,657.25 226.91,663.04 227.36,669.14 227.82,674.53 228.28,680.58 228.74,684.74 229.2,688.7 229.65,690.85 230.11,692.39 230.57,693.99 231.03,695.51 231.49,696.22 231.94,697.19 232.4,697.7 232.86,698.59 233.32,699.23 233.78,699.57 234.23,699.9 234.69,700.53 235.15,700.82 235.61,701.24 236.07,701.78 236.53,702.15" fill="none" stroke="#fa8a1c" stroke-width="0.95" stroke-dasharray="2.7,1.4" stroke-linejoin="round"/>
<polyline clip-path="url(#c15)" points="47.79,703.74 48.25,703.37 48.71,703.26 49.17,703.08 49.62,702.93 50.08,702.52 50.54,702.85 51,702.25 51.46,702.97 51.91,702.43 52.37,702.07 52.83,701.39 53.29,698.88 53.75,697.06 54.2,691.97 54.66,689.26 55.12,683.75 55.58,675.44 56.04,672.76 56.5,666.17 56.95,662.58 57.41,655.13 57.87,649.86 58.33,652 58.79,660.58 59.24,669.3 59.7,679.03 60.16,685.56 60.62,690.58 61.08,694.46 61.53,697.29 61.99,697.98 62.45,700.1 62.91,701.51 63.37,701.33 63.82,701.86 64.28,702.11 64.74,702.77 65.2,703.4 65.66,703.83 66.12,703.91 66.57,703.81 67.03,704.33 67.49,703.67 67.95,703.68 68.41,704.5 68.86,703.65 69.32,704.09 69.78,703.67 70.24,704.2 70.7,703.92 71.15,704.29 71.61,704.1 72.07,704.2 72.53,704.71 72.99,704.56 73.44,704.46 73.9,704.25 74.36,704.26 74.82,704.07 75.28,703.93 75.74,704.07 76.19,703.24 76.65,702.11 77.11,700.68 77.57,699.96 78.03,699.2 78.48,696.58 78.94,693.7 79.4,690.13 79.86,687.13 80.32,683.28 80.77,679.56 81.23,673.6 81.69,680.27 82.15,682.74 82.61,680.61 83.06,684.83 83.52,689.08 83.98,694.13 84.44,694.74 84.9,696.7 85.35,697.83 85.81,699.46 86.27,699.06 86.73,698.61 87.19,700.18 87.65,700.41 88.1,700.38 88.56,700.94 89.02,700.32 89.48,700.26 89.94,700.5 90.39,701.13 90.85,701.26 91.31,701.3 91.77,700.9 92.23,700.86 92.68,701.63 93.14,702.39 93.6,702.53 94.06,702.4 94.52,703.05 94.97,703.18 95.43,702.75 95.89,702.25 96.35,702.97 96.81,702.19 97.27,702.15 97.72,702.66 98.18,702.89 98.64,702.94 99.1,702.4 99.56,701.9 100.01,699.59 100.47,698.17 100.93,695.42 101.39,693.96 101.85,691.15 102.3,687.41 102.76,684.69 103.22,679.99 103.68,674.81 104.14,675.64 104.59,670.91 105.05,675.11 105.51,681.65 105.97,687.64 106.43,692.87 106.89,693.33 107.34,695.07 107.8,693.63 108.26,692.85 108.72,691.21 109.18,690.61 109.63,692.76 110.09,690.22 110.55,690.41 111.01,694.29 111.47,694.85 111.92,695.86 112.38,695.17 112.84,696.16 113.3,697.85 113.76,699.68 114.21,700.72 114.67,700.84 115.13,701.2 115.59,701.83 116.05,701.75 116.51,701.78 116.96,702.66 117.42,701.8 117.88,703 118.34,702.55 118.8,703.26 119.25,702.53 119.71,703.06 120.17,703.82 120.63,703.67 121.09,702.62 121.54,701.77 122,701.2 122.46,700.29 122.92,699.36 123.38,698.18 123.83,697.83 124.29,692.81 124.75,688.22 125.21,684.05 125.67,679.56 126.13,671.35 126.58,666.39 127.04,656.22 127.5,648.44 127.96,645.71 128.42,649.5 128.87,649.23 129.33,645.99 129.79,651.94 130.25,653.39 130.71,658.22 131.16,667.13 131.62,674.71 132.08,683.07 132.54,686.18 133,688.57 133.45,692.21 133.91,693.08 134.37,696.52 134.83,697.23 135.29,697.46 135.75,698.52 136.2,699.08 136.66,699.77 137.12,700.49 137.58,700.84 138.04,700.33 138.49,700.64 138.95,700.97 139.41,701.82 139.87,701.67 140.33,702.81 140.78,702.17 141.24,702.73 141.7,703.09 142.16,702.74 142.62,703.02 143.07,702.45 143.53,702.94 143.99,703.35 144.45,703.16 144.91,703.31 145.36,702.04 145.82,702.21 146.28,701.35 146.74,701.22 147.2,700.94 147.66,700.27 148.11,699.97 148.57,698.28 149.03,693.92 149.49,691.86 149.95,689.71 150.4,686.97 150.86,683.01 151.32,681.94 151.78,683.67 152.24,686.17 152.69,687.27 153.15,689.3 153.61,689.89 154.07,688.07 154.53,689.86 154.98,689.14 155.44,691.34 155.9,691.69 156.36,694.65 156.82,695.47 157.28,695.83 157.73,695.85 158.19,697.33 158.65,697.42 159.11,699.1 159.57,698.33 160.02,699.59 160.48,699.65 160.94,699.28 161.4,700.38 161.86,700.05 162.31,700.06 162.77,700.68 163.23,700.95 163.69,700.81 164.15,701.19 164.6,700.78 165.06,701.24 165.52,702.01 165.98,701.29 166.44,701.3 166.9,701.87 167.35,702.34 167.81,702.64 168.27,702.01 168.73,702.73 169.19,702.61 169.64,703.37 170.1,702.46 170.56,702.33 171.02,702.99 171.48,702.92 171.93,698.45 172.39,694.26 172.85,690.19 173.31,684.35 173.77,679.38 174.22,660.19 174.68,653.68 175.14,641.46 175.6,631.09 176.06,627.74 176.52,630.29 176.97,628.07 177.43,636 177.89,651.02 178.35,658.36 178.81,663.78 179.26,671.72 179.72,675.97 180.18,682.42 180.64,689.05 181.1,693.05 181.55,693.32 182.01,694.16 182.47,694.57 182.93,695.37 183.39,696.31 183.84,697.22 184.3,698.84 184.76,699.71 185.22,700.17 185.68,701.11 186.14,701.18 186.59,702.29 187.05,702.52 187.51,702.36 187.97,703.55 188.43,703.85 188.88,703.93 189.34,703.94 189.8,703.86 190.26,703.13 190.72,703.67 191.17,703.88 191.63,703.51 192.09,703.77 192.55,704.24 193.01,704.19 193.46,703.85 193.92,703.53 194.38,703.77 194.84,703.31 195.3,703.09 195.75,700.26 196.21,698.22 196.67,696.63 197.13,695.19 197.59,693.39 198.05,691.69 198.5,689.09 198.96,682.69 199.42,679.51 199.88,674.03 200.34,667.51 200.79,663.41 201.25,663.24 201.71,662.83 202.17,666.15 202.63,666.49 203.08,665.99 203.54,670.27 204,674.98 204.46,679.19 204.92,681.91 205.37,684.8 205.83,689.72 206.29,692.63 206.75,696.07 207.21,696.47 207.67,698.59 208.12,699.34 208.58,698.61 209.04,700.43 209.5,701.33 209.96,701.46 210.41,701.75 210.87,701.74 211.33,702.21 211.79,702.99 212.25,703.17 212.7,703.03 213.16,703.11 213.62,702.62 214.08,703.38 214.54,703.92 214.99,703.17 215.45,703.77 215.91,703.65 216.37,703.39 216.83,703.32 217.29,703.86 217.74,703.67 218.2,704.08 218.66,702.1 219.12,701.11 219.58,700.25 220.03,699.94 220.49,698.12 220.95,696.95 221.41,695.69 221.87,692.52 222.32,687.8 222.78,685.49 223.24,680.57 223.7,677.74 224.16,669.66 224.61,664.69 225.07,660.21 225.53,650.08 225.99,649.96 226.45,657.96 226.91,663.14 227.36,667.51 227.82,673.72 228.28,681.13 228.74,685.18 229.2,689.29 229.65,691.83 230.11,692.34 230.57,694.65 231.03,695.94 231.49,695.66 231.94,697.81 232.4,698.36 232.86,699.27 233.32,699.03 233.78,699.94 234.23,700.23 234.69,700.5 235.15,700.51 235.61,700.62 236.07,702.33 236.53,702.34" fill="none" stroke="#3ec3f2" stroke-width="0.95" stroke-linejoin="round"/>
<rect x="38.5" y="612.3" width="207.1" height="97" fill="none" stroke="#b3b3b3" stroke-width="0.9"/>
<line x1="37.2" y1="704.6" x2="38.5" y2="704.6" stroke="#b3b3b3" stroke-width="0.6"/>
<text transform="matrix(0.89,0,0,1,36.9,707.05)" text-anchor="end" font-size="6.7">0</text>
<line x1="37.2" y1="687.32" x2="38.5" y2="687.32" stroke="#b3b3b3" stroke-width="0.6"/>
<text transform="matrix(0.89,0,0,1,36.9,689.77)" text-anchor="end" font-size="6.7">10</text>
<line x1="37.2" y1="670.04" x2="38.5" y2="670.04" stroke="#b3b3b3" stroke-width="0.6"/>
<text transform="matrix(0.89,0,0,1,36.9,672.49)" text-anchor="end" font-size="6.7">20</text>
<line x1="37.2" y1="652.76" x2="38.5" y2="652.76" stroke="#b3b3b3" stroke-width="0.6"/>
<text transform="matrix(0.89,0,0,1,36.9,655.21)" text-anchor="end" font-size="6.7">30</text>
<line x1="37.2" y1="635.48" x2="38.5" y2="635.48" stroke="#b3b3b3" stroke-width="0.6"/>
<text transform="matrix(0.89,0,0,1,36.9,637.93)" text-anchor="end" font-size="6.7">40</text>
<line x1="37.2" y1="618.2" x2="38.5" y2="618.2" stroke="#b3b3b3" stroke-width="0.6"/>
<text transform="matrix(0.89,0,0,1,36.9,620.65)" text-anchor="end" font-size="6.7">50</text>
<line x1="46.6" y1="709.3" x2="46.6" y2="710.6" stroke="#b3b3b3" stroke-width="0.6"/>
<text transform="matrix(0.89,0,0,1,46.6,716.05)" text-anchor="middle" font-size="6.7">2011</text>
<line x1="70.43" y1="709.3" x2="70.43" y2="710.6" stroke="#b3b3b3" stroke-width="0.6"/>
<text transform="matrix(0.89,0,0,1,70.43,716.05)" text-anchor="middle" font-size="6.7">2012</text>
<line x1="94.26" y1="709.3" x2="94.26" y2="710.6" stroke="#b3b3b3" stroke-width="0.6"/>
<text transform="matrix(0.89,0,0,1,94.26,716.05)" text-anchor="middle" font-size="6.7">2013</text>
<line x1="118.09" y1="709.3" x2="118.09" y2="710.6" stroke="#b3b3b3" stroke-width="0.6"/>
<text transform="matrix(0.89,0,0,1,118.09,716.05)" text-anchor="middle" font-size="6.7">2014</text>
<line x1="141.92" y1="709.3" x2="141.92" y2="710.6" stroke="#b3b3b3" stroke-width="0.6"/>
<text transform="matrix(0.89,0,0,1,141.92,716.05)" text-anchor="middle" font-size="6.7">2015</text>
<line x1="165.75" y1="709.3" x2="165.75" y2="710.6" stroke="#b3b3b3" stroke-width="0.6"/>
<text transform="matrix(0.89,0,0,1,165.75,716.05)" text-anchor="middle" font-size="6.7">2016</text>
<line x1="189.58" y1="709.3" x2="189.58" y2="710.6" stroke="#b3b3b3" stroke-width="0.6"/>
<text transform="matrix(0.89,0,0,1,189.58,716.05)" text-anchor="middle" font-size="6.7">2017</text>
<line x1="213.41" y1="709.3" x2="213.41" y2="710.6" stroke="#b3b3b3" stroke-width="0.6"/>
<text transform="matrix(0.89,0,0,1,213.41,716.05)" text-anchor="middle" font-size="6.7">2018</text>
<text transform="matrix(0.84,0,0,1,142.05,721.9)" text-anchor="middle" font-size="6.2">Week</text>
<text transform="matrix(0.9,0,0,1,142.05,611)" text-anchor="middle" font-size="7.5">2011-2018</text>
<rect x="213.6" y="614.6" width="29.5" height="18.0" rx="1" fill="#fff" fill-opacity="0.85" stroke="#e2e2e2" stroke-width="0.6"/>
<line x1="215.2" y1="619.5" x2="226.1" y2="619.5" stroke="#fa8a1c" stroke-width="1" stroke-dasharray="2.7,1.4"/>
<text transform="matrix(0.86,0,0,1,229.3,621.4)" font-size="6.0">True</text>
<line x1="215.2" y1="627.4" x2="226.1" y2="627.4" stroke="#3ec3f2" stroke-width="1"/>
<text transform="matrix(0.86,0,0,1,229.3,629.3)" font-size="6.0">Train</text>
<clipPath id="c16"><rect x="257.4" y="612.5" width="206.9" height="97"/></clipPath>
<polyline clip-path="url(#c16)" points="266.8,703.34 270.49,703.6 274.18,704 277.87,704.4 281.56,704.4 285.24,704 288.93,703.6 292.62,703.34 296.31,703.6 300,704 303.69,704.27 307.37,703.6 311.06,703.07 314.75,702.14 318.44,701.74 322.13,700.41 325.81,698.02 329.5,696.82 333.19,696.02 336.88,692.7 340.57,685.65 344.25,682.59 347.94,676.47 351.63,668.76 355.32,650.67 359.01,635.51 362.69,616.75 366.38,619.28 370.07,616.75 373.76,620.88 377.45,635.51 381.13,654 384.82,657.85 388.51,666.36 392.2,675.54 395.89,680.99 399.57,684.05 403.26,689.51 406.95,694.03 410.64,694.56 414.33,695.89 418.01,698.95 421.7,699.61 425.39,700.01 429.08,700.41 432.77,700.68 436.46,701.21 440.14,701.48 443.83,701.88 447.52,702.41 451.21,702.94 454.9,702.94" fill="none" stroke="#fa8a1c" stroke-width="1.1" stroke-dasharray="2.7,1.4" stroke-linejoin="round"/>
<polyline clip-path="url(#c16)" points="266.8,704 270.49,704.93 274.18,704 277.87,703.34 281.56,704.27 285.24,704 288.93,704 292.62,704 296.31,704 300,704 303.69,704 307.37,704 311.06,703.6 314.75,702.41 318.44,701.48 322.13,700.55 325.81,700.01 329.5,698.42 333.19,696.29 336.88,689.24 340.57,692.3 344.25,690.84 347.94,671.82 351.63,681.66 355.32,673.95 359.01,655.59 362.69,643.36 366.38,643.36 370.07,645.48 373.76,644.82 377.45,646.95 381.13,645.75 384.82,649.47 388.51,677.67 392.2,673.01 395.89,680.99 399.57,685.25 403.26,693.23 406.95,693.9 410.64,696.29 414.33,697.49 418.01,698.42 421.7,697.88 425.39,700.94 429.08,701.88 432.77,702.41 436.46,701.48 440.14,700.94 443.83,703.07 447.52,703.34 451.21,703.6 454.9,704.27" fill="none" stroke="#55b355" stroke-width="0.95" stroke-linejoin="round"/>
<rect x="257.4" y="612.5" width="206.9" height="97" fill="none" stroke="#b3b3b3" stroke-width="0.9"/>
<line x1="256.1" y1="705.2" x2="257.4" y2="705.2" stroke="#b3b3b3" stroke-width="0.6"/>
<text transform="matrix(0.89,0,0,1,255.8,707.65)" text-anchor="end" font-size="6.7">0</text>
<line x1="256.1" y1="691.9" x2="257.4" y2="691.9" stroke="#b3b3b3" stroke-width="0.6"/>
<text transform="matrix(0.89,0,0,1,255.8,694.35)" text-anchor="end" font-size="6.7">10</text>
<line x1="256.1" y1="678.6" x2="257.4" y2="678.6" stroke="#b3b3b3" stroke-width="0.6"/>
<text transform="matrix(0.89,0,0,1,255.8,681.05)" text-anchor="end" font-size="6.7">20</text>
<line x1="256.1" y1="665.3" x2="257.4" y2="665.3" stroke="#b3b3b3" stroke-width="0.6"/>
<text transform="matrix(0.89,0,0,1,255.8,667.75)" text-anchor="end" font-size="6.7">30</text>
<line x1="256.1" y1="652" x2="257.4" y2="652" stroke="#b3b3b3" stroke-width="0.6"/>
<text transform="matrix(0.89,0,0,1,255.8,654.45)" text-anchor="end" font-size="6.7">40</text>
<line x1="256.1" y1="638.7" x2="257.4" y2="638.7" stroke="#b3b3b3" stroke-width="0.6"/>
<text transform="matrix(0.89,0,0,1,255.8,641.15)" text-anchor="end" font-size="6.7">50</text>
<line x1="256.1" y1="625.4" x2="257.4" y2="625.4" stroke="#b3b3b3" stroke-width="0.6"/>
<text transform="matrix(0.89,0,0,1,255.8,627.85)" text-anchor="end" font-size="6.7">60</text>
<line x1="256.1" y1="612.1" x2="257.4" y2="612.1" stroke="#b3b3b3" stroke-width="0.6"/>
<text transform="matrix(0.89,0,0,1,255.8,614.55)" text-anchor="end" font-size="6.7">70</text>
<line x1="266.8" y1="709.5" x2="266.8" y2="710.8" stroke="#b3b3b3" stroke-width="0.6"/>
<text transform="matrix(0.89,0,0,1,266.8,716.25)" text-anchor="middle" font-size="6.7">1</text>
<line x1="303.69" y1="709.5" x2="303.69" y2="710.8" stroke="#b3b3b3" stroke-width="0.6"/>
<text transform="matrix(0.89,0,0,1,303.69,716.25)" text-anchor="middle" font-size="6.7">10</text>
<line x1="340.57" y1="709.5" x2="340.57" y2="710.8" stroke="#b3b3b3" stroke-width="0.6"/>
<text transform="matrix(0.89,0,0,1,340.57,716.25)" text-anchor="middle" font-size="6.7">20</text>
<line x1="377.45" y1="709.5" x2="377.45" y2="710.8" stroke="#b3b3b3" stroke-width="0.6"/>
<text transform="matrix(0.89,0,0,1,377.45,716.25)" text-anchor="middle" font-size="6.7">30</text>
<line x1="414.33" y1="709.5" x2="414.33" y2="710.8" stroke="#b3b3b3" stroke-width="0.6"/>
<text transform="matrix(0.89,0,0,1,414.33,716.25)" text-anchor="middle" font-size="6.7">40</text>
<line x1="454.9" y1="709.5" x2="454.9" y2="710.8" stroke="#b3b3b3" stroke-width="0.6"/>
<text transform="matrix(0.89,0,0,1,454.9,716.25)" text-anchor="middle" font-size="6.7">52</text>
<text transform="matrix(0.84,0,0,1,360.85,722.1)" text-anchor="middle" font-size="6.2">Week</text>
<text transform="matrix(0.9,0,0,1,360.85,611.2)" text-anchor="middle" font-size="7.5">2019</text>
<rect x="433.3" y="614.6" width="28" height="18.0" rx="1" fill="#fff" fill-opacity="0.85" stroke="#e2e2e2" stroke-width="0.6"/>
<line x1="434.9" y1="619.5" x2="445.8" y2="619.5" stroke="#fa8a1c" stroke-width="1" stroke-dasharray="2.7,1.4"/>
<text transform="matrix(0.86,0,0,1,449,621.4)" font-size="6.0">True</text>
<line x1="434.9" y1="627.4" x2="445.8" y2="627.4" stroke="#55b355" stroke-width="1"/>
<text transform="matrix(0.86,0,0,1,449,629.3)" font-size="6.0">Test</text>
<clipPath id="c17"><rect x="481.6" y="612.5" width="200.9" height="96.9"/></clipPath>
<polyline clip-path="url(#c17)" points="490.73,678.02 494.31,677.8 497.89,675.82 501.48,679.78 505.06,675.6 508.64,669.67 512.22,680.22 515.8,681.97 519.38,682.85 522.96,678.24 526.54,686.15 530.12,675.6 533.71,679.78 537.29,675.6 540.87,673.85 544.45,677.8 548.03,682.41 551.61,678.24 555.19,675.82 558.77,669.67 562.35,681.1 565.94,671.87 569.52,677.8 573.1,659.78 576.68,662.64 580.26,669.01 583.84,671.21 587.42,673.41 591,669.67 594.58,662.64 598.16,666.16 601.75,656.71 605.33,649.68 608.91,668.35 612.49,667.03 616.07,669.01 619.65,670.99 623.23,645.28 626.81,670.55 630.39,676.92 633.98,681.97 637.56,684.17 641.14,673.85 644.72,680.22 648.3,686.37 651.88,686.59 655.46,684.17 659.04,680.22 662.62,676.26 666.21,664.84 669.79,664.84 673.37,671.65" fill="none" stroke="#fa8a1c" stroke-width="1.1" stroke-dasharray="2.7,1.4" stroke-linejoin="round"/>
<polyline clip-path="url(#c17)" points="490.73,672.09 494.31,682.41 497.89,691.2 501.48,692.08 505.06,687.03 508.64,691.64 512.22,684.61 515.8,681.54 519.38,688.57 522.96,682.41 526.54,687.03 530.12,676.26 533.71,693.18 537.29,669.45 540.87,663.3 544.45,655.39 548.03,656.49 551.61,649.46 555.19,663.3 558.77,659.56 562.35,634.52 565.94,643.52 569.52,665.28 573.1,658.69 576.68,663.3 580.26,632.98 583.84,617.6 587.42,651 591,654.07 594.58,666.38 598.16,675.6 601.75,673.19 605.33,683.95 608.91,688.57 612.49,693.18 616.07,705.26 619.65,678.68 623.23,666.38 626.81,681.54 630.39,661.98 633.98,672.53 637.56,683.51 641.14,682.41 644.72,683.07 648.3,667.91 651.88,677.8 655.46,683.95 659.04,685.05 662.62,680 666.21,681.54 669.79,684.61 673.37,670.11" fill="none" stroke="#55b355" stroke-width="0.95" stroke-linejoin="round"/>
<rect x="481.6" y="612.5" width="200.9" height="96.9" fill="none" stroke="#b3b3b3" stroke-width="0.9"/>
<line x1="480.3" y1="704.39" x2="481.6" y2="704.39" stroke="#b3b3b3" stroke-width="0.6"/>
<text transform="matrix(0.89,0,0,1,480,706.84)" text-anchor="end" font-size="6.7">−0.5</text>
<line x1="480.3" y1="693.4" x2="481.6" y2="693.4" stroke="#b3b3b3" stroke-width="0.6"/>
<text transform="matrix(0.89,0,0,1,480,695.85)" text-anchor="end" font-size="6.7">0.0</text>
<line x1="480.3" y1="682.41" x2="481.6" y2="682.41" stroke="#b3b3b3" stroke-width="0.6"/>
<text transform="matrix(0.89,0,0,1,480,684.86)" text-anchor="end" font-size="6.7">0.5</text>
<line x1="480.3" y1="671.43" x2="481.6" y2="671.43" stroke="#b3b3b3" stroke-width="0.6"/>
<text transform="matrix(0.89,0,0,1,480,673.88)" text-anchor="end" font-size="6.7">1.0</text>
<line x1="480.3" y1="660.44" x2="481.6" y2="660.44" stroke="#b3b3b3" stroke-width="0.6"/>
<text transform="matrix(0.89,0,0,1,480,662.89)" text-anchor="end" font-size="6.7">1.5</text>
<line x1="480.3" y1="649.46" x2="481.6" y2="649.46" stroke="#b3b3b3" stroke-width="0.6"/>
<text transform="matrix(0.89,0,0,1,480,651.91)" text-anchor="end" font-size="6.7">2.0</text>
<line x1="480.3" y1="638.47" x2="481.6" y2="638.47" stroke="#b3b3b3" stroke-width="0.6"/>
<text transform="matrix(0.89,0,0,1,480,640.92)" text-anchor="end" font-size="6.7">2.5</text>
<line x1="480.3" y1="627.49" x2="481.6" y2="627.49" stroke="#b3b3b3" stroke-width="0.6"/>
<text transform="matrix(0.89,0,0,1,480,629.94)" text-anchor="end" font-size="6.7">3.0</text>
<line x1="480.3" y1="616.5" x2="481.6" y2="616.5" stroke="#b3b3b3" stroke-width="0.6"/>
<text transform="matrix(0.89,0,0,1,480,618.95)" text-anchor="end" font-size="6.7">3.5</text>
<line x1="490.73" y1="709.4" x2="490.73" y2="710.7" stroke="#b3b3b3" stroke-width="0.6"/>
<text transform="matrix(0.89,0,0,1,490.73,716.15)" text-anchor="middle" font-size="6.7">1</text>
<line x1="526.54" y1="709.4" x2="526.54" y2="710.7" stroke="#b3b3b3" stroke-width="0.6"/>
<text transform="matrix(0.89,0,0,1,526.54,716.15)" text-anchor="middle" font-size="6.7">10</text>
<line x1="562.35" y1="709.4" x2="562.35" y2="710.7" stroke="#b3b3b3" stroke-width="0.6"/>
<text transform="matrix(0.89,0,0,1,562.35,716.15)" text-anchor="middle" font-size="6.7">20</text>
<line x1="598.16" y1="709.4" x2="598.16" y2="710.7" stroke="#b3b3b3" stroke-width="0.6"/>
<text transform="matrix(0.89,0,0,1,598.16,716.15)" text-anchor="middle" font-size="6.7">30</text>
<line x1="633.98" y1="709.4" x2="633.98" y2="710.7" stroke="#b3b3b3" stroke-width="0.6"/>
<text transform="matrix(0.89,0,0,1,633.98,716.15)" text-anchor="middle" font-size="6.7">40</text>
<line x1="673.37" y1="709.4" x2="673.37" y2="710.7" stroke="#b3b3b3" stroke-width="0.6"/>
<text transform="matrix(0.89,0,0,1,673.37,716.15)" text-anchor="middle" font-size="6.7">52</text>
<text transform="matrix(0.84,0,0,1,582.05,722)" text-anchor="middle" font-size="6.2">Week</text>
<text transform="matrix(0.9,0,0,1,582.05,611.2)" text-anchor="middle" font-size="7.5">2020</text>
<rect x="652.1" y="614.6" width="28" height="18.0" rx="1" fill="#fff" fill-opacity="0.85" stroke="#e2e2e2" stroke-width="0.6"/>
<line x1="653.7" y1="619.5" x2="664.6" y2="619.5" stroke="#fa8a1c" stroke-width="1" stroke-dasharray="2.7,1.4"/>
<text transform="matrix(0.86,0,0,1,667.8,621.4)" font-size="6.0">True</text>
<line x1="653.7" y1="627.4" x2="664.6" y2="627.4" stroke="#55b355" stroke-width="1"/>
<text transform="matrix(0.86,0,0,1,667.8,629.3)" font-size="6.0">Test</text>
<text class="ser" x="2.3" y="20.5" font-size="14.5">A)</text>
<text class="ser" x="2.8" y="142" font-size="14.5">B)</text>
<text class="ser" x="2.8" y="262.8" font-size="14.5">C)</text>
<text class="ser" x="2.3" y="382.8" font-size="14.5">D)</text>
<text class="ser" x="3.5" y="503.7" font-size="14.5">E)</text>
<text class="ser" x="3.8" y="624.9" font-size="14.5">F)</text>

</svg>
</body></html>
